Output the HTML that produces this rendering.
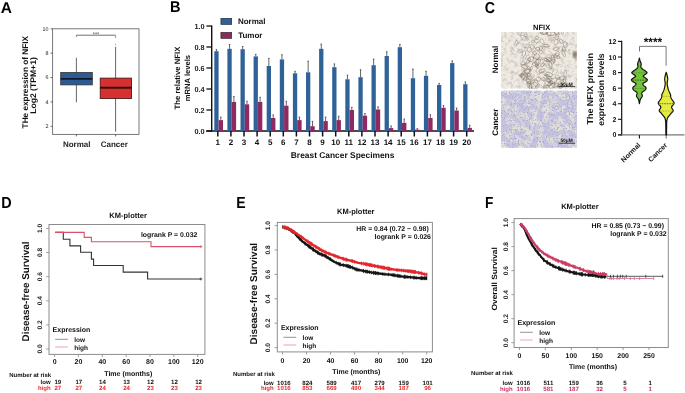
<!DOCTYPE html>
<html><head><meta charset="utf-8"><title>Figure</title>
<style>
html,body{margin:0;padding:0;background:#fff;width:685px;height:393px;overflow:hidden;}
svg{display:block;font-family:"Liberation Sans", sans-serif;will-change:transform;text-rendering:geometricPrecision;}
</style></head><body>
<svg width="685" height="393" viewBox="0 0 685 393">
<defs>
<clipPath id="clipN"><rect x="501" y="32" width="76" height="56.8"/></clipPath>
<clipPath id="clipC"><rect x="501" y="90.6" width="76" height="57.1"/></clipPath>
<filter id="noiseN" x="0" y="0" width="100%" height="100%" color-interpolation-filters="sRGB">
 <feTurbulence type="fractalNoise" baseFrequency="0.28" numOctaves="3" seed="4"/>
 <feColorMatrix type="matrix" values="0 0 0 0 0.68  0 0 0 0 0.64  0 0 0 0 0.59  0 0 0 1.5 -0.68" />
</filter>
<filter id="noiseC" x="0" y="0" width="100%" height="100%" color-interpolation-filters="sRGB">
 <feTurbulence type="fractalNoise" baseFrequency="0.16" numOctaves="3" seed="9"/>
 <feColorMatrix type="matrix" values="0 0 0 0 0.775  0 0 0 0 0.77  0 0 0 0 0.88  0 0 0 5 -1.85" />
</filter>
<filter id="noiseC2" x="0" y="0" width="100%" height="100%" color-interpolation-filters="sRGB">
 <feTurbulence type="fractalNoise" baseFrequency="0.65" numOctaves="2" seed="21"/>
 <feColorMatrix type="matrix" values="0 0 0 0 0.68  0 0 0 0 0.68  0 0 0 0 0.83  0 0 0 5 -2.6" />
</filter>
<filter id="blur03"><feGaussianBlur stdDeviation="0.35"/></filter>
<filter id="blur1"><feGaussianBlur stdDeviation="1"/></filter>
<filter id="blur05"><feGaussianBlur stdDeviation="0.6"/></filter>
</defs>
<rect width="685" height="393" fill="#fff"/>
<text x="0" y="0" font-size="15.5" font-weight="bold" fill="#000" transform="translate(0.81 12.90) scale(1.0 1)">A</text>
<rect x="52.6" y="28.8" width="86.4" height="105.6" fill="none" stroke="#6a6a6a" stroke-width="0.9"/>
<line x1="50.60" y1="126.32" x2="52.60" y2="126.32" stroke="#444" stroke-width="0.8" />
<text x="48.40" y="128.22" font-size="5.3" font-weight="normal" text-anchor="end" fill="#222" >2</text>
<line x1="50.60" y1="101.94" x2="52.60" y2="101.94" stroke="#444" stroke-width="0.8" />
<text x="48.40" y="103.84" font-size="5.3" font-weight="normal" text-anchor="end" fill="#222" >4</text>
<line x1="50.60" y1="77.56" x2="52.60" y2="77.56" stroke="#444" stroke-width="0.8" />
<text x="48.40" y="79.46" font-size="5.3" font-weight="normal" text-anchor="end" fill="#222" >6</text>
<line x1="50.60" y1="53.18" x2="52.60" y2="53.18" stroke="#444" stroke-width="0.8" />
<text x="48.40" y="55.08" font-size="5.3" font-weight="normal" text-anchor="end" fill="#222" >8</text>
<line x1="50.60" y1="28.80" x2="52.60" y2="28.80" stroke="#444" stroke-width="0.8" />
<text x="48.40" y="30.70" font-size="5.3" font-weight="normal" text-anchor="end" fill="#222" >10</text>
<line x1="76.40" y1="35.20" x2="115.60" y2="35.20" stroke="#707070" stroke-width="1.0" />
<line x1="76.40" y1="35.20" x2="76.40" y2="36.90" stroke="#707070" stroke-width="0.9" />
<line x1="115.60" y1="35.20" x2="115.60" y2="38.00" stroke="#8a8a8a" stroke-width="0.9" />
<text x="96.00" y="35.90" font-size="5.5" font-weight="normal" text-anchor="middle" fill="#333" >***</text>
<line x1="76.40" y1="57.80" x2="76.40" y2="102.30" stroke="#555" stroke-width="0.9" />
<rect x="60.70" y="72.50" width="31.60" height="12.40" fill="#2c5a94" stroke="#333" stroke-width="0.8" />
<line x1="60.70" y1="78.90" x2="92.30" y2="78.90" stroke="#101828" stroke-width="1.9" />
<line x1="115.60" y1="46.70" x2="115.60" y2="131.70" stroke="#555" stroke-width="0.9" />
<circle cx="115.6" cy="44.2" r="0.5" fill="#666"/>
<rect x="100.20" y="78.10" width="31.40" height="20.50" fill="#d63031" stroke="#3a1010" stroke-width="0.8" />
<line x1="100.20" y1="87.70" x2="131.60" y2="87.70" stroke="#2a0808" stroke-width="1.9" />
<line x1="76.40" y1="134.40" x2="76.40" y2="136.40" stroke="#444" stroke-width="0.8" />
<line x1="115.60" y1="134.40" x2="115.60" y2="136.40" stroke="#444" stroke-width="0.8" />
<text x="76.70" y="147.40" font-size="8" font-weight="bold" text-anchor="middle" fill="#222" >Normal</text>
<text x="114.30" y="147.40" font-size="8" font-weight="bold" text-anchor="middle" fill="#222" >Cancer</text>
<text x="28.20" y="82.20" font-size="8.2" font-weight="bold" text-anchor="middle" fill="#111" textLength="92.4" lengthAdjust="spacingAndGlyphs" transform="rotate(-90 28.20 82.20)" >THe expression of NFIX</text>
<text x="36.00" y="85.50" font-size="8.2" font-weight="bold" text-anchor="middle" fill="#111" textLength="56.6" lengthAdjust="spacingAndGlyphs" transform="rotate(-90 36.00 85.50)" >Log2 (TPM+1)</text>
<text x="0" y="0" font-size="15.5" font-weight="bold" fill="#000" transform="translate(170.02 12.10) scale(0.94 1)">B</text>
<line x1="211.70" y1="25.50" x2="211.70" y2="131.60" stroke="#111" stroke-width="1.4" />
<line x1="206.30" y1="131.00" x2="474.00" y2="131.00" stroke="#111" stroke-width="1.4" />
<line x1="206.40" y1="131.00" x2="211.70" y2="131.00" stroke="#111" stroke-width="1.3" />
<text x="204.60" y="133.50" font-size="7.3" font-weight="bold" text-anchor="end" fill="#222" >0.0</text>
<line x1="206.40" y1="110.00" x2="211.70" y2="110.00" stroke="#111" stroke-width="1.3" />
<text x="204.60" y="112.50" font-size="7.3" font-weight="bold" text-anchor="end" fill="#222" >0.2</text>
<line x1="206.40" y1="89.00" x2="211.70" y2="89.00" stroke="#111" stroke-width="1.3" />
<text x="204.60" y="91.50" font-size="7.3" font-weight="bold" text-anchor="end" fill="#222" >0.4</text>
<line x1="206.40" y1="68.00" x2="211.70" y2="68.00" stroke="#111" stroke-width="1.3" />
<text x="204.60" y="70.50" font-size="7.3" font-weight="bold" text-anchor="end" fill="#222" >0.6</text>
<line x1="206.40" y1="47.00" x2="211.70" y2="47.00" stroke="#111" stroke-width="1.3" />
<text x="204.60" y="49.50" font-size="7.3" font-weight="bold" text-anchor="end" fill="#222" >0.8</text>
<line x1="206.40" y1="26.00" x2="211.70" y2="26.00" stroke="#111" stroke-width="1.3" />
<text x="204.60" y="28.50" font-size="7.3" font-weight="bold" text-anchor="end" fill="#222" >1.0</text>
<line x1="216.45" y1="49.60" x2="216.45" y2="51.20" stroke="#222" stroke-width="0.7" />
<line x1="215.65" y1="49.60" x2="217.25" y2="49.60" stroke="#222" stroke-width="0.6" />
<rect x="214.30" y="51.20" width="4.30" height="79.80" fill="#30629a" stroke="none" stroke-width="0" />
<line x1="220.80" y1="117.00" x2="220.80" y2="120.10" stroke="#222" stroke-width="0.7" />
<line x1="220.00" y1="117.00" x2="221.60" y2="117.00" stroke="#222" stroke-width="0.6" />
<rect x="218.60" y="120.10" width="4.40" height="10.90" fill="#8e2a60" stroke="none" stroke-width="0" />
<line x1="217.80" y1="131.00" x2="217.80" y2="136.50" stroke="#111" stroke-width="1.5" />
<text x="217.80" y="145.00" font-size="8.0" font-weight="bold" text-anchor="middle" fill="#111" >1</text>
<line x1="229.55" y1="44.50" x2="229.55" y2="48.80" stroke="#222" stroke-width="0.7" />
<line x1="228.75" y1="44.50" x2="230.35" y2="44.50" stroke="#222" stroke-width="0.6" />
<rect x="227.40" y="48.80" width="4.30" height="82.20" fill="#30629a" stroke="none" stroke-width="0" />
<line x1="233.90" y1="96.50" x2="233.90" y2="101.90" stroke="#222" stroke-width="0.7" />
<line x1="233.10" y1="96.50" x2="234.70" y2="96.50" stroke="#222" stroke-width="0.6" />
<rect x="231.70" y="101.90" width="4.40" height="29.10" fill="#8e2a60" stroke="none" stroke-width="0" />
<line x1="230.90" y1="131.00" x2="230.90" y2="136.50" stroke="#111" stroke-width="1.5" />
<text x="230.90" y="145.00" font-size="8.0" font-weight="bold" text-anchor="middle" fill="#111" >2</text>
<line x1="242.65" y1="46.50" x2="242.65" y2="49.20" stroke="#222" stroke-width="0.7" />
<line x1="241.85" y1="46.50" x2="243.45" y2="46.50" stroke="#222" stroke-width="0.6" />
<rect x="240.50" y="49.20" width="4.30" height="81.80" fill="#30629a" stroke="none" stroke-width="0" />
<line x1="247.00" y1="101.20" x2="247.00" y2="104.30" stroke="#222" stroke-width="0.7" />
<line x1="246.20" y1="101.20" x2="247.80" y2="101.20" stroke="#222" stroke-width="0.6" />
<rect x="244.80" y="104.30" width="4.40" height="26.70" fill="#8e2a60" stroke="none" stroke-width="0" />
<line x1="244.00" y1="131.00" x2="244.00" y2="136.50" stroke="#111" stroke-width="1.5" />
<text x="244.00" y="145.00" font-size="8.0" font-weight="bold" text-anchor="middle" fill="#111" >3</text>
<line x1="255.75" y1="54.30" x2="255.75" y2="56.40" stroke="#222" stroke-width="0.7" />
<line x1="254.95" y1="54.30" x2="256.55" y2="54.30" stroke="#222" stroke-width="0.6" />
<rect x="253.60" y="56.40" width="4.30" height="74.60" fill="#30629a" stroke="none" stroke-width="0" />
<line x1="260.10" y1="97.20" x2="260.10" y2="101.90" stroke="#222" stroke-width="0.7" />
<line x1="259.30" y1="97.20" x2="260.90" y2="97.20" stroke="#222" stroke-width="0.6" />
<rect x="257.90" y="101.90" width="4.40" height="29.10" fill="#8e2a60" stroke="none" stroke-width="0" />
<line x1="257.10" y1="131.00" x2="257.10" y2="136.50" stroke="#111" stroke-width="1.5" />
<text x="257.10" y="145.00" font-size="8.0" font-weight="bold" text-anchor="middle" fill="#111" >4</text>
<line x1="268.85" y1="58.40" x2="268.85" y2="66.00" stroke="#222" stroke-width="0.7" />
<line x1="268.05" y1="58.40" x2="269.65" y2="58.40" stroke="#222" stroke-width="0.6" />
<rect x="266.70" y="66.00" width="4.30" height="65.00" fill="#30629a" stroke="none" stroke-width="0" />
<line x1="273.20" y1="114.90" x2="273.20" y2="118.00" stroke="#222" stroke-width="0.7" />
<line x1="272.40" y1="114.90" x2="274.00" y2="114.90" stroke="#222" stroke-width="0.6" />
<rect x="271.00" y="118.00" width="4.40" height="13.00" fill="#8e2a60" stroke="none" stroke-width="0" />
<line x1="270.20" y1="131.00" x2="270.20" y2="136.50" stroke="#111" stroke-width="1.5" />
<text x="270.20" y="145.00" font-size="8.0" font-weight="bold" text-anchor="middle" fill="#111" >5</text>
<line x1="281.95" y1="54.70" x2="281.95" y2="59.40" stroke="#222" stroke-width="0.7" />
<line x1="281.15" y1="54.70" x2="282.75" y2="54.70" stroke="#222" stroke-width="0.6" />
<rect x="279.80" y="59.40" width="4.30" height="71.60" fill="#30629a" stroke="none" stroke-width="0" />
<line x1="286.30" y1="101.20" x2="286.30" y2="105.70" stroke="#222" stroke-width="0.7" />
<line x1="285.50" y1="101.20" x2="287.10" y2="101.20" stroke="#222" stroke-width="0.6" />
<rect x="284.10" y="105.70" width="4.40" height="25.30" fill="#8e2a60" stroke="none" stroke-width="0" />
<line x1="283.30" y1="131.00" x2="283.30" y2="136.50" stroke="#111" stroke-width="1.5" />
<text x="283.30" y="145.00" font-size="8.0" font-weight="bold" text-anchor="middle" fill="#111" >6</text>
<line x1="295.05" y1="71.30" x2="295.05" y2="73.30" stroke="#222" stroke-width="0.7" />
<line x1="294.25" y1="71.30" x2="295.85" y2="71.30" stroke="#222" stroke-width="0.6" />
<rect x="292.90" y="73.30" width="4.30" height="57.70" fill="#30629a" stroke="none" stroke-width="0" />
<line x1="299.40" y1="117.00" x2="299.40" y2="120.10" stroke="#222" stroke-width="0.7" />
<line x1="298.60" y1="117.00" x2="300.20" y2="117.00" stroke="#222" stroke-width="0.6" />
<rect x="297.20" y="120.10" width="4.40" height="10.90" fill="#8e2a60" stroke="none" stroke-width="0" />
<line x1="296.40" y1="131.00" x2="296.40" y2="136.50" stroke="#111" stroke-width="1.5" />
<text x="296.40" y="145.00" font-size="8.0" font-weight="bold" text-anchor="middle" fill="#111" >7</text>
<line x1="308.15" y1="61.10" x2="308.15" y2="72.30" stroke="#222" stroke-width="0.7" />
<line x1="307.35" y1="61.10" x2="308.95" y2="61.10" stroke="#222" stroke-width="0.6" />
<rect x="306.00" y="72.30" width="4.30" height="58.70" fill="#30629a" stroke="none" stroke-width="0" />
<line x1="312.50" y1="121.30" x2="312.50" y2="126.20" stroke="#222" stroke-width="0.7" />
<line x1="311.70" y1="121.30" x2="313.30" y2="121.30" stroke="#222" stroke-width="0.6" />
<rect x="310.30" y="126.20" width="4.40" height="4.80" fill="#8e2a60" stroke="none" stroke-width="0" />
<line x1="309.50" y1="131.00" x2="309.50" y2="136.50" stroke="#111" stroke-width="1.5" />
<text x="309.50" y="145.00" font-size="8.0" font-weight="bold" text-anchor="middle" fill="#111" >8</text>
<line x1="321.25" y1="44.10" x2="321.25" y2="48.80" stroke="#222" stroke-width="0.7" />
<line x1="320.45" y1="44.10" x2="322.05" y2="44.10" stroke="#222" stroke-width="0.6" />
<rect x="319.10" y="48.80" width="4.30" height="82.20" fill="#30629a" stroke="none" stroke-width="0" />
<line x1="325.60" y1="117.00" x2="325.60" y2="121.10" stroke="#222" stroke-width="0.7" />
<line x1="324.80" y1="117.00" x2="326.40" y2="117.00" stroke="#222" stroke-width="0.6" />
<rect x="323.40" y="121.10" width="4.40" height="9.90" fill="#8e2a60" stroke="none" stroke-width="0" />
<line x1="322.60" y1="131.00" x2="322.60" y2="136.50" stroke="#111" stroke-width="1.5" />
<text x="322.60" y="145.00" font-size="8.0" font-weight="bold" text-anchor="middle" fill="#111" >9</text>
<line x1="334.35" y1="63.90" x2="334.35" y2="67.20" stroke="#222" stroke-width="0.7" />
<line x1="333.55" y1="63.90" x2="335.15" y2="63.90" stroke="#222" stroke-width="0.6" />
<rect x="332.20" y="67.20" width="4.30" height="63.80" fill="#30629a" stroke="none" stroke-width="0" />
<line x1="338.70" y1="116.20" x2="338.70" y2="120.10" stroke="#222" stroke-width="0.7" />
<line x1="337.90" y1="116.20" x2="339.50" y2="116.20" stroke="#222" stroke-width="0.6" />
<rect x="336.50" y="120.10" width="4.40" height="10.90" fill="#8e2a60" stroke="none" stroke-width="0" />
<line x1="335.70" y1="131.00" x2="335.70" y2="136.50" stroke="#111" stroke-width="1.5" />
<text x="335.70" y="145.00" font-size="8.0" font-weight="bold" text-anchor="middle" fill="#111" >10</text>
<line x1="347.45" y1="75.20" x2="347.45" y2="79.30" stroke="#222" stroke-width="0.7" />
<line x1="346.65" y1="75.20" x2="348.25" y2="75.20" stroke="#222" stroke-width="0.6" />
<rect x="345.30" y="79.30" width="4.30" height="51.70" fill="#30629a" stroke="none" stroke-width="0" />
<line x1="351.80" y1="107.30" x2="351.80" y2="110.00" stroke="#222" stroke-width="0.7" />
<line x1="351.00" y1="107.30" x2="352.60" y2="107.30" stroke="#222" stroke-width="0.6" />
<rect x="349.60" y="110.00" width="4.40" height="21.00" fill="#8e2a60" stroke="none" stroke-width="0" />
<line x1="348.80" y1="131.00" x2="348.80" y2="136.50" stroke="#111" stroke-width="1.5" />
<text x="348.80" y="145.00" font-size="8.0" font-weight="bold" text-anchor="middle" fill="#111" >11</text>
<line x1="360.55" y1="69.70" x2="360.55" y2="77.20" stroke="#222" stroke-width="0.7" />
<line x1="359.75" y1="69.70" x2="361.35" y2="69.70" stroke="#222" stroke-width="0.6" />
<rect x="358.40" y="77.20" width="4.30" height="53.80" fill="#30629a" stroke="none" stroke-width="0" />
<line x1="364.90" y1="113.50" x2="364.90" y2="115.70" stroke="#222" stroke-width="0.7" />
<line x1="364.10" y1="113.50" x2="365.70" y2="113.50" stroke="#222" stroke-width="0.6" />
<rect x="362.70" y="115.70" width="4.40" height="15.30" fill="#8e2a60" stroke="none" stroke-width="0" />
<line x1="361.90" y1="131.00" x2="361.90" y2="136.50" stroke="#111" stroke-width="1.5" />
<text x="361.90" y="145.00" font-size="8.0" font-weight="bold" text-anchor="middle" fill="#111" >12</text>
<line x1="373.65" y1="59.00" x2="373.65" y2="65.20" stroke="#222" stroke-width="0.7" />
<line x1="372.85" y1="59.00" x2="374.45" y2="59.00" stroke="#222" stroke-width="0.6" />
<rect x="371.50" y="65.20" width="4.30" height="65.80" fill="#30629a" stroke="none" stroke-width="0" />
<line x1="378.00" y1="106.80" x2="378.00" y2="109.50" stroke="#222" stroke-width="0.7" />
<line x1="377.20" y1="106.80" x2="378.80" y2="106.80" stroke="#222" stroke-width="0.6" />
<rect x="375.80" y="109.50" width="4.40" height="21.50" fill="#8e2a60" stroke="none" stroke-width="0" />
<line x1="375.00" y1="131.00" x2="375.00" y2="136.50" stroke="#111" stroke-width="1.5" />
<text x="375.00" y="145.00" font-size="8.0" font-weight="bold" text-anchor="middle" fill="#111" >13</text>
<line x1="386.75" y1="51.70" x2="386.75" y2="56.00" stroke="#222" stroke-width="0.7" />
<line x1="385.95" y1="51.70" x2="387.55" y2="51.70" stroke="#222" stroke-width="0.6" />
<rect x="384.60" y="56.00" width="4.30" height="75.00" fill="#30629a" stroke="none" stroke-width="0" />
<line x1="391.10" y1="125.90" x2="391.10" y2="128.10" stroke="#222" stroke-width="0.7" />
<line x1="390.30" y1="125.90" x2="391.90" y2="125.90" stroke="#222" stroke-width="0.6" />
<rect x="388.90" y="128.10" width="4.40" height="2.90" fill="#8e2a60" stroke="none" stroke-width="0" />
<line x1="388.10" y1="131.00" x2="388.10" y2="136.50" stroke="#111" stroke-width="1.5" />
<text x="388.10" y="145.00" font-size="8.0" font-weight="bold" text-anchor="middle" fill="#111" >14</text>
<line x1="399.85" y1="44.50" x2="399.85" y2="47.20" stroke="#222" stroke-width="0.7" />
<line x1="399.05" y1="44.50" x2="400.65" y2="44.50" stroke="#222" stroke-width="0.6" />
<rect x="397.70" y="47.20" width="4.30" height="83.80" fill="#30629a" stroke="none" stroke-width="0" />
<line x1="404.20" y1="119.00" x2="404.20" y2="122.90" stroke="#222" stroke-width="0.7" />
<line x1="403.40" y1="119.00" x2="405.00" y2="119.00" stroke="#222" stroke-width="0.6" />
<rect x="402.00" y="122.90" width="4.40" height="8.10" fill="#8e2a60" stroke="none" stroke-width="0" />
<line x1="401.20" y1="131.00" x2="401.20" y2="136.50" stroke="#111" stroke-width="1.5" />
<text x="401.20" y="145.00" font-size="8.0" font-weight="bold" text-anchor="middle" fill="#111" >15</text>
<line x1="412.95" y1="69.00" x2="412.95" y2="78.20" stroke="#222" stroke-width="0.7" />
<line x1="412.15" y1="69.00" x2="413.75" y2="69.00" stroke="#222" stroke-width="0.6" />
<rect x="410.80" y="78.20" width="4.30" height="52.80" fill="#30629a" stroke="none" stroke-width="0" />
<line x1="417.30" y1="128.60" x2="417.30" y2="129.60" stroke="#222" stroke-width="0.7" />
<line x1="416.50" y1="128.60" x2="418.10" y2="128.60" stroke="#222" stroke-width="0.6" />
<rect x="415.10" y="129.60" width="4.40" height="1.40" fill="#8e2a60" stroke="none" stroke-width="0" />
<line x1="414.30" y1="131.00" x2="414.30" y2="136.50" stroke="#111" stroke-width="1.5" />
<text x="414.30" y="145.00" font-size="8.0" font-weight="bold" text-anchor="middle" fill="#111" >16</text>
<line x1="426.05" y1="71.30" x2="426.05" y2="75.80" stroke="#222" stroke-width="0.7" />
<line x1="425.25" y1="71.30" x2="426.85" y2="71.30" stroke="#222" stroke-width="0.6" />
<rect x="423.90" y="75.80" width="4.30" height="55.20" fill="#30629a" stroke="none" stroke-width="0" />
<line x1="430.40" y1="114.70" x2="430.40" y2="118.00" stroke="#222" stroke-width="0.7" />
<line x1="429.60" y1="114.70" x2="431.20" y2="114.70" stroke="#222" stroke-width="0.6" />
<rect x="428.20" y="118.00" width="4.40" height="13.00" fill="#8e2a60" stroke="none" stroke-width="0" />
<line x1="427.40" y1="131.00" x2="427.40" y2="136.50" stroke="#111" stroke-width="1.5" />
<text x="427.40" y="145.00" font-size="8.0" font-weight="bold" text-anchor="middle" fill="#111" >17</text>
<line x1="439.15" y1="83.40" x2="439.15" y2="85.00" stroke="#222" stroke-width="0.7" />
<line x1="438.35" y1="83.40" x2="439.95" y2="83.40" stroke="#222" stroke-width="0.6" />
<rect x="437.00" y="85.00" width="4.30" height="46.00" fill="#30629a" stroke="none" stroke-width="0" />
<line x1="443.50" y1="105.60" x2="443.50" y2="107.80" stroke="#222" stroke-width="0.7" />
<line x1="442.70" y1="105.60" x2="444.30" y2="105.60" stroke="#222" stroke-width="0.6" />
<rect x="441.30" y="107.80" width="4.40" height="23.20" fill="#8e2a60" stroke="none" stroke-width="0" />
<line x1="440.50" y1="131.00" x2="440.50" y2="136.50" stroke="#111" stroke-width="1.5" />
<text x="440.50" y="145.00" font-size="8.0" font-weight="bold" text-anchor="middle" fill="#111" >18</text>
<line x1="452.25" y1="60.90" x2="452.25" y2="63.10" stroke="#222" stroke-width="0.7" />
<line x1="451.45" y1="60.90" x2="453.05" y2="60.90" stroke="#222" stroke-width="0.6" />
<rect x="450.10" y="63.10" width="4.30" height="67.90" fill="#30629a" stroke="none" stroke-width="0" />
<line x1="456.60" y1="108.00" x2="456.60" y2="110.50" stroke="#222" stroke-width="0.7" />
<line x1="455.80" y1="108.00" x2="457.40" y2="108.00" stroke="#222" stroke-width="0.6" />
<rect x="454.40" y="110.50" width="4.40" height="20.50" fill="#8e2a60" stroke="none" stroke-width="0" />
<line x1="453.60" y1="131.00" x2="453.60" y2="136.50" stroke="#111" stroke-width="1.5" />
<text x="453.60" y="145.00" font-size="8.0" font-weight="bold" text-anchor="middle" fill="#111" >19</text>
<line x1="465.35" y1="81.90" x2="465.35" y2="84.20" stroke="#222" stroke-width="0.7" />
<line x1="464.55" y1="81.90" x2="466.15" y2="81.90" stroke="#222" stroke-width="0.6" />
<rect x="463.20" y="84.20" width="4.30" height="46.80" fill="#30629a" stroke="none" stroke-width="0" />
<line x1="469.70" y1="125.20" x2="469.70" y2="127.90" stroke="#222" stroke-width="0.7" />
<line x1="468.90" y1="125.20" x2="470.50" y2="125.20" stroke="#222" stroke-width="0.6" />
<rect x="467.50" y="127.90" width="4.40" height="3.10" fill="#8e2a60" stroke="none" stroke-width="0" />
<line x1="466.70" y1="131.00" x2="466.70" y2="136.50" stroke="#111" stroke-width="1.5" />
<text x="466.70" y="145.00" font-size="8.0" font-weight="bold" text-anchor="middle" fill="#111" >20</text>
<text x="290.80" y="157.80" font-size="8.4" font-weight="bold" text-anchor="start" fill="#111" textLength="103.6" lengthAdjust="spacingAndGlyphs" >Breast Cancer Specimens</text>
<rect x="220.90" y="18.30" width="10.80" height="6.20" fill="#30629a" stroke="#222" stroke-width="0.6" />
<rect x="220.90" y="32.40" width="10.80" height="6.00" fill="#8e2a60" stroke="#222" stroke-width="0.6" />
<text x="237.90" y="24.30" font-size="8" font-weight="bold" text-anchor="start" fill="#111" >Normal</text>
<text x="238.20" y="38.30" font-size="8" font-weight="bold" text-anchor="start" fill="#111" >Tumor</text>
<text x="180.50" y="78.05" font-size="7.75" font-weight="bold" text-anchor="middle" fill="#111" textLength="62.9" lengthAdjust="spacingAndGlyphs" transform="rotate(-90 180.50 78.05)" >The relative NFIX</text>
<text x="189.70" y="78.05" font-size="7.6" font-weight="bold" text-anchor="middle" fill="#111" textLength="46.3" lengthAdjust="spacingAndGlyphs" transform="rotate(-90 189.70 78.05)" >mRNA levels</text>
<text x="0" y="0" font-size="15.8" font-weight="bold" fill="#000" transform="translate(484.72 12.60) scale(0.9 1)">C</text>
<text x="541.60" y="29.60" font-size="7.5" font-weight="bold" text-anchor="middle" fill="#111" >NFIX</text>
<g clip-path="url(#clipN)">
<rect x="501.00" y="32.00" width="76.00" height="56.80" fill="#efebe4" stroke="none" stroke-width="0" />
<rect x="501" y="32" width="76" height="56.8" filter="url(#noiseN)"/>
<g fill="none" stroke="#76685b" stroke-width="0.75" filter="url(#blur03)">
<path d="M552.3,74.6 L552.4,75.0 L552.3,75.4 L552.1,75.9 L551.8,76.2 L551.4,76.4 L550.8,76.6 L549.9,76.6 L549.0,76.5 L548.1,76.4 L547.3,76.2 L546.5,76.0 L545.7,75.8 L544.9,75.5 L544.3,75.2 L544.0,74.9 L544.0,74.6 L544.3,74.3 L544.8,74.0 L545.3,73.7 L545.8,73.4 L546.1,73.1 L546.5,72.8 L546.9,72.6 L547.3,72.4 L547.8,72.4 L548.3,72.4 L548.9,72.5 L549.6,72.7 L550.2,72.9 L550.7,73.2 L551.1,73.4 L551.6,73.7 L551.9,74.0 L552.2,74.3Z" opacity="0.72"/>
<path d="M541.3,65.9 L541.1,65.7 L540.9,65.5 L540.7,65.3 L540.6,65.1 L540.6,64.9 L540.8,64.6 L541.1,64.4 L541.5,64.1 L541.9,63.9 L542.3,63.6 L542.6,63.4 L543.0,63.2 L543.3,63.0 L543.6,62.8 L543.9,62.8 L544.0,62.9 L544.1,63.1 L544.2,63.4 L544.2,63.7 L544.2,64.0 L544.2,64.2 L544.1,64.5 L544.0,64.7 L543.8,64.9 L543.6,65.2 L543.4,65.5 L543.1,65.9 L542.9,66.3 L542.6,66.7 L542.3,66.8 L542.1,66.8 L541.9,66.7 L541.7,66.4 L541.5,66.2Z" opacity="0.72"/>
<path d="M539.1,71.8 L539.0,71.5 L539.1,71.1 L539.2,70.8 L539.5,70.4 L539.8,70.1 L540.2,69.8 L540.8,69.6 L541.4,69.3 L542.0,69.1 L542.5,69.0 L543.1,68.9 L543.6,68.9 L544.1,68.9 L544.5,69.0 L544.8,69.1 L545.1,69.3 L545.2,69.5 L545.2,69.8 L545.2,70.0 L545.1,70.3 L545.0,70.6 L544.7,71.0 L544.4,71.3 L544.1,71.6 L543.6,71.9 L543.1,72.2 L542.4,72.5 L541.7,72.7 L541.0,72.9 L540.4,73.0 L540.0,72.9 L539.6,72.7 L539.4,72.4 L539.2,72.1Z" opacity="0.74"/>
<path d="M528.7,79.2 L528.5,79.4 L528.1,79.5 L527.6,79.6 L527.1,79.7 L526.6,79.8 L526.2,79.9 L525.8,80.1 L525.4,80.2 L525.1,80.3 L524.7,80.3 L524.3,80.2 L523.8,79.9 L523.3,79.6 L523.0,79.3 L522.8,79.0 L522.9,78.8 L523.1,78.5 L523.5,78.3 L523.8,78.1 L524.1,77.9 L524.3,77.6 L524.6,77.3 L524.8,77.0 L525.0,76.8 L525.3,76.7 L525.7,76.8 L526.1,77.0 L526.5,77.2 L526.9,77.5 L527.3,77.7 L527.6,78.0 L528.1,78.3 L528.4,78.7 L528.7,79.0Z" opacity="0.63"/>
<path d="M543.3,34.4 L543.0,34.1 L542.8,33.6 L542.6,33.1 L542.5,32.6 L542.5,32.2 L542.7,31.8 L543.0,31.5 L543.4,31.2 L543.8,31.0 L544.2,30.8 L544.5,30.7 L544.9,30.6 L545.3,30.6 L545.6,30.6 L545.9,30.6 L546.2,30.8 L546.6,31.0 L546.9,31.2 L547.1,31.5 L547.3,31.8 L547.5,32.2 L547.5,32.7 L547.6,33.2 L547.5,33.6 L547.3,33.9 L547.1,34.1 L546.7,34.2 L546.3,34.2 L545.8,34.2 L545.4,34.2 L545.0,34.3 L544.5,34.4 L544.0,34.5 L543.6,34.5Z" opacity="0.43"/>
<path d="M558.6,79.2 L558.2,79.4 L557.8,79.6 L557.3,79.7 L556.8,79.7 L556.5,79.7 L556.2,79.5 L556.1,79.2 L555.9,78.8 L555.8,78.4 L555.8,78.0 L555.7,77.7 L555.6,77.3 L555.5,76.9 L555.5,76.5 L555.6,76.2 L555.9,76.0 L556.3,75.8 L556.8,75.6 L557.3,75.5 L557.7,75.5 L558.0,75.5 L558.3,75.6 L558.6,75.8 L558.9,76.0 L559.1,76.2 L559.3,76.4 L559.4,76.7 L559.5,77.0 L559.5,77.3 L559.5,77.6 L559.4,77.9 L559.3,78.3 L559.1,78.6 L558.8,78.9Z" opacity="0.39"/>
<path d="M553.8,90.3 L553.4,90.4 L553.0,90.5 L552.6,90.6 L552.2,90.6 L551.9,90.5 L551.6,90.3 L551.3,90.1 L551.0,89.8 L550.8,89.4 L550.7,89.1 L550.8,88.8 L551.0,88.4 L551.3,88.1 L551.6,87.8 L551.9,87.5 L552.3,87.3 L552.6,87.2 L553.0,87.0 L553.4,87.0 L553.7,87.0 L554.0,87.1 L554.2,87.3 L554.4,87.5 L554.6,87.8 L554.8,88.0 L555.0,88.3 L555.3,88.6 L555.6,89.0 L555.8,89.3 L555.8,89.6 L555.6,89.8 L555.2,90.0 L554.7,90.1 L554.2,90.2Z" opacity="0.56"/>
<path d="M550.6,79.1 L550.4,79.2 L550.2,79.4 L550.0,79.5 L549.7,79.5 L549.4,79.4 L549.0,79.2 L548.6,78.7 L548.1,78.2 L547.7,77.7 L547.4,77.2 L547.1,76.7 L546.9,76.1 L546.7,75.6 L546.6,75.1 L546.6,74.8 L546.7,74.6 L547.0,74.5 L547.3,74.5 L547.6,74.6 L548.0,74.7 L548.3,74.8 L548.6,74.9 L549.0,75.1 L549.3,75.4 L549.6,75.7 L549.9,76.1 L550.3,76.5 L550.6,77.0 L550.9,77.4 L551.1,77.8 L551.1,78.1 L551.1,78.4 L551.0,78.7 L550.8,78.9Z" opacity="0.69"/>
<path d="M535.7,48.9 L535.8,48.6 L535.9,48.3 L536.1,48.0 L536.3,47.8 L536.5,47.6 L536.8,47.4 L537.2,47.3 L537.5,47.2 L537.9,47.2 L538.2,47.2 L538.5,47.3 L538.7,47.4 L539.0,47.5 L539.2,47.7 L539.3,47.9 L539.5,48.1 L539.6,48.3 L539.7,48.5 L539.7,48.7 L539.7,48.9 L539.6,49.2 L539.4,49.5 L539.3,49.8 L539.0,50.0 L538.7,50.2 L538.4,50.3 L537.9,50.4 L537.4,50.4 L536.9,50.3 L536.6,50.2 L536.3,50.0 L536.1,49.8 L535.9,49.5 L535.8,49.2Z" opacity="0.75"/>
<path d="M530.9,80.2 L530.6,80.2 L530.2,80.0 L529.8,79.7 L529.4,79.4 L529.0,79.0 L528.6,78.7 L528.3,78.3 L528.0,77.8 L527.7,77.4 L527.4,76.9 L527.3,76.3 L527.1,75.7 L527.0,75.0 L527.0,74.4 L527.1,74.0 L527.3,73.7 L527.6,73.4 L528.0,73.3 L528.4,73.3 L528.8,73.4 L529.1,73.6 L529.5,74.0 L529.9,74.5 L530.2,75.0 L530.5,75.5 L530.9,76.1 L531.3,76.7 L531.7,77.3 L532.0,77.9 L532.1,78.4 L532.1,78.9 L531.9,79.4 L531.6,79.8 L531.3,80.1Z" opacity="0.65"/>
<path d="M550.8,68.7 L550.6,68.6 L550.3,68.4 L550.0,68.1 L549.7,67.7 L549.5,67.3 L549.3,66.8 L549.1,66.2 L548.9,65.6 L548.8,65.0 L548.8,64.5 L548.8,64.1 L549.0,63.6 L549.2,63.3 L549.4,62.9 L549.6,62.7 L549.8,62.4 L550.0,62.2 L550.3,62.1 L550.5,62.0 L550.7,62.1 L551.0,62.3 L551.2,62.7 L551.5,63.1 L551.7,63.6 L551.8,64.2 L551.9,64.7 L552.0,65.4 L552.0,66.0 L552.0,66.7 L551.9,67.2 L551.8,67.6 L551.6,68.0 L551.4,68.3 L551.1,68.6Z" opacity="0.62"/>
<path d="M528.4,83.5 L528.1,83.3 L527.8,83.0 L527.5,82.6 L527.3,82.1 L527.1,81.7 L526.8,81.2 L526.5,80.7 L526.2,80.1 L526.1,79.6 L526.0,79.0 L526.2,78.4 L526.4,77.7 L526.8,77.1 L527.2,76.5 L527.6,76.2 L528.0,76.1 L528.4,76.2 L528.9,76.5 L529.3,76.8 L529.7,77.1 L530.0,77.5 L530.3,77.9 L530.6,78.3 L530.9,78.8 L531.0,79.3 L531.0,80.0 L530.9,80.7 L530.8,81.4 L530.6,82.0 L530.4,82.5 L530.0,82.9 L529.6,83.2 L529.2,83.4 L528.7,83.5Z" opacity="0.73"/>
<path d="M555.0,45.1 L554.7,44.9 L554.5,44.6 L554.3,44.1 L554.1,43.6 L554.1,43.1 L554.1,42.6 L554.2,42.0 L554.3,41.3 L554.5,40.7 L554.7,40.3 L555.0,40.0 L555.4,39.8 L555.8,39.8 L556.2,39.7 L556.5,39.7 L556.8,39.6 L557.1,39.6 L557.4,39.7 L557.6,39.8 L557.8,39.9 L557.9,40.2 L558.1,40.6 L558.2,41.0 L558.2,41.4 L558.2,41.8 L558.1,42.3 L557.9,42.9 L557.6,43.4 L557.3,43.9 L557.0,44.3 L556.6,44.6 L556.2,44.9 L555.7,45.1 L555.3,45.2Z" opacity="0.52"/>
<path d="M515.6,45.3 L515.3,45.3 L514.9,45.3 L514.6,45.2 L514.4,45.0 L514.2,44.7 L514.3,44.3 L514.5,43.8 L514.8,43.3 L515.1,42.8 L515.4,42.3 L515.6,41.9 L515.8,41.4 L515.9,41.0 L516.1,40.7 L516.3,40.5 L516.6,40.5 L516.8,40.5 L517.0,40.6 L517.3,40.8 L517.4,41.0 L517.6,41.3 L517.7,41.7 L517.8,42.1 L517.8,42.5 L517.8,42.8 L517.7,43.2 L517.5,43.6 L517.2,44.0 L517.0,44.3 L516.8,44.6 L516.5,44.8 L516.3,45.0 L516.1,45.2 L515.8,45.3Z" opacity="0.59"/>
<path d="M565.3,56.2 L565.1,56.4 L564.9,56.4 L564.5,56.4 L564.2,56.3 L563.9,56.1 L563.5,55.7 L563.1,55.1 L562.7,54.4 L562.4,53.8 L562.1,53.2 L561.9,52.8 L561.9,52.3 L561.9,51.9 L561.9,51.5 L561.9,51.1 L562.0,50.8 L562.1,50.5 L562.2,50.2 L562.4,50.1 L562.6,50.1 L562.9,50.3 L563.3,50.6 L563.7,51.1 L564.1,51.6 L564.4,52.0 L564.7,52.5 L564.9,53.0 L565.1,53.6 L565.2,54.1 L565.3,54.5 L565.4,54.9 L565.5,55.3 L565.5,55.7 L565.4,56.0Z" opacity="0.57"/>
<path d="M530.6,83.8 L530.4,84.2 L530.2,84.5 L529.9,84.8 L529.6,85.0 L529.3,85.1 L529.0,85.0 L528.6,84.9 L528.2,84.7 L527.9,84.4 L527.6,84.2 L527.3,83.9 L527.1,83.7 L526.9,83.4 L526.8,83.1 L526.8,82.8 L526.8,82.6 L526.9,82.3 L527.1,82.1 L527.3,81.9 L527.5,81.7 L527.8,81.6 L528.0,81.5 L528.3,81.4 L528.6,81.4 L528.9,81.4 L529.3,81.5 L529.7,81.5 L530.2,81.7 L530.5,81.8 L530.8,82.1 L530.9,82.3 L530.9,82.7 L530.8,83.1 L530.7,83.5Z" opacity="0.60"/>
<path d="M530.8,89.8 L530.6,89.7 L530.4,89.6 L530.2,89.3 L530.0,88.9 L529.8,88.6 L529.6,88.1 L529.4,87.6 L529.2,87.0 L529.0,86.4 L529.0,85.9 L529.1,85.4 L529.3,85.0 L529.6,84.6 L529.8,84.2 L530.1,84.0 L530.3,83.9 L530.6,83.9 L530.8,83.9 L531.0,84.1 L531.2,84.3 L531.4,84.5 L531.6,84.9 L531.8,85.3 L532.0,85.7 L532.0,86.1 L532.0,86.5 L532.0,87.0 L531.9,87.5 L531.7,87.9 L531.6,88.3 L531.5,88.7 L531.3,89.1 L531.1,89.4 L530.9,89.7Z" opacity="0.74"/>
<path d="M548.1,60.4 L547.6,60.4 L547.2,60.4 L546.8,60.3 L546.4,60.2 L546.1,59.8 L546.0,59.3 L545.9,58.5 L545.9,57.6 L546.0,56.8 L546.2,56.1 L546.4,55.6 L546.8,55.2 L547.2,54.9 L547.6,54.6 L547.9,54.4 L548.2,54.3 L548.6,54.3 L548.9,54.3 L549.2,54.4 L549.4,54.6 L549.6,54.9 L549.8,55.2 L549.9,55.7 L550.0,56.2 L550.0,56.8 L550.1,57.5 L550.2,58.3 L550.3,59.1 L550.2,59.8 L550.1,60.3 L549.8,60.6 L549.4,60.6 L549.0,60.6 L548.5,60.5Z" opacity="0.36"/>
<path d="M527.9,68.0 L527.7,68.2 L527.2,68.3 L526.7,68.4 L526.2,68.5 L525.6,68.5 L525.1,68.5 L524.6,68.4 L524.0,68.3 L523.5,68.2 L523.1,68.0 L522.7,67.8 L522.3,67.4 L522.0,67.1 L521.8,66.7 L521.7,66.3 L521.6,66.0 L521.7,65.8 L521.8,65.5 L522.0,65.3 L522.2,65.1 L522.5,64.9 L523.0,64.8 L523.4,64.7 L523.9,64.7 L524.4,64.7 L524.8,64.9 L525.4,65.1 L525.9,65.4 L526.4,65.8 L526.8,66.1 L527.1,66.5 L527.5,66.9 L527.7,67.3 L527.9,67.7Z" opacity="0.65"/>
<path d="M527.2,75.1 L527.2,74.8 L527.3,74.5 L527.5,74.2 L527.7,73.9 L527.9,73.7 L528.2,73.6 L528.5,73.5 L528.8,73.5 L529.1,73.5 L529.4,73.5 L529.7,73.4 L530.1,73.3 L530.5,73.3 L530.8,73.2 L531.0,73.3 L531.2,73.5 L531.2,73.7 L531.2,74.0 L531.1,74.3 L531.0,74.6 L530.9,74.8 L530.8,75.1 L530.6,75.3 L530.4,75.5 L530.1,75.7 L529.8,75.8 L529.5,75.9 L529.1,76.0 L528.8,76.0 L528.4,76.0 L528.1,75.9 L527.8,75.7 L527.5,75.5 L527.3,75.3Z" opacity="0.53"/>
<path d="M551.1,60.8 L550.9,61.1 L550.7,61.4 L550.5,61.6 L550.2,61.7 L549.9,61.8 L549.6,61.6 L549.3,61.3 L548.9,60.9 L548.5,60.5 L548.1,60.1 L547.7,59.8 L547.3,59.4 L546.9,59.1 L546.5,58.8 L546.4,58.5 L546.4,58.2 L546.5,57.9 L546.8,57.6 L547.1,57.4 L547.4,57.3 L547.8,57.3 L548.2,57.4 L548.7,57.6 L549.1,57.8 L549.5,58.0 L549.9,58.2 L550.2,58.5 L550.5,58.8 L550.8,59.1 L551.0,59.5 L551.1,59.7 L551.2,60.0 L551.2,60.3 L551.1,60.6Z" opacity="0.69"/>
<path d="M561.2,85.9 L560.9,86.0 L560.6,86.2 L560.3,86.3 L560.0,86.3 L559.7,86.2 L559.4,86.0 L558.9,85.6 L558.5,85.1 L558.1,84.7 L557.9,84.3 L557.9,83.9 L558.0,83.5 L558.1,83.1 L558.3,82.8 L558.5,82.5 L558.7,82.3 L558.8,82.0 L559.0,81.9 L559.2,81.8 L559.4,81.7 L559.8,81.7 L560.1,81.7 L560.6,81.8 L561.0,82.0 L561.3,82.3 L561.6,82.7 L561.9,83.2 L562.2,83.9 L562.3,84.5 L562.4,84.9 L562.3,85.2 L562.1,85.5 L561.8,85.6 L561.5,85.8Z" opacity="0.55"/>
<path d="M556.2,34.2 L556.0,34.5 L555.4,34.7 L554.7,34.9 L554.0,35.1 L553.3,35.2 L552.7,35.4 L552.1,35.5 L551.4,35.7 L550.8,35.7 L550.1,35.6 L549.4,35.4 L548.6,35.1 L547.8,34.8 L547.1,34.4 L546.7,34.0 L546.6,33.5 L546.6,33.0 L546.9,32.5 L547.2,32.1 L547.6,31.8 L548.1,31.6 L548.8,31.5 L549.5,31.5 L550.3,31.6 L551.0,31.6 L551.6,31.7 L552.2,31.8 L552.8,31.9 L553.3,32.0 L553.9,32.3 L554.5,32.6 L555.1,33.0 L555.7,33.4 L556.1,33.8Z" opacity="0.63"/>
<path d="M534.6,41.5 L534.6,41.7 L534.5,41.9 L534.5,42.1 L534.3,42.3 L534.2,42.4 L533.9,42.5 L533.6,42.5 L533.2,42.5 L532.8,42.5 L532.5,42.4 L532.1,42.2 L531.8,42.0 L531.5,41.8 L531.2,41.6 L531.1,41.3 L531.1,41.2 L531.3,41.0 L531.5,40.8 L531.8,40.6 L532.0,40.5 L532.2,40.3 L532.4,40.2 L532.6,40.1 L532.8,40.0 L533.1,40.0 L533.4,40.0 L533.7,40.1 L534.0,40.3 L534.2,40.4 L534.4,40.6 L534.5,40.8 L534.6,40.9 L534.6,41.1 L534.6,41.3Z" opacity="0.50"/>
<path d="M549.3,61.2 L549.2,61.3 L548.9,61.4 L548.6,61.5 L548.3,61.5 L547.9,61.5 L547.4,61.4 L546.9,61.3 L546.4,61.2 L546.0,61.0 L545.6,60.8 L545.2,60.5 L544.9,60.2 L544.7,59.9 L544.5,59.5 L544.4,59.2 L544.4,59.0 L544.4,58.7 L544.5,58.5 L544.6,58.4 L544.8,58.3 L545.1,58.3 L545.5,58.4 L545.9,58.5 L546.4,58.7 L546.8,58.8 L547.2,59.0 L547.6,59.2 L548.1,59.4 L548.4,59.6 L548.7,59.9 L549.0,60.1 L549.2,60.4 L549.3,60.7 L549.4,61.0Z" opacity="0.63"/>
<path d="M520.4,76.0 L520.2,75.9 L520.0,75.7 L519.8,75.5 L519.7,75.3 L519.7,75.0 L519.8,74.7 L520.0,74.4 L520.3,74.0 L520.6,73.7 L520.8,73.4 L521.1,73.3 L521.4,73.3 L521.7,73.3 L521.9,73.4 L522.2,73.4 L522.5,73.4 L522.8,73.5 L523.1,73.5 L523.3,73.6 L523.4,73.7 L523.4,73.9 L523.2,74.3 L523.0,74.6 L522.8,74.9 L522.5,75.2 L522.3,75.4 L522.1,75.6 L521.9,75.8 L521.7,76.0 L521.5,76.1 L521.3,76.2 L521.0,76.2 L520.8,76.2 L520.6,76.1Z" opacity="0.50"/>
<path d="M549.6,45.9 L549.4,46.1 L549.1,46.2 L548.6,46.4 L548.1,46.5 L547.6,46.6 L547.3,46.6 L546.9,46.7 L546.5,46.7 L546.2,46.7 L545.7,46.7 L545.2,46.6 L544.6,46.5 L543.9,46.4 L543.4,46.3 L543.0,46.1 L542.9,45.8 L542.9,45.5 L543.1,45.2 L543.3,44.9 L543.6,44.6 L543.9,44.5 L544.4,44.4 L544.9,44.4 L545.5,44.4 L545.9,44.4 L546.3,44.4 L546.7,44.5 L547.1,44.6 L547.5,44.7 L547.8,44.8 L548.3,45.0 L548.7,45.2 L549.2,45.5 L549.5,45.7Z" opacity="0.67"/>
<path d="M517.8,52.4 L517.6,52.1 L517.6,51.8 L517.6,51.4 L517.7,51.1 L517.8,50.7 L518.1,50.5 L518.5,50.2 L519.0,49.9 L519.4,49.7 L519.9,49.5 L520.4,49.3 L520.9,49.1 L521.4,49.0 L521.8,48.9 L522.1,48.9 L522.4,49.1 L522.5,49.3 L522.6,49.7 L522.6,50.0 L522.5,50.4 L522.4,50.7 L522.2,51.1 L522.0,51.4 L521.8,51.8 L521.5,52.0 L521.1,52.3 L520.7,52.5 L520.2,52.7 L519.8,52.8 L519.3,52.9 L519.0,52.9 L518.6,52.9 L518.2,52.8 L518.0,52.6Z" opacity="0.40"/>
<path d="M555.3,55.2 L555.2,54.9 L555.2,54.7 L555.2,54.4 L555.3,54.1 L555.4,53.9 L555.6,53.8 L555.9,53.7 L556.3,53.6 L556.7,53.6 L557.0,53.6 L557.3,53.5 L557.6,53.5 L557.9,53.4 L558.1,53.4 L558.4,53.5 L558.6,53.6 L558.8,53.8 L559.0,54.0 L559.1,54.3 L559.2,54.5 L559.0,54.7 L558.8,55.0 L558.5,55.3 L558.2,55.5 L557.9,55.7 L557.6,55.8 L557.3,55.9 L556.9,55.9 L556.6,55.9 L556.3,55.8 L556.1,55.8 L555.8,55.7 L555.6,55.5 L555.5,55.4Z" opacity="0.37"/>
<path d="M535.4,38.3 L535.3,38.1 L535.3,37.9 L535.4,37.6 L535.4,37.4 L535.6,37.2 L535.7,37.0 L536.0,36.8 L536.3,36.6 L536.6,36.4 L536.9,36.3 L537.2,36.3 L537.5,36.3 L537.8,36.4 L538.0,36.5 L538.2,36.6 L538.4,36.8 L538.6,37.0 L538.7,37.2 L538.8,37.4 L538.8,37.6 L538.7,37.8 L538.5,38.1 L538.3,38.3 L538.1,38.5 L537.8,38.7 L537.5,38.9 L537.2,39.0 L536.8,39.2 L536.5,39.2 L536.2,39.3 L536.0,39.2 L535.8,39.0 L535.6,38.8 L535.5,38.5Z" opacity="0.50"/>
<path d="M535.7,87.9 L535.6,87.7 L535.5,87.4 L535.5,87.2 L535.5,86.9 L535.6,86.6 L535.8,86.2 L536.1,85.9 L536.4,85.5 L536.7,85.1 L537.0,84.8 L537.4,84.5 L537.7,84.2 L538.1,83.9 L538.4,83.7 L538.7,83.6 L538.9,83.7 L539.1,83.8 L539.2,84.0 L539.3,84.2 L539.3,84.5 L539.3,84.8 L539.3,85.1 L539.2,85.4 L539.1,85.8 L538.9,86.2 L538.5,86.7 L538.1,87.4 L537.6,88.0 L537.1,88.5 L536.8,88.8 L536.5,88.8 L536.2,88.7 L536.0,88.5 L535.8,88.2Z" opacity="0.62"/>
<path d="M531.4,50.8 L531.3,51.1 L531.1,51.4 L530.8,51.7 L530.6,51.9 L530.2,52.0 L529.8,52.1 L529.3,52.0 L528.7,51.9 L528.2,51.7 L527.9,51.5 L527.6,51.2 L527.3,50.7 L527.2,50.3 L527.1,49.8 L527.1,49.4 L527.2,49.1 L527.3,48.8 L527.6,48.5 L527.9,48.3 L528.2,48.0 L528.5,47.8 L528.9,47.6 L529.4,47.4 L529.8,47.3 L530.2,47.4 L530.4,47.6 L530.6,48.0 L530.8,48.5 L530.9,49.0 L531.1,49.4 L531.2,49.7 L531.3,50.0 L531.4,50.3 L531.4,50.5Z" opacity="0.64"/>
<path d="M539.5,52.2 L539.4,51.9 L539.4,51.6 L539.4,51.3 L539.5,51.0 L539.6,50.8 L539.8,50.6 L540.0,50.5 L540.3,50.4 L540.6,50.4 L540.9,50.4 L541.2,50.4 L541.5,50.4 L541.8,50.5 L542.1,50.6 L542.3,50.8 L542.4,51.0 L542.4,51.3 L542.4,51.7 L542.4,52.0 L542.3,52.4 L542.2,52.7 L542.1,52.9 L542.0,53.2 L541.8,53.5 L541.6,53.6 L541.3,53.7 L541.0,53.8 L540.7,53.9 L540.3,53.8 L540.1,53.7 L539.9,53.5 L539.7,53.2 L539.6,52.9 L539.5,52.6Z" opacity="0.55"/>
<path d="M526.6,38.8 L526.3,38.7 L526.1,38.4 L525.8,37.9 L525.5,37.5 L525.2,37.0 L524.9,36.5 L524.6,36.0 L524.4,35.5 L524.2,35.0 L524.0,34.5 L523.9,34.0 L523.9,33.6 L523.9,33.1 L524.0,32.7 L524.1,32.4 L524.1,32.0 L524.2,31.7 L524.4,31.4 L524.5,31.2 L524.8,31.2 L525.0,31.4 L525.4,31.8 L525.8,32.3 L526.2,32.8 L526.5,33.4 L526.7,34.1 L526.9,34.9 L527.0,35.7 L527.1,36.5 L527.1,37.1 L527.1,37.7 L527.0,38.1 L526.9,38.5 L526.8,38.8Z" opacity="0.55"/>
<path d="M566.8,47.2 L566.5,47.3 L566.2,47.3 L565.8,47.2 L565.4,47.0 L565.0,46.7 L564.6,46.3 L564.2,45.8 L563.9,45.3 L563.6,44.7 L563.4,44.2 L563.4,43.7 L563.5,43.3 L563.6,42.9 L563.8,42.5 L564.0,42.2 L564.2,42.0 L564.4,41.8 L564.7,41.6 L564.9,41.5 L565.2,41.5 L565.5,41.6 L565.9,41.8 L566.4,42.1 L566.7,42.4 L567.0,42.8 L567.1,43.2 L567.2,43.7 L567.2,44.3 L567.2,44.8 L567.1,45.3 L567.1,45.7 L567.1,46.2 L567.0,46.6 L566.9,47.0Z" opacity="0.58"/>
<path d="M561.3,79.2 L561.2,79.4 L561.1,79.6 L560.9,79.8 L560.7,79.9 L560.4,80.0 L560.1,80.0 L559.8,79.9 L559.4,79.8 L559.0,79.7 L558.8,79.5 L558.5,79.4 L558.3,79.3 L558.2,79.1 L558.1,78.9 L557.9,78.7 L557.8,78.5 L557.6,78.2 L557.5,78.0 L557.5,77.8 L557.5,77.6 L557.8,77.6 L558.1,77.6 L558.5,77.6 L558.9,77.7 L559.3,77.8 L559.6,77.9 L559.9,77.9 L560.1,78.0 L560.4,78.1 L560.6,78.3 L560.8,78.4 L561.0,78.6 L561.2,78.8 L561.3,79.0Z" opacity="0.45"/>
<path d="M523.3,56.6 L523.1,56.5 L522.8,56.2 L522.6,55.8 L522.5,55.4 L522.4,54.9 L522.3,54.4 L522.2,53.9 L522.3,53.3 L522.3,52.8 L522.4,52.3 L522.6,51.9 L522.8,51.5 L523.1,51.1 L523.4,50.8 L523.7,50.7 L523.9,50.6 L524.2,50.6 L524.4,50.7 L524.7,50.9 L524.9,51.1 L525.1,51.3 L525.3,51.7 L525.5,52.0 L525.6,52.5 L525.6,52.9 L525.6,53.4 L525.4,53.9 L525.2,54.4 L525.0,54.9 L524.8,55.3 L524.5,55.7 L524.2,56.1 L523.9,56.4 L523.6,56.6Z" opacity="0.65"/>
<path d="M524.1,80.0 L523.9,80.0 L523.6,80.0 L523.3,79.9 L523.0,79.8 L522.7,79.7 L522.5,79.5 L522.3,79.3 L522.1,79.1 L521.9,78.9 L521.7,78.6 L521.5,78.3 L521.2,78.0 L520.9,77.7 L520.8,77.4 L520.7,77.1 L520.7,76.9 L520.9,76.7 L521.1,76.6 L521.4,76.5 L521.6,76.5 L521.9,76.6 L522.1,76.8 L522.4,77.0 L522.7,77.3 L522.9,77.5 L523.1,77.7 L523.3,77.9 L523.4,78.1 L523.6,78.3 L523.7,78.5 L523.8,78.8 L524.0,79.2 L524.1,79.5 L524.1,79.8Z" opacity="0.42"/>
<path d="M533.4,53.7 L533.2,53.5 L532.9,53.3 L532.7,53.0 L532.6,52.8 L532.5,52.6 L532.6,52.4 L532.7,52.1 L533.0,51.9 L533.2,51.7 L533.5,51.5 L533.7,51.3 L534.0,51.1 L534.3,50.9 L534.6,50.8 L534.8,50.7 L535.1,50.8 L535.3,51.1 L535.5,51.3 L535.7,51.7 L535.9,52.0 L536.0,52.3 L536.2,52.6 L536.3,53.0 L536.3,53.4 L536.3,53.7 L536.1,54.0 L535.7,54.2 L535.4,54.5 L535.0,54.6 L534.7,54.7 L534.4,54.6 L534.1,54.4 L533.9,54.2 L533.6,53.9Z" opacity="0.68"/>
<path d="M532.9,57.1 L533.0,56.8 L533.4,56.5 L533.8,56.2 L534.3,55.9 L534.8,55.6 L535.3,55.3 L535.8,54.9 L536.3,54.5 L536.8,54.3 L537.3,54.2 L537.9,54.3 L538.4,54.5 L538.9,54.9 L539.3,55.2 L539.6,55.6 L539.7,55.9 L539.6,56.2 L539.5,56.5 L539.3,56.9 L539.1,57.2 L538.9,57.7 L538.7,58.2 L538.5,58.7 L538.3,59.1 L537.9,59.3 L537.5,59.3 L536.9,59.1 L536.3,58.8 L535.7,58.4 L535.2,58.1 L534.6,57.9 L534.0,57.7 L533.5,57.6 L533.1,57.3Z" opacity="0.56"/>
<path d="M547.4,61.1 L547.1,61.2 L546.9,61.3 L546.5,61.3 L546.2,61.2 L545.8,61.1 L545.4,61.0 L544.9,60.9 L544.5,60.7 L544.0,60.5 L543.7,60.3 L543.5,60.0 L543.3,59.6 L543.2,59.3 L543.2,58.9 L543.2,58.7 L543.2,58.4 L543.2,58.2 L543.3,58.0 L543.5,57.8 L543.6,57.7 L543.9,57.7 L544.2,57.8 L544.6,57.9 L545.0,58.1 L545.4,58.3 L545.8,58.5 L546.3,58.8 L546.9,59.1 L547.3,59.4 L547.6,59.7 L547.7,60.0 L547.8,60.3 L547.7,60.6 L547.5,60.9Z" opacity="0.46"/>
<path d="M564.4,82.4 L564.2,82.4 L564.0,82.3 L563.9,82.2 L563.7,82.0 L563.6,81.8 L563.5,81.6 L563.4,81.2 L563.4,80.8 L563.4,80.4 L563.4,80.0 L563.4,79.5 L563.4,79.0 L563.4,78.5 L563.5,78.1 L563.6,77.7 L563.8,77.5 L564.1,77.3 L564.4,77.3 L564.7,77.3 L564.9,77.4 L565.0,77.8 L565.1,78.2 L565.2,78.8 L565.3,79.4 L565.3,79.9 L565.4,80.4 L565.5,81.0 L565.6,81.6 L565.6,82.0 L565.5,82.4 L565.4,82.5 L565.2,82.6 L564.9,82.6 L564.6,82.5Z" opacity="0.68"/>
<path d="M529.9,71.0 L529.8,71.4 L529.7,71.7 L529.4,72.1 L529.1,72.4 L528.7,72.6 L528.3,72.7 L527.7,72.7 L527.1,72.7 L526.5,72.6 L526.0,72.5 L525.5,72.4 L525.0,72.3 L524.6,72.1 L524.2,71.9 L523.9,71.7 L523.8,71.4 L523.7,71.0 L523.8,70.7 L523.9,70.3 L524.1,70.1 L524.4,69.9 L524.8,69.7 L525.2,69.6 L525.7,69.5 L526.2,69.5 L526.6,69.4 L527.1,69.4 L527.6,69.4 L528.1,69.5 L528.5,69.6 L528.9,69.8 L529.2,70.1 L529.6,70.4 L529.8,70.7Z" opacity="0.50"/>
<path d="M528.1,59.8 L528.0,59.4 L528.1,59.0 L528.2,58.5 L528.4,58.1 L528.7,57.7 L529.1,57.4 L529.5,57.2 L530.0,57.0 L530.5,56.9 L531.0,56.8 L531.5,56.8 L532.1,56.9 L532.6,57.0 L533.1,57.1 L533.4,57.4 L533.6,57.7 L533.6,58.1 L533.6,58.6 L533.5,59.0 L533.3,59.5 L533.2,59.9 L533.0,60.3 L532.7,60.6 L532.4,61.0 L532.1,61.2 L531.7,61.4 L531.2,61.5 L530.6,61.5 L530.1,61.5 L529.6,61.4 L529.2,61.2 L528.8,61.0 L528.5,60.6 L528.2,60.2Z" opacity="0.68"/>
<path d="M539.5,49.7 L539.4,49.5 L539.4,49.2 L539.5,48.9 L539.5,48.5 L539.6,48.2 L539.7,47.8 L539.8,47.4 L539.9,47.1 L540.1,46.7 L540.3,46.5 L540.5,46.4 L540.9,46.4 L541.2,46.5 L541.5,46.6 L541.9,46.7 L542.2,46.8 L542.5,46.9 L542.7,47.0 L543.0,47.2 L543.1,47.4 L543.0,47.6 L542.8,47.9 L542.6,48.2 L542.4,48.5 L542.1,48.8 L541.9,49.1 L541.7,49.4 L541.5,49.7 L541.3,50.0 L541.0,50.1 L540.7,50.2 L540.4,50.1 L540.0,50.0 L539.7,49.9Z" opacity="0.58"/>
<path d="M550.9,89.2 L550.6,89.1 L550.3,88.9 L550.0,88.7 L549.8,88.4 L549.7,88.0 L549.6,87.4 L549.6,86.8 L549.6,86.0 L549.7,85.4 L549.9,84.8 L550.2,84.5 L550.6,84.3 L551.1,84.1 L551.6,84.0 L552.1,83.9 L552.5,83.7 L553.1,83.4 L553.6,83.2 L554.0,83.2 L554.3,83.3 L554.4,83.7 L554.4,84.4 L554.4,85.1 L554.3,85.9 L554.1,86.5 L553.9,87.1 L553.6,87.6 L553.3,88.1 L553.0,88.6 L552.7,88.9 L552.3,89.1 L552.0,89.2 L551.6,89.3 L551.3,89.3Z" opacity="0.65"/>
<path d="M548.8,86.0 L548.6,85.8 L548.4,85.6 L548.3,85.2 L548.3,84.8 L548.3,84.4 L548.5,83.9 L548.8,83.4 L549.1,82.9 L549.5,82.4 L549.9,82.0 L550.3,81.5 L550.8,80.9 L551.2,80.4 L551.6,80.1 L552.0,79.9 L552.2,80.0 L552.3,80.3 L552.4,80.7 L552.5,81.2 L552.5,81.6 L552.5,82.0 L552.5,82.3 L552.4,82.7 L552.3,83.1 L552.1,83.5 L551.9,83.9 L551.6,84.3 L551.3,84.6 L550.9,85.0 L550.6,85.3 L550.2,85.5 L549.8,85.8 L549.5,85.9 L549.1,86.0Z" opacity="0.39"/>
<path d="M551.7,83.8 L551.6,84.2 L551.4,84.5 L551.2,84.9 L550.8,85.2 L550.4,85.4 L549.9,85.5 L549.2,85.6 L548.4,85.5 L547.7,85.4 L547.1,85.3 L546.6,85.0 L546.0,84.6 L545.6,84.2 L545.2,83.8 L545.0,83.4 L545.0,83.1 L545.1,82.7 L545.3,82.4 L545.5,82.1 L545.9,81.8 L546.2,81.6 L546.6,81.4 L547.1,81.3 L547.6,81.2 L548.1,81.2 L548.6,81.3 L549.2,81.4 L549.8,81.6 L550.3,81.8 L550.7,82.0 L551.1,82.3 L551.4,82.7 L551.6,83.1 L551.7,83.4Z" opacity="0.44"/>
<path d="M546.7,88.5 L546.6,88.4 L546.4,88.3 L546.3,88.2 L546.2,88.0 L546.2,87.7 L546.1,87.5 L546.1,87.2 L546.0,86.9 L546.1,86.6 L546.2,86.3 L546.3,86.0 L546.5,85.8 L546.7,85.5 L547.0,85.3 L547.2,85.2 L547.5,85.2 L547.7,85.2 L547.9,85.3 L548.2,85.4 L548.3,85.6 L548.5,85.8 L548.6,86.1 L548.6,86.4 L548.6,86.8 L548.6,87.1 L548.5,87.3 L548.3,87.6 L548.0,87.8 L547.8,88.0 L547.6,88.1 L547.4,88.3 L547.2,88.4 L547.0,88.5 L546.9,88.5Z" opacity="0.58"/>
<path d="M536.3,80.1 L536.2,79.7 L536.1,79.3 L536.1,78.9 L536.1,78.6 L536.3,78.2 L536.6,77.9 L537.0,77.6 L537.5,77.3 L538.0,77.2 L538.5,77.1 L538.9,77.2 L539.3,77.3 L539.8,77.6 L540.1,77.9 L540.3,78.2 L540.5,78.5 L540.5,78.8 L540.4,79.2 L540.4,79.5 L540.2,79.8 L540.1,80.1 L539.9,80.4 L539.7,80.7 L539.5,80.9 L539.2,81.1 L538.9,81.2 L538.5,81.2 L538.2,81.3 L537.8,81.2 L537.5,81.1 L537.2,81.0 L536.9,80.8 L536.7,80.6 L536.5,80.3Z" opacity="0.61"/>
<path d="M559.6,78.1 L559.6,77.8 L559.8,77.5 L560.0,77.2 L560.2,76.9 L560.6,76.7 L561.0,76.5 L561.5,76.4 L562.0,76.2 L562.6,76.2 L563.1,76.1 L563.6,76.2 L564.1,76.2 L564.6,76.3 L565.1,76.5 L565.4,76.7 L565.7,77.0 L565.9,77.3 L566.0,77.6 L566.1,78.0 L566.0,78.3 L565.7,78.7 L565.3,79.0 L564.8,79.3 L564.3,79.6 L563.7,79.8 L563.0,79.9 L562.2,80.1 L561.4,80.1 L560.7,80.1 L560.1,80.0 L559.8,79.7 L559.6,79.4 L559.5,79.0 L559.5,78.5Z" opacity="0.60"/>
<path d="M556.4,39.5 L556.1,39.4 L555.9,39.2 L555.6,39.0 L555.5,38.7 L555.4,38.4 L555.4,37.9 L555.5,37.4 L555.6,36.8 L555.8,36.2 L556.0,35.7 L556.3,35.1 L556.5,34.6 L556.9,34.0 L557.2,33.5 L557.5,33.2 L557.8,33.1 L558.2,33.1 L558.6,33.2 L558.9,33.5 L559.0,33.8 L559.1,34.2 L559.0,34.8 L558.8,35.4 L558.6,36.0 L558.5,36.6 L558.4,37.2 L558.3,37.8 L558.2,38.4 L558.1,38.9 L557.9,39.2 L557.6,39.5 L557.3,39.6 L557.0,39.6 L556.7,39.5Z" opacity="0.40"/>
<path d="M553.1,49.6 L553.1,49.3 L553.2,49.1 L553.3,48.8 L553.6,48.5 L553.9,48.3 L554.2,48.0 L554.6,47.8 L555.0,47.6 L555.5,47.4 L555.9,47.3 L556.4,47.2 L556.9,47.2 L557.4,47.2 L557.9,47.3 L558.3,47.4 L558.5,47.6 L558.7,47.9 L558.8,48.2 L558.9,48.5 L558.8,48.8 L558.5,49.1 L558.1,49.4 L557.7,49.7 L557.2,50.0 L556.7,50.2 L556.2,50.3 L555.7,50.3 L555.2,50.3 L554.8,50.3 L554.4,50.3 L554.0,50.2 L553.7,50.1 L553.4,49.9 L553.2,49.7Z" opacity="0.64"/>
<path d="M526.9,81.6 L526.7,81.4 L526.5,81.3 L526.3,81.1 L526.2,80.9 L526.2,80.7 L526.2,80.5 L526.3,80.2 L526.4,80.0 L526.6,79.7 L526.7,79.5 L526.9,79.2 L527.1,79.0 L527.3,78.8 L527.6,78.7 L527.8,78.6 L528.2,78.5 L528.5,78.5 L528.9,78.6 L529.2,78.7 L529.4,78.9 L529.5,79.2 L529.5,79.6 L529.4,80.0 L529.3,80.4 L529.2,80.7 L529.0,81.0 L528.8,81.3 L528.5,81.5 L528.3,81.7 L528.0,81.9 L527.8,81.9 L527.6,81.9 L527.3,81.8 L527.1,81.7Z" opacity="0.45"/>
<path d="M562.5,34.7 L562.3,34.7 L562.1,34.6 L561.9,34.5 L561.7,34.3 L561.5,34.0 L561.5,33.7 L561.4,33.3 L561.4,32.8 L561.3,32.4 L561.3,32.0 L561.3,31.6 L561.4,31.3 L561.4,31.0 L561.4,30.7 L561.5,30.4 L561.7,30.1 L561.8,29.7 L562.0,29.4 L562.2,29.3 L562.4,29.3 L562.6,29.5 L562.7,30.0 L562.9,30.5 L563.0,31.1 L563.1,31.6 L563.2,32.1 L563.3,32.5 L563.3,33.0 L563.3,33.4 L563.2,33.8 L563.1,34.1 L563.0,34.3 L562.9,34.5 L562.7,34.6Z" opacity="0.45"/>
<path d="M552.2,64.1 L551.9,63.9 L551.6,63.6 L551.4,63.1 L551.2,62.7 L551.0,62.2 L551.0,61.7 L551.0,61.2 L551.0,60.6 L551.2,60.1 L551.3,59.7 L551.6,59.5 L552.0,59.3 L552.3,59.2 L552.7,59.1 L553.1,59.1 L553.3,59.1 L553.6,59.1 L553.8,59.2 L554.0,59.3 L554.3,59.4 L554.6,59.7 L554.9,59.9 L555.2,60.2 L555.4,60.6 L555.5,60.9 L555.4,61.3 L555.1,61.7 L554.8,62.1 L554.5,62.5 L554.1,62.9 L553.8,63.2 L553.4,63.6 L552.9,63.9 L552.6,64.1Z" opacity="0.52"/>
<path d="M531.8,93.7 L531.6,93.7 L531.2,93.5 L530.8,93.2 L530.5,92.7 L530.2,92.2 L530.0,91.6 L529.8,90.8 L529.7,90.0 L529.6,89.2 L529.5,88.5 L529.4,87.9 L529.3,87.2 L529.3,86.7 L529.3,86.2 L529.3,85.9 L529.5,85.7 L529.6,85.6 L529.9,85.6 L530.1,85.7 L530.4,85.9 L530.6,86.2 L530.9,86.5 L531.1,86.9 L531.4,87.4 L531.6,87.8 L531.7,88.4 L531.8,88.9 L531.9,89.6 L531.9,90.2 L532.0,90.8 L532.0,91.4 L532.0,92.1 L532.0,92.8 L532.0,93.4Z" opacity="0.66"/>
<path d="M548.4,40.1 L548.5,39.9 L548.8,39.7 L549.2,39.3 L549.6,39.0 L550.0,38.8 L550.4,38.6 L550.7,38.5 L551.1,38.3 L551.4,38.2 L551.8,38.1 L552.3,38.0 L552.9,37.8 L553.4,37.6 L553.9,37.5 L554.3,37.5 L554.6,37.6 L554.8,37.8 L555.0,38.1 L555.0,38.3 L554.9,38.6 L554.6,38.9 L554.2,39.2 L553.7,39.5 L553.1,39.8 L552.7,39.9 L552.2,40.1 L551.8,40.1 L551.4,40.1 L551.0,40.2 L550.6,40.2 L550.1,40.2 L549.5,40.2 L549.0,40.2 L548.6,40.2Z" opacity="0.50"/>
<path d="M518.5,75.3 L518.7,75.1 L519.1,74.9 L519.6,74.7 L520.2,74.5 L520.7,74.4 L521.1,74.2 L521.6,74.1 L522.0,74.1 L522.5,74.0 L523.0,74.0 L523.6,74.0 L524.3,73.9 L524.9,74.0 L525.5,74.0 L525.9,74.1 L526.0,74.3 L526.0,74.5 L525.9,74.8 L525.7,75.0 L525.5,75.2 L525.2,75.4 L524.8,75.6 L524.3,75.8 L523.8,75.9 L523.3,76.0 L522.7,76.1 L522.1,76.2 L521.5,76.2 L520.9,76.2 L520.4,76.1 L519.9,76.0 L519.3,75.9 L518.9,75.7 L518.6,75.5Z" opacity="0.56"/>
<path d="M543.8,88.9 L543.7,88.7 L543.5,88.6 L543.4,88.3 L543.4,88.1 L543.4,87.8 L543.6,87.4 L543.8,86.8 L544.2,86.3 L544.5,85.8 L544.8,85.5 L545.2,85.3 L545.5,85.2 L545.8,85.2 L546.1,85.3 L546.5,85.3 L546.8,85.2 L547.3,85.1 L547.7,85.0 L548.0,85.0 L548.1,85.1 L548.1,85.4 L547.8,85.9 L547.5,86.4 L547.2,86.9 L546.9,87.4 L546.5,87.8 L546.1,88.3 L545.7,88.7 L545.3,89.0 L545.0,89.2 L544.7,89.3 L544.4,89.3 L544.2,89.2 L544.0,89.0Z" opacity="0.57"/>
<path d="M548.6,79.1 L548.4,79.1 L548.2,79.2 L548.0,79.2 L547.8,79.1 L547.6,79.0 L547.4,78.7 L547.1,78.4 L546.8,78.0 L546.6,77.6 L546.3,77.1 L546.2,76.7 L546.0,76.2 L545.9,75.7 L545.8,75.3 L545.8,74.9 L545.8,74.6 L546.0,74.3 L546.1,74.1 L546.3,74.0 L546.6,74.0 L546.9,74.3 L547.2,74.7 L547.5,75.2 L547.9,75.7 L548.2,76.2 L548.4,76.7 L548.7,77.2 L549.0,77.6 L549.1,78.1 L549.2,78.4 L549.2,78.7 L549.1,78.8 L548.9,78.9 L548.7,79.0Z" opacity="0.50"/>
<path d="M552.0,86.1 L552.0,85.9 L551.9,85.6 L552.0,85.4 L552.1,85.1 L552.4,84.9 L552.9,84.6 L553.6,84.3 L554.3,84.0 L555.0,83.8 L555.7,83.7 L556.4,83.6 L557.0,83.7 L557.7,83.7 L558.2,83.9 L558.6,84.0 L558.8,84.2 L558.9,84.4 L558.8,84.7 L558.7,85.0 L558.5,85.3 L558.3,85.6 L557.9,86.0 L557.5,86.3 L557.1,86.6 L556.5,86.9 L555.9,87.0 L555.1,87.0 L554.4,87.0 L553.6,86.9 L553.1,86.9 L552.7,86.8 L552.4,86.6 L552.2,86.5 L552.1,86.3Z" opacity="0.42"/>
<path d="M545.3,80.8 L545.1,80.9 L544.7,81.0 L544.4,80.9 L544.0,80.9 L543.6,80.8 L543.3,80.7 L543.0,80.6 L542.7,80.4 L542.4,80.2 L542.2,80.0 L541.9,79.7 L541.7,79.4 L541.4,79.1 L541.3,78.8 L541.2,78.5 L541.3,78.3 L541.4,78.1 L541.6,78.0 L541.9,77.8 L542.1,77.7 L542.5,77.6 L542.8,77.4 L543.2,77.2 L543.6,77.2 L543.9,77.2 L544.2,77.5 L544.5,77.9 L544.7,78.4 L544.9,78.8 L545.1,79.2 L545.2,79.6 L545.3,80.0 L545.4,80.3 L545.4,80.6Z" opacity="0.58"/>
<path d="M524.0,79.1 L523.7,79.1 L523.3,79.0 L523.0,78.8 L522.6,78.6 L522.3,78.3 L522.0,78.1 L521.8,77.8 L521.6,77.5 L521.5,77.2 L521.4,76.8 L521.2,76.4 L521.1,75.9 L521.1,75.4 L521.1,74.9 L521.2,74.6 L521.5,74.4 L521.9,74.3 L522.3,74.3 L522.8,74.4 L523.2,74.4 L523.7,74.5 L524.1,74.6 L524.6,74.8 L525.0,75.0 L525.2,75.2 L525.3,75.6 L525.2,76.0 L525.1,76.5 L524.9,76.9 L524.8,77.4 L524.7,77.8 L524.5,78.2 L524.4,78.6 L524.2,78.9Z" opacity="0.60"/>
<path d="M547.8,33.0 L547.6,33.2 L547.2,33.4 L546.7,33.5 L546.2,33.7 L545.6,33.8 L545.1,33.9 L544.5,34.1 L544.0,34.2 L543.4,34.3 L542.8,34.2 L542.3,34.1 L541.7,33.8 L541.1,33.5 L540.7,33.2 L540.4,32.9 L540.2,32.6 L540.1,32.2 L540.2,31.9 L540.3,31.6 L540.6,31.4 L541.0,31.2 L541.5,31.1 L542.1,31.1 L542.8,31.1 L543.5,31.1 L544.2,31.1 L545.0,31.1 L545.8,31.1 L546.5,31.2 L547.0,31.3 L547.4,31.6 L547.7,31.9 L547.8,32.3 L547.9,32.7Z" opacity="0.70"/>
<path d="M552.4,83.7 L552.2,83.9 L551.9,84.1 L551.6,84.2 L551.2,84.3 L550.9,84.4 L550.6,84.4 L550.2,84.4 L549.9,84.4 L549.7,84.3 L549.4,84.2 L549.3,84.0 L549.2,83.8 L549.1,83.5 L549.1,83.2 L549.0,82.9 L548.9,82.6 L548.8,82.2 L548.8,81.8 L548.8,81.5 L548.9,81.3 L549.1,81.1 L549.4,81.0 L549.8,81.0 L550.2,81.0 L550.6,81.0 L551.0,81.1 L551.4,81.2 L551.8,81.3 L552.1,81.5 L552.4,81.8 L552.5,82.1 L552.6,82.5 L552.6,82.9 L552.5,83.3Z" opacity="0.69"/>
<path d="M539.1,41.5 L538.9,41.7 L538.7,41.9 L538.4,42.1 L538.0,42.3 L537.7,42.4 L537.4,42.5 L537.0,42.7 L536.6,42.7 L536.3,42.7 L535.9,42.7 L535.6,42.5 L535.3,42.2 L534.9,41.9 L534.7,41.6 L534.5,41.2 L534.5,40.8 L534.5,40.4 L534.6,39.9 L534.8,39.5 L535.0,39.2 L535.4,39.1 L535.8,39.0 L536.2,39.0 L536.7,39.0 L537.0,39.1 L537.4,39.2 L537.7,39.3 L538.0,39.5 L538.3,39.6 L538.5,39.9 L538.7,40.2 L538.9,40.5 L539.0,40.8 L539.1,41.2Z" opacity="0.43"/>
<path d="M540.9,73.5 L540.6,73.7 L540.2,73.8 L539.8,73.9 L539.4,73.9 L538.9,73.8 L538.4,73.6 L537.8,73.3 L537.2,73.0 L536.7,72.6 L536.4,72.2 L536.2,71.8 L536.1,71.2 L536.1,70.7 L536.1,70.1 L536.2,69.7 L536.4,69.3 L536.6,68.9 L536.9,68.6 L537.2,68.3 L537.6,68.2 L538.0,68.3 L538.5,68.4 L539.0,68.7 L539.5,69.0 L539.9,69.4 L540.4,69.7 L540.8,70.2 L541.3,70.6 L541.6,71.1 L541.8,71.5 L541.8,72.0 L541.7,72.4 L541.5,72.8 L541.2,73.2Z" opacity="0.41"/>
<path d="M565.7,50.6 L565.5,50.8 L565.3,50.8 L564.9,50.9 L564.5,50.8 L564.2,50.8 L563.8,50.6 L563.3,50.4 L562.9,50.1 L562.5,49.8 L562.2,49.5 L562.1,49.2 L562.2,48.8 L562.3,48.5 L562.4,48.2 L562.5,47.8 L562.6,47.5 L562.6,47.1 L562.7,46.8 L562.8,46.5 L562.9,46.4 L563.2,46.5 L563.6,46.7 L564.0,46.9 L564.4,47.2 L564.7,47.5 L564.9,47.8 L565.1,48.0 L565.2,48.3 L565.4,48.7 L565.5,49.0 L565.6,49.3 L565.7,49.7 L565.8,50.1 L565.8,50.4Z" opacity="0.71"/>
<path d="M548.3,82.0 L548.0,81.8 L547.8,81.5 L547.6,81.1 L547.5,80.8 L547.4,80.4 L547.3,80.1 L547.3,79.8 L547.3,79.4 L547.3,79.2 L547.4,78.9 L547.7,78.7 L548.0,78.6 L548.3,78.4 L548.7,78.4 L549.0,78.4 L549.3,78.5 L549.6,78.6 L549.9,78.8 L550.1,79.0 L550.4,79.2 L550.5,79.5 L550.6,79.7 L550.7,80.0 L550.7,80.2 L550.7,80.5 L550.7,80.8 L550.7,81.2 L550.7,81.6 L550.6,81.9 L550.4,82.1 L550.0,82.2 L549.6,82.3 L549.1,82.3 L548.6,82.2Z" opacity="0.50"/>
<path d="M530.6,83.4 L530.5,83.2 L530.6,82.8 L530.7,82.4 L530.9,82.1 L531.1,81.7 L531.4,81.4 L531.7,81.2 L532.0,81.0 L532.4,80.7 L532.7,80.5 L533.0,80.3 L533.4,80.2 L533.8,80.0 L534.1,79.9 L534.3,79.9 L534.5,79.9 L534.6,80.1 L534.7,80.3 L534.8,80.6 L534.7,80.8 L534.7,81.0 L534.5,81.3 L534.3,81.5 L534.1,81.8 L533.8,82.1 L533.6,82.3 L533.3,82.6 L533.0,82.9 L532.7,83.2 L532.3,83.4 L532.0,83.5 L531.6,83.6 L531.1,83.6 L530.8,83.5Z" opacity="0.73"/>
<path d="M528.5,39.6 L528.2,39.8 L527.6,39.9 L526.9,40.0 L526.2,40.0 L525.6,40.0 L525.0,40.1 L524.3,40.1 L523.7,40.1 L523.1,40.1 L522.6,39.9 L522.3,39.7 L522.0,39.3 L521.8,38.9 L521.6,38.4 L521.4,38.0 L521.1,37.5 L520.7,36.9 L520.3,36.4 L520.2,35.9 L520.3,35.6 L520.7,35.4 L521.4,35.4 L522.3,35.5 L523.2,35.6 L524.0,35.8 L524.7,36.0 L525.3,36.3 L525.9,36.6 L526.5,37.0 L526.9,37.3 L527.4,37.8 L527.9,38.3 L528.2,38.8 L528.5,39.2Z" opacity="0.54"/>
<path d="M520.4,64.1 L520.3,63.9 L520.3,63.6 L520.4,63.3 L520.6,63.1 L520.8,62.8 L521.2,62.5 L521.6,62.3 L522.2,62.0 L522.7,61.8 L523.2,61.7 L523.6,61.7 L524.0,61.8 L524.3,62.0 L524.6,62.2 L524.9,62.3 L525.2,62.5 L525.5,62.7 L525.7,62.9 L525.9,63.1 L525.9,63.3 L525.6,63.6 L525.3,63.8 L524.8,64.1 L524.3,64.3 L523.8,64.5 L523.4,64.6 L523.0,64.6 L522.5,64.6 L522.1,64.6 L521.8,64.5 L521.4,64.5 L521.1,64.4 L520.8,64.3 L520.5,64.2Z" opacity="0.56"/>
<path d="M537.3,86.4 L537.1,86.5 L536.9,86.7 L536.6,86.8 L536.2,86.8 L535.9,86.7 L535.5,86.4 L535.0,86.1 L534.6,85.7 L534.1,85.2 L533.8,84.8 L533.6,84.4 L533.5,84.1 L533.5,83.7 L533.5,83.4 L533.6,83.1 L533.6,82.9 L533.7,82.7 L533.8,82.5 L534.0,82.4 L534.2,82.4 L534.5,82.3 L534.8,82.3 L535.2,82.4 L535.6,82.5 L535.9,82.7 L536.3,83.1 L536.7,83.5 L537.1,84.0 L537.5,84.5 L537.7,84.9 L537.8,85.3 L537.7,85.6 L537.7,85.9 L537.5,86.2Z" opacity="0.65"/>
<path d="M550.4,83.1 L550.2,83.1 L549.9,83.0 L549.6,82.9 L549.2,82.7 L548.8,82.5 L548.4,82.3 L547.9,82.0 L547.5,81.8 L547.0,81.5 L546.7,81.2 L546.5,80.9 L546.4,80.5 L546.3,80.1 L546.3,79.8 L546.3,79.4 L546.2,79.1 L546.1,78.7 L546.0,78.3 L546.0,78.0 L546.2,78.0 L546.5,78.1 L547.0,78.4 L547.5,78.8 L548.0,79.2 L548.5,79.6 L549.0,80.0 L549.4,80.5 L549.9,80.9 L550.2,81.4 L550.5,81.8 L550.6,82.1 L550.7,82.4 L550.7,82.7 L550.6,83.0Z" opacity="0.58"/>
<path d="M546.8,61.0 L546.7,60.8 L546.7,60.5 L546.7,60.3 L546.9,60.0 L547.1,59.8 L547.5,59.5 L548.0,59.2 L548.6,58.9 L549.3,58.6 L549.9,58.3 L550.7,58.1 L551.5,57.8 L552.4,57.6 L553.1,57.4 L553.5,57.5 L553.6,57.6 L553.4,58.0 L553.1,58.4 L552.7,58.9 L552.4,59.2 L552.2,59.6 L552.0,59.9 L551.8,60.3 L551.5,60.6 L551.1,60.9 L550.5,61.2 L549.7,61.5 L548.9,61.8 L548.1,62.0 L547.5,62.1 L547.2,62.0 L547.0,61.8 L546.9,61.6 L546.8,61.3Z" opacity="0.48"/>
<path d="M556.9,34.9 L556.5,35.0 L556.1,34.9 L555.6,34.7 L555.2,34.4 L554.9,34.1 L554.6,33.8 L554.5,33.4 L554.4,32.9 L554.3,32.5 L554.3,32.0 L554.2,31.6 L554.2,31.1 L554.3,30.6 L554.4,30.2 L554.6,29.9 L554.8,29.7 L555.2,29.6 L555.6,29.5 L556.1,29.6 L556.5,29.7 L556.9,29.8 L557.3,30.0 L557.6,30.3 L558.0,30.6 L558.2,30.9 L558.3,31.3 L558.4,31.8 L558.4,32.3 L558.4,32.8 L558.2,33.2 L558.1,33.7 L557.8,34.1 L557.6,34.5 L557.2,34.8Z" opacity="0.61"/>
<path d="M560.0,41.7 L559.8,41.4 L559.6,41.1 L559.5,40.8 L559.4,40.5 L559.4,40.2 L559.5,40.0 L559.7,39.7 L559.9,39.5 L560.2,39.3 L560.5,39.2 L560.8,39.2 L561.1,39.3 L561.3,39.5 L561.6,39.7 L561.9,39.9 L562.1,40.1 L562.2,40.3 L562.4,40.5 L562.5,40.8 L562.6,41.1 L562.7,41.4 L562.8,41.9 L562.9,42.3 L562.9,42.7 L562.8,43.0 L562.5,43.2 L562.1,43.3 L561.7,43.4 L561.2,43.4 L560.9,43.4 L560.6,43.2 L560.4,42.8 L560.3,42.5 L560.1,42.1Z" opacity="0.66"/>
<path d="M530.4,71.4 L530.3,71.3 L530.1,71.0 L530.0,70.7 L529.9,70.3 L529.9,70.0 L529.9,69.6 L529.9,69.2 L530.0,68.8 L530.1,68.4 L530.2,68.0 L530.4,67.7 L530.6,67.4 L530.8,67.2 L531.0,67.0 L531.2,66.8 L531.4,66.6 L531.6,66.5 L531.9,66.4 L532.1,66.4 L532.2,66.5 L532.3,66.8 L532.3,67.2 L532.3,67.6 L532.2,68.1 L532.2,68.5 L532.1,68.9 L532.0,69.4 L531.9,69.8 L531.7,70.2 L531.6,70.5 L531.4,70.8 L531.1,71.0 L530.9,71.2 L530.6,71.4Z" opacity="0.61"/>
<path d="M559.6,58.0 L559.4,58.1 L559.3,58.2 L559.1,58.3 L558.9,58.4 L558.7,58.4 L558.4,58.5 L558.1,58.5 L557.7,58.6 L557.4,58.6 L557.2,58.5 L557.0,58.3 L557.0,58.1 L556.9,57.7 L556.9,57.4 L556.9,57.2 L556.9,56.9 L556.9,56.7 L556.9,56.4 L557.0,56.2 L557.1,56.1 L557.3,56.0 L557.6,55.9 L557.9,55.9 L558.2,55.9 L558.5,56.0 L558.9,56.1 L559.2,56.2 L559.6,56.4 L559.9,56.6 L560.1,56.8 L560.1,57.0 L560.1,57.3 L559.9,57.6 L559.7,57.8Z" opacity="0.69"/>
<path d="M534.5,63.7 L534.3,63.3 L534.3,62.9 L534.3,62.4 L534.5,62.0 L534.7,61.5 L535.1,61.0 L535.7,60.5 L536.3,60.0 L536.9,59.6 L537.5,59.3 L538.1,59.1 L538.8,59.0 L539.4,59.0 L540.0,59.1 L540.4,59.2 L540.5,59.5 L540.5,59.8 L540.4,60.2 L540.3,60.7 L540.2,61.1 L540.2,61.5 L540.2,62.0 L540.2,62.4 L540.1,62.9 L539.8,63.3 L539.3,63.7 L538.5,64.1 L537.7,64.5 L536.9,64.7 L536.3,64.9 L535.8,64.8 L535.3,64.6 L534.9,64.3 L534.7,64.0Z" opacity="0.60"/>
<path d="M521.7,33.7 L521.5,34.0 L521.2,34.3 L520.7,34.5 L520.2,34.7 L519.8,34.7 L519.3,34.7 L518.8,34.5 L518.3,34.3 L517.9,34.0 L517.5,33.7 L517.3,33.4 L517.2,33.0 L517.1,32.6 L517.1,32.2 L517.1,31.9 L517.1,31.5 L517.2,31.2 L517.3,30.9 L517.4,30.7 L517.7,30.5 L517.9,30.3 L518.3,30.3 L518.7,30.2 L519.1,30.3 L519.5,30.3 L519.9,30.5 L520.2,30.7 L520.5,31.0 L520.8,31.3 L521.0,31.7 L521.3,32.1 L521.5,32.5 L521.7,32.9 L521.8,33.4Z" opacity="0.51"/>
<path d="M550.9,83.1 L550.7,82.8 L550.6,82.4 L550.5,82.0 L550.5,81.5 L550.6,81.1 L550.9,80.6 L551.3,80.1 L551.8,79.6 L552.4,79.1 L553.0,78.8 L553.6,78.4 L554.2,78.1 L554.9,77.9 L555.5,77.8 L556.0,77.8 L556.4,78.0 L556.7,78.3 L557.0,78.8 L557.1,79.2 L557.1,79.7 L556.9,80.2 L556.6,80.7 L556.3,81.2 L555.8,81.7 L555.4,82.1 L555.0,82.5 L554.5,82.7 L554.0,82.9 L553.5,83.1 L553.0,83.2 L552.5,83.3 L552.1,83.3 L551.6,83.3 L551.2,83.2Z" opacity="0.72"/>
<path d="M524.0,47.9 L524.0,47.7 L524.2,47.4 L524.4,47.1 L524.7,46.7 L525.0,46.4 L525.4,46.1 L525.7,45.7 L526.1,45.3 L526.6,44.9 L527.0,44.7 L527.5,44.5 L528.0,44.4 L528.5,44.3 L528.9,44.3 L529.2,44.4 L529.4,44.5 L529.5,44.7 L529.5,44.9 L529.5,45.2 L529.4,45.4 L529.2,45.7 L529.0,46.0 L528.7,46.3 L528.4,46.7 L528.1,46.9 L527.7,47.1 L527.2,47.3 L526.8,47.5 L526.3,47.6 L525.9,47.7 L525.4,47.8 L525.0,47.9 L524.5,47.9 L524.2,47.9Z" opacity="0.56"/>
<path d="M565.9,51.0 L565.8,51.2 L565.7,51.4 L565.5,51.6 L565.3,51.8 L565.0,51.9 L564.7,52.0 L564.4,52.0 L564.0,51.9 L563.6,51.8 L563.2,51.7 L562.9,51.6 L562.5,51.4 L562.2,51.2 L561.9,51.0 L561.8,50.8 L561.7,50.6 L561.8,50.4 L561.9,50.2 L562.1,50.0 L562.3,49.8 L562.5,49.6 L562.8,49.4 L563.0,49.2 L563.3,49.1 L563.6,49.0 L564.0,49.1 L564.3,49.2 L564.7,49.4 L565.1,49.6 L565.3,49.8 L565.5,50.0 L565.7,50.3 L565.8,50.5 L565.9,50.7Z" opacity="0.35"/>
<path d="M544.2,44.4 L543.9,44.4 L543.5,44.2 L543.0,44.0 L542.5,43.7 L542.0,43.5 L541.6,43.3 L541.2,43.1 L540.8,42.9 L540.4,42.7 L540.2,42.4 L540.1,42.1 L540.1,41.7 L540.1,41.3 L540.2,40.9 L540.3,40.5 L540.5,40.1 L540.6,39.7 L540.8,39.4 L541.0,39.1 L541.3,39.0 L541.7,39.0 L542.2,39.1 L542.7,39.4 L543.1,39.6 L543.5,40.0 L543.7,40.3 L543.8,40.7 L543.9,41.1 L543.9,41.6 L544.0,42.1 L544.1,42.6 L544.2,43.1 L544.3,43.7 L544.3,44.1Z" opacity="0.44"/>
<path d="M554.7,57.7 L554.5,57.6 L554.2,57.4 L553.9,57.1 L553.7,56.8 L553.7,56.4 L553.9,56.0 L554.2,55.5 L554.6,54.9 L555.0,54.4 L555.4,53.9 L555.8,53.4 L556.2,52.8 L556.6,52.3 L557.0,51.9 L557.5,51.6 L557.9,51.5 L558.4,51.5 L558.8,51.7 L559.2,51.9 L559.4,52.2 L559.5,52.7 L559.3,53.4 L559.1,54.2 L558.9,54.9 L558.6,55.6 L558.2,56.0 L557.7,56.4 L557.3,56.8 L556.8,57.1 L556.4,57.3 L556.0,57.5 L555.6,57.6 L555.3,57.7 L555.0,57.8Z" opacity="0.47"/>
<path d="M542.7,59.3 L542.6,59.5 L542.3,59.6 L542.0,59.7 L541.7,59.8 L541.3,59.9 L541.0,60.0 L540.7,60.0 L540.4,60.0 L540.1,59.9 L539.8,59.8 L539.6,59.7 L539.4,59.5 L539.2,59.3 L539.0,59.1 L538.9,58.9 L538.9,58.7 L538.8,58.5 L538.8,58.3 L538.8,58.1 L538.9,57.9 L539.1,57.6 L539.4,57.4 L539.7,57.2 L540.0,57.0 L540.3,57.0 L540.6,57.1 L540.9,57.3 L541.2,57.5 L541.5,57.8 L541.8,58.1 L542.1,58.3 L542.3,58.6 L542.5,58.8 L542.7,59.1Z" opacity="0.53"/>
<path d="M553.4,62.8 L553.2,62.6 L553.0,62.1 L552.7,61.5 L552.4,60.8 L552.2,60.2 L552.0,59.7 L551.8,59.2 L551.7,58.7 L551.5,58.3 L551.5,57.8 L551.5,57.3 L551.5,56.7 L551.6,56.2 L551.7,55.8 L551.8,55.4 L551.9,55.2 L552.1,55.1 L552.4,55.1 L552.6,55.2 L552.9,55.3 L553.2,55.5 L553.5,55.8 L553.8,56.2 L554.1,56.6 L554.3,57.1 L554.4,57.7 L554.4,58.4 L554.4,59.1 L554.3,59.8 L554.2,60.5 L554.1,61.1 L554.0,61.7 L553.8,62.3 L553.7,62.7Z" opacity="0.62"/>
<path d="M527.3,63.6 L527.1,63.5 L526.9,63.2 L526.7,62.9 L526.6,62.6 L526.5,62.2 L526.6,61.8 L526.7,61.3 L526.9,60.9 L527.1,60.4 L527.3,59.9 L527.6,59.5 L527.8,59.1 L528.1,58.7 L528.3,58.4 L528.6,58.1 L529.0,58.0 L529.4,57.8 L529.8,57.8 L530.1,57.8 L530.3,58.0 L530.3,58.4 L530.3,59.0 L530.2,59.6 L530.0,60.2 L529.8,60.8 L529.7,61.3 L529.5,61.8 L529.3,62.2 L529.0,62.6 L528.8,63.0 L528.5,63.2 L528.2,63.4 L527.8,63.6 L527.5,63.7Z" opacity="0.61"/>
<path d="M550.1,66.7 L549.9,67.1 L549.6,67.5 L549.2,67.8 L548.8,68.0 L548.4,68.1 L548.0,68.0 L547.5,67.8 L547.0,67.5 L546.5,67.1 L546.1,66.8 L545.8,66.6 L545.5,66.4 L545.3,66.1 L545.2,65.9 L545.0,65.6 L544.9,65.3 L544.7,64.9 L544.7,64.5 L544.7,64.1 L544.8,63.9 L545.1,63.8 L545.5,63.7 L546.0,63.8 L546.6,63.8 L547.1,63.9 L547.6,64.0 L548.1,64.1 L548.6,64.3 L549.0,64.5 L549.4,64.7 L549.7,65.1 L549.9,65.5 L550.0,65.9 L550.1,66.4Z" opacity="0.37"/>
<path d="M524.5,73.0 L524.4,72.7 L524.3,72.3 L524.2,71.9 L524.3,71.5 L524.5,71.2 L524.8,70.8 L525.3,70.5 L525.9,70.1 L526.5,69.8 L527.1,69.6 L527.7,69.4 L528.4,69.2 L529.0,69.0 L529.6,69.0 L530.0,69.0 L530.2,69.2 L530.2,69.6 L530.1,70.0 L530.0,70.5 L529.9,70.9 L529.9,71.4 L529.8,71.9 L529.7,72.4 L529.6,72.9 L529.3,73.2 L528.8,73.5 L528.1,73.7 L527.3,73.8 L526.6,73.9 L526.0,73.9 L525.6,73.8 L525.2,73.6 L524.9,73.4 L524.7,73.2Z" opacity="0.60"/>
<path d="M563.0,86.9 L562.8,87.3 L562.4,87.6 L562.1,87.9 L561.6,88.1 L561.2,88.2 L560.8,88.1 L560.3,88.0 L559.7,87.8 L559.3,87.6 L558.9,87.3 L558.6,87.0 L558.3,86.7 L558.2,86.3 L558.0,86.0 L558.0,85.6 L558.0,85.3 L558.1,85.0 L558.3,84.7 L558.5,84.5 L558.7,84.3 L559.0,84.1 L559.3,83.9 L559.7,83.8 L560.0,83.8 L560.5,83.8 L560.9,83.8 L561.5,84.0 L562.1,84.2 L562.6,84.4 L562.9,84.7 L563.1,85.1 L563.2,85.6 L563.2,86.1 L563.1,86.5Z" opacity="0.75"/>
<path d="M533.6,48.2 L533.4,48.4 L533.2,48.7 L532.9,49.0 L532.6,49.2 L532.3,49.2 L532.0,49.0 L531.5,48.6 L531.1,48.1 L530.7,47.7 L530.4,47.2 L530.3,46.8 L530.3,46.4 L530.3,46.0 L530.4,45.6 L530.5,45.3 L530.6,45.0 L530.7,44.7 L530.9,44.4 L531.1,44.2 L531.4,44.1 L531.7,44.1 L532.1,44.2 L532.6,44.4 L533.0,44.6 L533.4,44.9 L533.7,45.3 L534.0,45.7 L534.3,46.2 L534.4,46.7 L534.5,47.0 L534.5,47.3 L534.3,47.6 L534.1,47.8 L533.9,48.0Z" opacity="0.53"/>
<path d="M530.3,69.9 L530.1,69.9 L529.7,69.7 L529.3,69.4 L528.8,69.0 L528.4,68.7 L528.1,68.4 L527.7,68.1 L527.3,67.7 L526.9,67.4 L526.5,66.9 L526.1,66.3 L525.5,65.7 L525.0,65.0 L524.5,64.3 L524.3,63.9 L524.3,63.5 L524.5,63.3 L524.7,63.2 L525.1,63.3 L525.5,63.4 L525.9,63.7 L526.4,64.1 L526.9,64.6 L527.5,65.2 L527.9,65.7 L528.4,66.2 L528.9,66.7 L529.3,67.2 L529.7,67.7 L529.9,68.1 L530.2,68.6 L530.3,69.0 L530.4,69.4 L530.4,69.7Z" opacity="0.55"/>
<path d="M558.8,86.5 L558.6,86.6 L558.4,86.6 L558.2,86.6 L557.9,86.5 L557.6,86.4 L557.2,86.2 L556.7,85.9 L556.2,85.6 L555.7,85.2 L555.3,84.8 L555.0,84.3 L554.8,83.8 L554.6,83.2 L554.5,82.8 L554.5,82.4 L554.6,82.3 L554.8,82.2 L555.1,82.3 L555.5,82.3 L555.8,82.4 L556.1,82.5 L556.4,82.6 L556.7,82.7 L557.1,82.9 L557.5,83.1 L557.9,83.5 L558.5,84.1 L559.0,84.7 L559.5,85.2 L559.8,85.6 L559.8,85.9 L559.6,86.1 L559.4,86.3 L559.1,86.4Z" opacity="0.42"/>
<path d="M564.3,76.9 L564.2,76.7 L564.0,76.4 L563.9,76.0 L563.8,75.6 L563.7,75.1 L563.7,74.6 L563.7,74.1 L563.7,73.6 L563.8,73.0 L563.9,72.5 L564.1,72.0 L564.3,71.4 L564.6,70.8 L564.9,70.4 L565.2,70.1 L565.4,70.0 L565.7,70.2 L565.9,70.4 L566.2,70.7 L566.3,71.0 L566.4,71.4 L566.5,71.8 L566.6,72.3 L566.6,72.7 L566.5,73.2 L566.4,73.8 L566.3,74.3 L566.2,74.9 L566.0,75.4 L565.8,75.9 L565.5,76.2 L565.2,76.5 L564.9,76.8 L564.6,76.9Z" opacity="0.50"/>
<path d="M531.7,89.5 L531.5,89.6 L531.1,89.6 L530.7,89.5 L530.2,89.3 L529.8,89.0 L529.4,88.7 L528.9,88.3 L528.4,87.9 L528.0,87.4 L527.7,86.9 L527.4,86.3 L527.1,85.6 L527.0,84.9 L526.9,84.2 L526.9,83.7 L527.1,83.3 L527.4,83.0 L527.8,82.8 L528.2,82.7 L528.6,82.7 L529.1,83.0 L529.6,83.4 L530.1,84.0 L530.5,84.5 L530.9,85.0 L531.2,85.5 L531.4,86.0 L531.6,86.5 L531.8,87.0 L531.9,87.5 L532.0,88.0 L532.0,88.4 L532.0,88.9 L531.9,89.3Z" opacity="0.59"/>
<path d="M520.9,77.2 L520.8,77.0 L520.9,76.6 L521.0,76.1 L521.2,75.6 L521.4,75.0 L521.6,74.4 L521.9,73.8 L522.3,73.1 L522.7,72.5 L523.1,71.9 L523.5,71.5 L524.0,71.1 L524.5,70.7 L525.0,70.4 L525.4,70.3 L525.7,70.2 L526.0,70.2 L526.2,70.4 L526.4,70.6 L526.4,70.9 L526.2,71.3 L525.9,71.9 L525.5,72.5 L525.1,73.1 L524.7,73.7 L524.4,74.1 L524.0,74.6 L523.7,75.0 L523.4,75.4 L523.0,75.7 L522.6,76.1 L522.1,76.5 L521.6,76.9 L521.2,77.1Z" opacity="0.59"/>
<path d="M536.7,67.2 L536.5,67.1 L536.3,66.7 L536.1,66.1 L536.0,65.5 L535.8,64.9 L535.7,64.4 L535.6,63.9 L535.6,63.3 L535.5,62.7 L535.6,62.2 L535.7,61.6 L535.9,61.0 L536.1,60.5 L536.3,60.0 L536.5,59.7 L536.8,59.5 L537.1,59.4 L537.4,59.4 L537.7,59.5 L537.9,59.7 L538.1,60.1 L538.2,60.6 L538.3,61.3 L538.3,61.9 L538.3,62.5 L538.3,63.0 L538.2,63.5 L538.2,64.1 L538.0,64.6 L537.9,65.0 L537.7,65.6 L537.5,66.2 L537.2,66.7 L536.9,67.1Z" opacity="0.54"/>
<path d="M538.7,67.2 L538.5,67.5 L538.4,67.8 L538.2,68.1 L538.0,68.4 L537.8,68.4 L537.5,68.3 L537.2,68.1 L536.9,67.7 L536.7,67.3 L536.4,67.0 L536.2,66.7 L535.9,66.5 L535.7,66.2 L535.5,66.0 L535.4,65.8 L535.5,65.5 L535.6,65.3 L535.8,65.1 L536.1,64.9 L536.3,64.8 L536.6,64.8 L536.9,64.8 L537.2,64.9 L537.4,65.0 L537.7,65.1 L538.0,65.3 L538.3,65.4 L538.5,65.6 L538.7,65.8 L538.9,66.0 L538.9,66.2 L538.9,66.5 L538.9,66.7 L538.8,66.9Z" opacity="0.57"/>
<path d="M550.3,34.9 L550.0,35.1 L549.6,35.3 L549.2,35.4 L548.8,35.4 L548.5,35.4 L548.2,35.3 L547.9,35.0 L547.6,34.7 L547.4,34.4 L547.1,34.0 L546.9,33.7 L546.6,33.3 L546.4,32.9 L546.3,32.5 L546.2,32.2 L546.4,31.8 L546.6,31.4 L547.0,31.1 L547.3,30.9 L547.7,30.7 L548.1,30.7 L548.5,30.8 L548.9,30.9 L549.4,31.2 L549.7,31.4 L550.0,31.7 L550.3,32.0 L550.6,32.4 L550.8,32.8 L550.9,33.1 L550.9,33.5 L550.8,33.9 L550.7,34.3 L550.5,34.6Z" opacity="0.53"/>
<path d="M560.3,88.3 L560.0,88.4 L559.7,88.3 L559.4,88.3 L559.1,88.2 L558.8,88.0 L558.5,87.9 L558.2,87.7 L557.9,87.5 L557.7,87.3 L557.5,87.0 L557.5,86.7 L557.4,86.4 L557.5,86.0 L557.6,85.7 L557.7,85.4 L557.9,85.1 L558.1,84.9 L558.4,84.7 L558.7,84.6 L559.0,84.5 L559.3,84.5 L559.7,84.6 L560.1,84.7 L560.5,84.8 L560.7,85.1 L560.9,85.3 L561.1,85.7 L561.1,86.1 L561.2,86.5 L561.2,86.9 L561.1,87.2 L560.9,87.6 L560.7,87.9 L560.5,88.1Z" opacity="0.61"/>
<path d="M552.9,74.0 L552.7,73.8 L552.5,73.5 L552.4,73.2 L552.3,72.9 L552.4,72.5 L552.6,72.1 L552.9,71.7 L553.2,71.2 L553.6,70.7 L554.1,70.4 L554.5,70.0 L555.0,69.7 L555.6,69.5 L556.1,69.3 L556.5,69.2 L556.9,69.3 L557.2,69.5 L557.5,69.8 L557.7,70.1 L557.8,70.5 L557.7,70.9 L557.5,71.4 L557.2,71.9 L556.8,72.4 L556.5,72.9 L556.1,73.4 L555.6,74.0 L555.1,74.5 L554.6,74.9 L554.2,75.1 L553.9,75.1 L553.6,74.9 L553.3,74.7 L553.1,74.3Z" opacity="0.37"/>
<path d="M538.1,65.0 L538.0,65.4 L537.7,65.7 L537.4,65.9 L537.0,66.2 L536.6,66.3 L536.1,66.4 L535.7,66.3 L535.2,66.3 L534.7,66.1 L534.3,66.0 L533.9,65.8 L533.4,65.5 L533.1,65.2 L532.7,64.9 L532.5,64.5 L532.5,64.1 L532.5,63.7 L532.6,63.3 L532.7,62.9 L533.0,62.6 L533.3,62.5 L533.8,62.5 L534.3,62.6 L534.8,62.7 L535.3,62.7 L535.7,62.8 L536.1,62.9 L536.5,62.9 L536.9,63.1 L537.2,63.3 L537.5,63.6 L537.8,63.9 L538.0,64.3 L538.1,64.7Z" opacity="0.73"/>
</g>
<g fill="#7a6a5c">
<circle cx="547.8" cy="71.7" r="0.54" opacity="0.40"/>
<circle cx="572.9" cy="74.9" r="0.53" opacity="0.31"/>
<circle cx="551.7" cy="68.2" r="0.51" opacity="0.44"/>
<circle cx="538.5" cy="60.0" r="0.47" opacity="0.16"/>
<circle cx="573.9" cy="50.1" r="0.31" opacity="0.21"/>
<circle cx="571.6" cy="47.8" r="0.54" opacity="0.22"/>
<circle cx="551.7" cy="64.3" r="0.44" opacity="0.25"/>
<circle cx="520.7" cy="52.7" r="0.34" opacity="0.19"/>
<circle cx="524.9" cy="75.6" r="0.41" opacity="0.22"/>
<circle cx="523.3" cy="67.7" r="0.34" opacity="0.31"/>
<circle cx="521.4" cy="40.2" r="0.33" opacity="0.28"/>
<circle cx="559.2" cy="62.8" r="0.40" opacity="0.43"/>
<circle cx="555.4" cy="73.9" r="0.30" opacity="0.24"/>
<circle cx="536.4" cy="83.6" r="0.34" opacity="0.45"/>
<circle cx="543.1" cy="49.3" r="0.43" opacity="0.31"/>
<circle cx="535.5" cy="49.6" r="0.44" opacity="0.24"/>
<circle cx="560.1" cy="45.9" r="0.33" opacity="0.22"/>
<circle cx="552.2" cy="70.2" r="0.41" opacity="0.19"/>
<circle cx="501.8" cy="70.3" r="0.37" opacity="0.24"/>
<circle cx="538.5" cy="43.9" r="0.44" opacity="0.17"/>
<circle cx="523.1" cy="72.5" r="0.57" opacity="0.43"/>
<circle cx="551.5" cy="34.9" r="0.55" opacity="0.33"/>
<circle cx="516.9" cy="45.3" r="0.46" opacity="0.20"/>
<circle cx="534.9" cy="82.9" r="0.45" opacity="0.39"/>
<circle cx="537.7" cy="82.3" r="0.59" opacity="0.25"/>
<circle cx="556.2" cy="36.2" r="0.50" opacity="0.42"/>
<circle cx="552.7" cy="34.2" r="0.40" opacity="0.20"/>
<circle cx="521.3" cy="55.4" r="0.48" opacity="0.38"/>
<circle cx="558.2" cy="66.9" r="0.52" opacity="0.28"/>
<circle cx="515.8" cy="44.5" r="0.31" opacity="0.44"/>
<circle cx="573.2" cy="51.8" r="0.38" opacity="0.38"/>
<circle cx="538.4" cy="41.7" r="0.58" opacity="0.16"/>
<circle cx="535.9" cy="44.6" r="0.41" opacity="0.24"/>
<circle cx="524.0" cy="66.5" r="0.45" opacity="0.35"/>
<circle cx="537.0" cy="85.8" r="0.54" opacity="0.43"/>
<circle cx="548.2" cy="65.5" r="0.51" opacity="0.21"/>
<circle cx="532.7" cy="40.9" r="0.51" opacity="0.25"/>
<circle cx="520.4" cy="33.5" r="0.50" opacity="0.26"/>
<circle cx="534.1" cy="70.4" r="0.51" opacity="0.22"/>
<circle cx="549.9" cy="48.3" r="0.48" opacity="0.36"/>
<circle cx="511.5" cy="79.3" r="0.49" opacity="0.37"/>
<circle cx="525.5" cy="47.1" r="0.59" opacity="0.35"/>
<circle cx="536.8" cy="63.9" r="0.38" opacity="0.17"/>
<circle cx="576.0" cy="60.2" r="0.44" opacity="0.26"/>
<circle cx="558.8" cy="64.7" r="0.59" opacity="0.31"/>
<circle cx="557.9" cy="63.1" r="0.47" opacity="0.18"/>
<circle cx="510.9" cy="73.5" r="0.34" opacity="0.39"/>
<circle cx="557.8" cy="75.4" r="0.34" opacity="0.38"/>
<circle cx="521.8" cy="32.1" r="0.54" opacity="0.33"/>
<circle cx="534.1" cy="65.0" r="0.37" opacity="0.31"/>
<circle cx="547.2" cy="83.7" r="0.45" opacity="0.35"/>
<circle cx="548.7" cy="55.2" r="0.50" opacity="0.27"/>
<circle cx="553.2" cy="69.3" r="0.54" opacity="0.25"/>
<circle cx="527.7" cy="74.7" r="0.43" opacity="0.42"/>
<circle cx="541.5" cy="85.1" r="0.50" opacity="0.34"/>
<circle cx="576.3" cy="51.3" r="0.34" opacity="0.36"/>
<circle cx="506.3" cy="80.2" r="0.36" opacity="0.43"/>
<circle cx="538.9" cy="74.9" r="0.37" opacity="0.26"/>
<circle cx="568.1" cy="70.7" r="0.52" opacity="0.42"/>
<circle cx="546.1" cy="44.5" r="0.59" opacity="0.33"/>
<circle cx="520.6" cy="60.0" r="0.47" opacity="0.35"/>
<circle cx="525.1" cy="65.0" r="0.54" opacity="0.32"/>
<circle cx="549.5" cy="64.0" r="0.33" opacity="0.18"/>
<circle cx="566.8" cy="79.4" r="0.57" opacity="0.33"/>
<circle cx="566.1" cy="71.8" r="0.33" opacity="0.38"/>
<circle cx="555.0" cy="58.7" r="0.41" opacity="0.43"/>
<circle cx="536.2" cy="43.9" r="0.59" opacity="0.20"/>
<circle cx="537.0" cy="70.8" r="0.48" opacity="0.21"/>
<circle cx="520.9" cy="51.5" r="0.39" opacity="0.44"/>
<circle cx="528.5" cy="79.5" r="0.51" opacity="0.21"/>
<circle cx="533.8" cy="41.5" r="0.40" opacity="0.20"/>
<circle cx="552.7" cy="61.7" r="0.38" opacity="0.19"/>
<circle cx="509.7" cy="56.9" r="0.46" opacity="0.23"/>
<circle cx="559.7" cy="47.2" r="0.58" opacity="0.43"/>
<circle cx="520.7" cy="75.0" r="0.57" opacity="0.36"/>
<circle cx="533.6" cy="33.8" r="0.43" opacity="0.26"/>
<circle cx="545.3" cy="32.3" r="0.57" opacity="0.44"/>
<circle cx="553.3" cy="71.0" r="0.60" opacity="0.39"/>
<circle cx="536.0" cy="60.1" r="0.47" opacity="0.33"/>
<circle cx="524.4" cy="69.7" r="0.58" opacity="0.45"/>
<circle cx="576.7" cy="86.0" r="0.32" opacity="0.25"/>
<circle cx="563.8" cy="63.7" r="0.33" opacity="0.23"/>
<circle cx="521.3" cy="56.0" r="0.42" opacity="0.42"/>
<circle cx="534.1" cy="77.4" r="0.32" opacity="0.21"/>
<circle cx="544.9" cy="76.8" r="0.37" opacity="0.26"/>
<circle cx="535.9" cy="55.9" r="0.48" opacity="0.23"/>
<circle cx="527.2" cy="60.8" r="0.42" opacity="0.17"/>
<circle cx="550.9" cy="81.3" r="0.48" opacity="0.27"/>
<circle cx="543.6" cy="63.6" r="0.46" opacity="0.30"/>
<circle cx="549.7" cy="50.7" r="0.49" opacity="0.32"/>
<circle cx="523.6" cy="58.8" r="0.49" opacity="0.41"/>
<circle cx="529.3" cy="62.6" r="0.50" opacity="0.22"/>
<circle cx="519.8" cy="84.4" r="0.50" opacity="0.23"/>
<circle cx="538.3" cy="57.6" r="0.35" opacity="0.44"/>
<circle cx="529.2" cy="43.1" r="0.59" opacity="0.21"/>
<circle cx="554.7" cy="54.5" r="0.48" opacity="0.42"/>
<circle cx="551.4" cy="39.5" r="0.51" opacity="0.20"/>
<circle cx="550.5" cy="35.6" r="0.60" opacity="0.38"/>
<circle cx="555.4" cy="57.0" r="0.58" opacity="0.30"/>
<circle cx="554.9" cy="85.1" r="0.33" opacity="0.35"/>
<circle cx="533.5" cy="58.3" r="0.53" opacity="0.38"/>
<circle cx="556.2" cy="56.4" r="0.42" opacity="0.29"/>
<circle cx="525.8" cy="58.6" r="0.54" opacity="0.19"/>
<circle cx="552.0" cy="78.6" r="0.57" opacity="0.43"/>
<circle cx="536.5" cy="63.1" r="0.49" opacity="0.42"/>
<circle cx="519.9" cy="77.3" r="0.35" opacity="0.39"/>
<circle cx="544.9" cy="44.8" r="0.45" opacity="0.35"/>
<circle cx="542.5" cy="48.2" r="0.59" opacity="0.36"/>
<circle cx="521.2" cy="70.8" r="0.41" opacity="0.35"/>
<circle cx="529.6" cy="76.4" r="0.55" opacity="0.24"/>
<circle cx="514.1" cy="50.7" r="0.56" opacity="0.45"/>
<circle cx="532.6" cy="45.6" r="0.56" opacity="0.22"/>
<circle cx="524.2" cy="60.3" r="0.36" opacity="0.27"/>
<circle cx="523.9" cy="84.0" r="0.50" opacity="0.23"/>
<circle cx="558.7" cy="51.2" r="0.43" opacity="0.36"/>
<circle cx="558.1" cy="71.9" r="0.40" opacity="0.20"/>
<circle cx="529.0" cy="86.4" r="0.38" opacity="0.24"/>
<circle cx="534.5" cy="81.5" r="0.33" opacity="0.16"/>
<circle cx="526.8" cy="73.3" r="0.49" opacity="0.30"/>
<circle cx="528.4" cy="55.1" r="0.59" opacity="0.37"/>
<circle cx="539.6" cy="74.5" r="0.34" opacity="0.40"/>
<circle cx="563.0" cy="49.2" r="0.52" opacity="0.24"/>
<circle cx="534.8" cy="88.4" r="0.58" opacity="0.42"/>
<circle cx="576.8" cy="45.9" r="0.43" opacity="0.20"/>
<circle cx="538.3" cy="60.3" r="0.34" opacity="0.22"/>
<circle cx="558.1" cy="62.2" r="0.40" opacity="0.43"/>
<circle cx="541.0" cy="33.8" r="0.60" opacity="0.34"/>
<circle cx="538.4" cy="57.9" r="0.48" opacity="0.30"/>
<circle cx="556.1" cy="72.8" r="0.45" opacity="0.23"/>
<circle cx="516.6" cy="86.0" r="0.54" opacity="0.40"/>
<circle cx="531.8" cy="33.4" r="0.49" opacity="0.36"/>
<circle cx="528.0" cy="66.0" r="0.50" opacity="0.38"/>
<circle cx="560.5" cy="64.0" r="0.30" opacity="0.23"/>
<circle cx="531.9" cy="36.1" r="0.59" opacity="0.36"/>
<circle cx="543.7" cy="71.2" r="0.49" opacity="0.28"/>
<circle cx="530.8" cy="87.1" r="0.35" opacity="0.40"/>
<circle cx="549.8" cy="51.5" r="0.38" opacity="0.37"/>
<circle cx="543.5" cy="65.2" r="0.57" opacity="0.44"/>
<circle cx="558.8" cy="48.7" r="0.33" opacity="0.31"/>
<circle cx="527.2" cy="58.8" r="0.32" opacity="0.28"/>
<circle cx="519.0" cy="42.0" r="0.34" opacity="0.16"/>
<circle cx="532.9" cy="38.8" r="0.45" opacity="0.17"/>
<circle cx="542.2" cy="32.4" r="0.51" opacity="0.40"/>
<circle cx="524.9" cy="38.7" r="0.56" opacity="0.25"/>
<circle cx="551.6" cy="85.3" r="0.36" opacity="0.29"/>
<circle cx="525.7" cy="59.2" r="0.59" opacity="0.36"/>
<circle cx="539.6" cy="78.1" r="0.36" opacity="0.35"/>
<circle cx="521.6" cy="44.1" r="0.45" opacity="0.16"/>
<circle cx="528.4" cy="86.6" r="0.41" opacity="0.29"/>
<circle cx="554.1" cy="60.6" r="0.47" opacity="0.23"/>
<circle cx="552.9" cy="56.1" r="0.40" opacity="0.34"/>
<circle cx="559.2" cy="78.1" r="0.54" opacity="0.44"/>
<circle cx="515.9" cy="40.6" r="0.54" opacity="0.21"/>
<circle cx="525.1" cy="39.9" r="0.36" opacity="0.22"/>
<circle cx="546.2" cy="71.9" r="0.47" opacity="0.31"/>
<circle cx="543.1" cy="61.3" r="0.55" opacity="0.41"/>
<circle cx="526.1" cy="34.4" r="0.31" opacity="0.34"/>
<circle cx="537.5" cy="74.4" r="0.52" opacity="0.36"/>
<circle cx="526.3" cy="73.2" r="0.37" opacity="0.41"/>
<circle cx="536.9" cy="62.2" r="0.55" opacity="0.29"/>
<circle cx="557.4" cy="79.8" r="0.48" opacity="0.29"/>
<circle cx="519.1" cy="77.4" r="0.31" opacity="0.16"/>
<circle cx="536.7" cy="36.5" r="0.40" opacity="0.22"/>
<circle cx="559.9" cy="65.0" r="0.36" opacity="0.26"/>
<circle cx="547.9" cy="75.9" r="0.36" opacity="0.27"/>
<circle cx="544.2" cy="86.9" r="0.55" opacity="0.40"/>
<circle cx="533.6" cy="60.7" r="0.52" opacity="0.27"/>
<circle cx="515.3" cy="73.6" r="0.38" opacity="0.23"/>
<circle cx="553.2" cy="68.7" r="0.48" opacity="0.30"/>
<circle cx="576.0" cy="50.9" r="0.33" opacity="0.16"/>
<circle cx="556.7" cy="55.4" r="0.55" opacity="0.16"/>
<circle cx="524.3" cy="47.0" r="0.31" opacity="0.23"/>
<circle cx="526.8" cy="57.7" r="0.60" opacity="0.18"/>
<circle cx="511.2" cy="83.3" r="0.46" opacity="0.24"/>
<circle cx="544.0" cy="47.9" r="0.32" opacity="0.27"/>
<circle cx="563.7" cy="54.0" r="0.35" opacity="0.36"/>
<circle cx="532.7" cy="53.9" r="0.39" opacity="0.17"/>
<circle cx="549.8" cy="73.9" r="0.40" opacity="0.42"/>
<circle cx="539.7" cy="55.1" r="0.39" opacity="0.33"/>
<circle cx="532.0" cy="35.9" r="0.41" opacity="0.17"/>
<circle cx="513.7" cy="49.1" r="0.36" opacity="0.16"/>
<circle cx="536.1" cy="76.1" r="0.45" opacity="0.19"/>
<circle cx="560.9" cy="83.4" r="0.46" opacity="0.19"/>
<circle cx="555.5" cy="36.0" r="0.39" opacity="0.42"/>
<circle cx="522.6" cy="74.0" r="0.37" opacity="0.30"/>
<circle cx="533.7" cy="40.8" r="0.46" opacity="0.36"/>
<circle cx="526.8" cy="66.9" r="0.46" opacity="0.22"/>
<circle cx="560.7" cy="42.8" r="0.32" opacity="0.24"/>
<circle cx="542.1" cy="45.0" r="0.57" opacity="0.24"/>
<circle cx="557.7" cy="83.3" r="0.40" opacity="0.30"/>
<circle cx="562.1" cy="48.6" r="0.35" opacity="0.43"/>
<circle cx="539.9" cy="42.0" r="0.49" opacity="0.21"/>
<circle cx="565.3" cy="67.6" r="0.56" opacity="0.24"/>
</g>
<ellipse cx="574.8" cy="54.5" rx="2.3" ry="3.5" fill="#6b5545" opacity="0.75" filter="url(#blur1)"/>
</g>
<g clip-path="url(#clipC)">
<rect x="501.00" y="90.60" width="76.00" height="57.10" fill="#e2dfd6" stroke="none" stroke-width="0" />
<rect x="501" y="90.6" width="76" height="57.1" filter="url(#noiseC)"/>
<rect x="501" y="90.6" width="76" height="57.1" filter="url(#noiseC2)"/>
<path d="M541,90 C540,100 538,110 535,118 C533,125 531,132 528,140" stroke="#e8e5da" stroke-width="1.8" fill="none" opacity="0.5" filter="url(#blur05)"/>
<path d="M503,100 C510,106 516,114 522,122 C526,128 530,134 532,140" stroke="#e8e5da" stroke-width="1.8" fill="none" opacity="0.5" filter="url(#blur05)"/>
<path d="M556,96 C552,104 548,110 544,118" stroke="#e8e5da" stroke-width="1.8" fill="none" opacity="0.5" filter="url(#blur05)"/>
<path d="M560,120 C565,126 570,130 577,133" stroke="#e8e5da" stroke-width="1.8" fill="none" opacity="0.5" filter="url(#blur05)"/>
<path d="M515,135 C520,138 526,142 530,148" stroke="#e8e5da" stroke-width="1.8" fill="none" opacity="0.5" filter="url(#blur05)"/>
</g>
<text x="566.60" y="85.60" font-size="4.8" font-weight="bold" text-anchor="middle" fill="#111" >50μM</text>
<line x1="558.60" y1="86.60" x2="575.10" y2="86.60" stroke="#111" stroke-width="0.8" />
<text x="566.60" y="142.30" font-size="4.8" font-weight="bold" text-anchor="middle" fill="#111" >50μM</text>
<line x1="558.60" y1="143.20" x2="575.10" y2="143.20" stroke="#111" stroke-width="0.8" />
<text x="497.80" y="59.50" font-size="8" font-weight="bold" text-anchor="middle" fill="#111" transform="rotate(-90 497.80 59.50)" >Normal</text>
<text x="498.40" y="122.20" font-size="8" font-weight="bold" text-anchor="middle" fill="#111" transform="rotate(-90 498.40 122.20)" >Cancer</text>
<line x1="621.70" y1="40.82" x2="621.70" y2="135.50" stroke="#111" stroke-width="1.2" />
<line x1="618.20" y1="134.90" x2="684.50" y2="134.90" stroke="#777" stroke-width="1.3" />
<line x1="618.00" y1="134.90" x2="621.70" y2="134.90" stroke="#111" stroke-width="1.1" />
<text x="616.30" y="137.40" font-size="7" font-weight="bold" text-anchor="end" fill="#111" >0</text>
<line x1="618.00" y1="119.32" x2="621.70" y2="119.32" stroke="#111" stroke-width="1.1" />
<text x="616.30" y="121.82" font-size="7" font-weight="bold" text-anchor="end" fill="#111" >2</text>
<line x1="618.00" y1="103.74" x2="621.70" y2="103.74" stroke="#111" stroke-width="1.1" />
<text x="616.30" y="106.24" font-size="7" font-weight="bold" text-anchor="end" fill="#111" >4</text>
<line x1="618.00" y1="88.16" x2="621.70" y2="88.16" stroke="#111" stroke-width="1.1" />
<text x="616.30" y="90.66" font-size="7" font-weight="bold" text-anchor="end" fill="#111" >6</text>
<line x1="618.00" y1="72.58" x2="621.70" y2="72.58" stroke="#111" stroke-width="1.1" />
<text x="616.30" y="75.08" font-size="7" font-weight="bold" text-anchor="end" fill="#111" >8</text>
<line x1="618.00" y1="57.00" x2="621.70" y2="57.00" stroke="#111" stroke-width="1.1" />
<text x="616.30" y="59.50" font-size="7" font-weight="bold" text-anchor="end" fill="#111" >10</text>
<line x1="618.00" y1="41.42" x2="621.70" y2="41.42" stroke="#111" stroke-width="1.1" />
<text x="616.30" y="43.92" font-size="7" font-weight="bold" text-anchor="end" fill="#111" >12</text>
<line x1="639.40" y1="134.90" x2="639.40" y2="138.50" stroke="#111" stroke-width="1.1" />
<line x1="666.20" y1="134.90" x2="666.20" y2="138.50" stroke="#777" stroke-width="1.1" />
<path d="M639.40,58.00 L639.44,58.16 L639.50,58.39 L639.57,58.66 L639.65,58.94 L639.73,59.23 L639.80,59.50 L639.86,59.75 L639.93,60.00 L639.99,60.24 L640.05,60.49 L640.12,60.74 L640.20,61.00 L640.29,61.26 L640.39,61.53 L640.50,61.81 L640.61,62.08 L640.71,62.34 L640.80,62.60 L640.89,62.84 L640.97,63.08 L641.05,63.31 L641.12,63.54 L641.17,63.77 L641.20,64.00 L641.20,64.24 L641.18,64.47 L641.14,64.71 L641.09,64.95 L641.04,65.18 L641.00,65.40 L640.96,65.61 L640.90,65.81 L640.85,66.01 L640.81,66.21 L640.79,66.40 L640.80,66.60 L640.84,66.80 L640.91,66.99 L641.00,67.19 L641.11,67.39 L641.24,67.59 L641.40,67.80 L641.58,68.02 L641.78,68.24 L642.00,68.48 L642.24,68.71 L642.51,68.95 L642.80,69.20 L643.12,69.45 L643.48,69.71 L643.86,69.97 L644.25,70.24 L644.64,70.52 L645.00,70.80 L645.38,71.09 L645.80,71.40 L646.21,71.71 L646.58,72.02 L646.85,72.32 L647.00,72.60 L647.00,72.86 L646.87,73.09 L646.66,73.32 L646.39,73.54 L646.09,73.77 L645.80,74.00 L645.48,74.25 L645.10,74.51 L644.70,74.78 L644.31,75.04 L643.96,75.28 L643.70,75.50 L643.51,75.68 L643.37,75.84 L643.28,75.97 L643.24,76.11 L643.24,76.25 L643.30,76.40 L643.42,76.56 L643.60,76.73 L643.83,76.90 L644.10,77.08 L644.39,77.28 L644.70,77.50 L645.05,77.76 L645.47,78.05 L645.92,78.36 L646.35,78.66 L646.72,78.95 L647.00,79.20 L647.18,79.40 L647.30,79.58 L647.36,79.73 L647.37,79.88 L647.35,80.03 L647.30,80.20 L647.23,80.38 L647.12,80.57 L646.98,80.77 L646.80,80.97 L646.57,81.18 L646.30,81.40 L645.94,81.64 L645.49,81.89 L644.99,82.16 L644.50,82.42 L644.05,82.67 L643.70,82.90 L643.43,83.10 L643.21,83.29 L643.03,83.46 L642.90,83.63 L642.83,83.80 L642.80,84.00 L642.83,84.21 L642.93,84.43 L643.07,84.66 L643.26,84.90 L643.47,85.15 L643.70,85.40 L643.98,85.67 L644.31,85.95 L644.68,86.24 L645.04,86.54 L645.36,86.82 L645.60,87.10 L645.77,87.36 L645.90,87.61 L645.98,87.86 L646.03,88.10 L646.03,88.35 L646.00,88.60 L645.93,88.86 L645.82,89.12 L645.67,89.39 L645.49,89.66 L645.26,89.93 L645.00,90.20 L644.66,90.48 L644.25,90.77 L643.79,91.07 L643.34,91.36 L642.93,91.64 L642.60,91.90 L642.35,92.14 L642.14,92.36 L641.98,92.57 L641.86,92.77 L641.76,92.98 L641.70,93.20 L641.68,93.43 L641.71,93.66 L641.77,93.90 L641.86,94.14 L641.94,94.37 L642.00,94.60 L642.06,94.82 L642.14,95.03 L642.21,95.24 L642.27,95.46 L642.31,95.67 L642.30,95.90 L642.25,96.13 L642.16,96.37 L642.04,96.62 L641.91,96.87 L641.76,97.13 L641.60,97.40 L641.42,97.68 L641.21,97.96 L640.99,98.25 L640.77,98.55 L640.57,98.87 L640.40,99.20 L640.26,99.56 L640.15,99.94 L640.05,100.33 L639.96,100.73 L639.88,101.12 L639.80,101.50 L639.72,101.89 L639.64,102.29 L639.56,102.69 L639.50,103.06 L639.44,103.37 L639.40,103.60 L639.40,103.60 L639.36,103.37 L639.30,103.06 L639.24,102.69 L639.16,102.29 L639.08,101.89 L639.00,101.50 L638.92,101.12 L638.84,100.73 L638.75,100.33 L638.65,99.94 L638.54,99.56 L638.40,99.20 L638.23,98.87 L638.03,98.55 L637.81,98.25 L637.59,97.96 L637.38,97.68 L637.20,97.40 L637.04,97.13 L636.89,96.87 L636.76,96.62 L636.64,96.37 L636.55,96.13 L636.50,95.90 L636.49,95.67 L636.53,95.46 L636.59,95.24 L636.66,95.03 L636.74,94.82 L636.80,94.60 L636.86,94.37 L636.94,94.14 L637.02,93.90 L637.09,93.66 L637.12,93.43 L637.10,93.20 L637.04,92.98 L636.94,92.77 L636.82,92.57 L636.66,92.36 L636.45,92.14 L636.20,91.90 L635.87,91.64 L635.46,91.36 L635.01,91.07 L634.55,90.77 L634.14,90.48 L633.80,90.20 L633.54,89.93 L633.31,89.66 L633.12,89.39 L632.98,89.12 L632.87,88.86 L632.80,88.60 L632.77,88.35 L632.77,88.10 L632.82,87.86 L632.90,87.61 L633.03,87.36 L633.20,87.10 L633.44,86.82 L633.76,86.54 L634.12,86.24 L634.49,85.95 L634.82,85.67 L635.10,85.40 L635.33,85.15 L635.54,84.90 L635.73,84.66 L635.87,84.43 L635.97,84.21 L636.00,84.00 L635.97,83.80 L635.90,83.63 L635.77,83.46 L635.59,83.29 L635.37,83.10 L635.10,82.90 L634.75,82.67 L634.30,82.42 L633.81,82.16 L633.31,81.89 L632.86,81.64 L632.50,81.40 L632.23,81.18 L632.00,80.97 L631.82,80.77 L631.68,80.57 L631.57,80.38 L631.50,80.20 L631.45,80.03 L631.43,79.88 L631.44,79.73 L631.50,79.58 L631.62,79.40 L631.80,79.20 L632.08,78.95 L632.45,78.66 L632.88,78.36 L633.33,78.05 L633.75,77.76 L634.10,77.50 L634.41,77.28 L634.70,77.08 L634.97,76.90 L635.20,76.73 L635.38,76.56 L635.50,76.40 L635.56,76.25 L635.56,76.11 L635.52,75.97 L635.43,75.84 L635.29,75.68 L635.10,75.50 L634.84,75.28 L634.49,75.04 L634.10,74.78 L633.70,74.51 L633.32,74.25 L633.00,74.00 L632.71,73.77 L632.41,73.54 L632.14,73.32 L631.93,73.09 L631.80,72.86 L631.80,72.60 L631.95,72.32 L632.22,72.02 L632.59,71.71 L633.00,71.40 L633.42,71.09 L633.80,70.80 L634.16,70.52 L634.55,70.24 L634.94,69.97 L635.32,69.71 L635.68,69.45 L636.00,69.20 L636.29,68.95 L636.56,68.71 L636.80,68.48 L637.02,68.24 L637.22,68.02 L637.40,67.80 L637.56,67.59 L637.69,67.39 L637.80,67.19 L637.89,66.99 L637.96,66.80 L638.00,66.60 L638.01,66.40 L637.99,66.21 L637.95,66.01 L637.90,65.81 L637.84,65.61 L637.80,65.40 L637.76,65.18 L637.71,64.95 L637.66,64.71 L637.62,64.47 L637.60,64.24 L637.60,64.00 L637.63,63.77 L637.68,63.54 L637.75,63.31 L637.83,63.08 L637.91,62.84 L638.00,62.60 L638.09,62.34 L638.19,62.08 L638.30,61.81 L638.41,61.53 L638.51,61.26 L638.60,61.00 L638.68,60.74 L638.75,60.49 L638.81,60.24 L638.87,60.00 L638.94,59.75 L639.00,59.50 L639.07,59.23 L639.15,58.94 L639.23,58.66 L639.30,58.39 L639.36,58.16 L639.40,58.00Z" fill="#72c338" stroke="#111" stroke-width="1.2" stroke-linejoin="round"/>
<path d="M666.20,72.30 L666.28,72.54 L666.39,72.88 L666.53,73.27 L666.66,73.70 L666.79,74.12 L666.90,74.50 L666.98,74.85 L667.06,75.19 L667.12,75.52 L667.18,75.86 L667.24,76.18 L667.30,76.50 L667.37,76.82 L667.45,77.13 L667.53,77.44 L667.60,77.74 L667.66,78.03 L667.70,78.30 L667.73,78.54 L667.74,78.75 L667.74,78.94 L667.74,79.14 L667.72,79.35 L667.70,79.60 L667.67,79.88 L667.62,80.18 L667.56,80.49 L667.50,80.82 L667.45,81.16 L667.40,81.50 L667.35,81.84 L667.30,82.19 L667.26,82.54 L667.22,82.91 L667.20,83.30 L667.20,83.70 L667.23,84.13 L667.28,84.59 L667.34,85.06 L667.42,85.54 L667.51,86.02 L667.60,86.50 L667.70,86.99 L667.81,87.49 L667.93,87.99 L668.05,88.49 L668.17,88.96 L668.30,89.40 L668.43,89.80 L668.56,90.18 L668.70,90.54 L668.84,90.87 L668.97,91.19 L669.10,91.50 L669.22,91.78 L669.34,92.04 L669.46,92.28 L669.57,92.51 L669.68,92.75 L669.80,93.00 L669.92,93.26 L670.05,93.51 L670.18,93.77 L670.30,94.03 L670.41,94.31 L670.50,94.60 L670.56,94.91 L670.59,95.23 L670.60,95.57 L670.61,95.91 L670.64,96.26 L670.70,96.60 L670.78,96.95 L670.87,97.30 L670.98,97.66 L671.10,98.02 L671.24,98.37 L671.40,98.70 L671.58,99.02 L671.80,99.33 L672.03,99.64 L672.26,99.93 L672.49,100.22 L672.70,100.50 L672.90,100.77 L673.11,101.03 L673.31,101.29 L673.50,101.53 L673.67,101.77 L673.80,102.00 L673.91,102.22 L674.00,102.41 L674.06,102.61 L674.10,102.80 L674.12,102.99 L674.10,103.20 L674.05,103.42 L673.97,103.64 L673.86,103.87 L673.72,104.11 L673.57,104.35 L673.40,104.60 L673.20,104.86 L672.95,105.14 L672.68,105.42 L672.42,105.70 L672.18,105.96 L672.00,106.20 L671.86,106.41 L671.76,106.60 L671.68,106.77 L671.62,106.94 L671.60,107.11 L671.60,107.30 L671.64,107.50 L671.71,107.71 L671.82,107.92 L671.94,108.14 L672.07,108.36 L672.20,108.60 L672.35,108.85 L672.52,109.13 L672.70,109.41 L672.87,109.69 L673.01,109.95 L673.10,110.20 L673.15,110.42 L673.17,110.61 L673.16,110.79 L673.12,110.97 L673.03,111.17 L672.90,111.40 L672.70,111.67 L672.43,111.96 L672.12,112.26 L671.80,112.58 L671.48,112.89 L671.20,113.20 L670.96,113.49 L670.73,113.78 L670.51,114.07 L670.29,114.36 L670.06,114.67 L669.80,115.00 L669.50,115.36 L669.16,115.74 L668.81,116.13 L668.47,116.53 L668.16,116.92 L667.90,117.30 L667.70,117.66 L667.54,118.00 L667.41,118.33 L667.30,118.67 L667.20,119.02 L667.10,119.40 L667.01,119.78 L666.93,120.14 L666.86,120.52 L666.80,120.94 L666.74,121.42 L666.70,122.00 L666.67,122.66 L666.64,123.38 L666.63,124.17 L666.62,125.03 L666.61,125.97 L666.60,127.00 L666.58,128.24 L666.56,129.71 L666.54,131.26 L666.53,132.74 L666.51,134.01 L666.50,134.90 L665.90,134.90 L665.89,134.01 L665.87,132.74 L665.86,131.26 L665.84,129.71 L665.82,128.24 L665.80,127.00 L665.79,125.97 L665.78,125.03 L665.77,124.17 L665.76,123.38 L665.73,122.66 L665.70,122.00 L665.66,121.42 L665.60,120.94 L665.54,120.52 L665.47,120.14 L665.39,119.78 L665.30,119.40 L665.20,119.02 L665.10,118.67 L664.99,118.33 L664.86,118.00 L664.70,117.66 L664.50,117.30 L664.24,116.92 L663.93,116.53 L663.59,116.13 L663.24,115.74 L662.90,115.36 L662.60,115.00 L662.34,114.67 L662.11,114.36 L661.89,114.07 L661.67,113.78 L661.44,113.49 L661.20,113.20 L660.92,112.89 L660.60,112.58 L660.28,112.26 L659.97,111.96 L659.70,111.67 L659.50,111.40 L659.37,111.17 L659.28,110.97 L659.24,110.79 L659.23,110.61 L659.25,110.42 L659.30,110.20 L659.39,109.95 L659.53,109.69 L659.70,109.41 L659.88,109.13 L660.05,108.85 L660.20,108.60 L660.33,108.36 L660.46,108.14 L660.58,107.92 L660.69,107.71 L660.76,107.50 L660.80,107.30 L660.80,107.11 L660.78,106.94 L660.73,106.77 L660.64,106.60 L660.54,106.41 L660.40,106.20 L660.22,105.96 L659.98,105.70 L659.72,105.42 L659.45,105.14 L659.20,104.86 L659.00,104.60 L658.83,104.35 L658.68,104.11 L658.54,103.87 L658.43,103.64 L658.35,103.42 L658.30,103.20 L658.28,102.99 L658.30,102.80 L658.34,102.61 L658.40,102.41 L658.49,102.22 L658.60,102.00 L658.73,101.77 L658.90,101.53 L659.09,101.29 L659.29,101.03 L659.50,100.77 L659.70,100.50 L659.91,100.22 L660.14,99.93 L660.38,99.64 L660.60,99.33 L660.82,99.02 L661.00,98.70 L661.16,98.37 L661.30,98.02 L661.42,97.66 L661.53,97.30 L661.62,96.95 L661.70,96.60 L661.76,96.26 L661.79,95.91 L661.80,95.57 L661.81,95.23 L661.84,94.91 L661.90,94.60 L661.99,94.31 L662.10,94.03 L662.22,93.77 L662.35,93.51 L662.48,93.26 L662.60,93.00 L662.72,92.75 L662.83,92.51 L662.94,92.28 L663.06,92.04 L663.18,91.78 L663.30,91.50 L663.43,91.19 L663.56,90.87 L663.70,90.54 L663.84,90.18 L663.97,89.80 L664.10,89.40 L664.23,88.96 L664.35,88.49 L664.48,87.99 L664.59,87.49 L664.70,86.99 L664.80,86.50 L664.89,86.02 L664.98,85.54 L665.06,85.06 L665.12,84.59 L665.17,84.13 L665.20,83.70 L665.20,83.30 L665.18,82.91 L665.14,82.54 L665.10,82.19 L665.05,81.84 L665.00,81.50 L664.95,81.16 L664.90,80.82 L664.84,80.49 L664.78,80.18 L664.73,79.88 L664.70,79.60 L664.68,79.35 L664.66,79.14 L664.66,78.94 L664.66,78.75 L664.67,78.54 L664.70,78.30 L664.74,78.03 L664.80,77.74 L664.88,77.44 L664.95,77.13 L665.03,76.82 L665.10,76.50 L665.16,76.18 L665.22,75.86 L665.28,75.52 L665.34,75.19 L665.42,74.85 L665.50,74.50 L665.61,74.12 L665.74,73.70 L665.88,73.27 L666.01,72.88 L666.12,72.54 L666.20,72.30Z" fill="#e4ec42" stroke="#111" stroke-width="1.2" stroke-linejoin="round"/>
<line x1="632.90" y1="72.80" x2="645.90" y2="72.80" stroke="#2f5a14" stroke-width="0.5" stroke-dasharray="0.8,0.8"/>
<line x1="632.40" y1="80.10" x2="646.40" y2="80.10" stroke="#1a1a1a" stroke-width="0.6" stroke-dasharray="1.6,0.9"/>
<line x1="633.60" y1="88.50" x2="645.20" y2="88.50" stroke="#2f5a14" stroke-width="0.5" stroke-dasharray="0.8,0.8"/>
<line x1="661.40" y1="96.40" x2="671.00" y2="96.40" stroke="#6a6a10" stroke-width="0.5" stroke-dasharray="0.8,0.8"/>
<line x1="659.20" y1="103.70" x2="673.20" y2="103.70" stroke="#1a1a1a" stroke-width="0.6" stroke-dasharray="1.6,0.9"/>
<line x1="660.00" y1="111.00" x2="672.40" y2="111.00" stroke="#6a6a10" stroke-width="0.5" stroke-dasharray="0.8,0.8"/>
<line x1="639.50" y1="46.40" x2="666.10" y2="46.40" stroke="#555" stroke-width="0.8" />
<line x1="639.50" y1="46.40" x2="639.50" y2="51.50" stroke="#555" stroke-width="0.8" />
<line x1="666.10" y1="46.40" x2="666.10" y2="65.60" stroke="#555" stroke-width="0.8" />
<text x="653.00" y="46.40" font-size="12" font-weight="bold" text-anchor="middle" fill="#111" textLength="18.5" lengthAdjust="spacingAndGlyphs" >****</text>
<text x="592.80" y="88.75" font-size="8.6" font-weight="bold" text-anchor="middle" fill="#111" textLength="71.5" lengthAdjust="spacingAndGlyphs" transform="rotate(-90 592.80 88.75)" >The  NFIX protein</text>
<text x="604.20" y="89.55" font-size="8.6" font-weight="bold" text-anchor="middle" fill="#111" textLength="72.5" lengthAdjust="spacingAndGlyphs" transform="rotate(-90 604.20 89.55)" >expression levels</text>
<text x="640.90" y="145.60" font-size="7.0" font-weight="bold" text-anchor="end" fill="#111" transform="rotate(-45 640.90 145.60)" >Normal</text>
<text x="667.70" y="145.60" font-size="7.0" font-weight="bold" text-anchor="end" fill="#111" transform="rotate(-45 667.70 145.60)" >Cancer</text>
<text x="0" y="0" font-size="16" font-weight="bold" fill="#000" transform="translate(1.24 207.70) scale(0.9 1)">D</text>
<rect x="49.0" y="224.5" width="155.9" height="129.89999999999998" fill="none" stroke="#8c8c8c" stroke-width="1"/>
<line x1="46.20" y1="349.00" x2="49.00" y2="349.00" stroke="#888" stroke-width="0.8" />
<text x="42.20" y="349.00" font-size="6.6" font-weight="bold" text-anchor="middle" fill="#222" transform="rotate(-90 42.20 349.00)" >0.0</text>
<line x1="46.20" y1="324.88" x2="49.00" y2="324.88" stroke="#888" stroke-width="0.8" />
<text x="42.20" y="324.88" font-size="6.6" font-weight="bold" text-anchor="middle" fill="#222" transform="rotate(-90 42.20 324.88)" >0.2</text>
<line x1="46.20" y1="300.76" x2="49.00" y2="300.76" stroke="#888" stroke-width="0.8" />
<text x="42.20" y="300.76" font-size="6.6" font-weight="bold" text-anchor="middle" fill="#222" transform="rotate(-90 42.20 300.76)" >0.4</text>
<line x1="46.20" y1="276.64" x2="49.00" y2="276.64" stroke="#888" stroke-width="0.8" />
<text x="42.20" y="276.64" font-size="6.6" font-weight="bold" text-anchor="middle" fill="#222" transform="rotate(-90 42.20 276.64)" >0.6</text>
<line x1="46.20" y1="252.52" x2="49.00" y2="252.52" stroke="#888" stroke-width="0.8" />
<text x="42.20" y="252.52" font-size="6.6" font-weight="bold" text-anchor="middle" fill="#222" transform="rotate(-90 42.20 252.52)" >0.8</text>
<line x1="46.20" y1="228.40" x2="49.00" y2="228.40" stroke="#888" stroke-width="0.8" />
<text x="42.20" y="228.40" font-size="6.6" font-weight="bold" text-anchor="middle" fill="#222" transform="rotate(-90 42.20 228.40)" >1.0</text>
<line x1="54.60" y1="354.40" x2="54.60" y2="357.00" stroke="#888" stroke-width="0.8" />
<text x="54.60" y="364.20" font-size="7.0" font-weight="bold" text-anchor="middle" fill="#111" >0</text>
<line x1="78.45" y1="354.40" x2="78.45" y2="357.00" stroke="#888" stroke-width="0.8" />
<text x="78.45" y="364.20" font-size="7.0" font-weight="bold" text-anchor="middle" fill="#111" >20</text>
<line x1="102.30" y1="354.40" x2="102.30" y2="357.00" stroke="#888" stroke-width="0.8" />
<text x="102.30" y="364.20" font-size="7.0" font-weight="bold" text-anchor="middle" fill="#111" >40</text>
<line x1="126.15" y1="354.40" x2="126.15" y2="357.00" stroke="#888" stroke-width="0.8" />
<text x="126.15" y="364.20" font-size="7.0" font-weight="bold" text-anchor="middle" fill="#111" >60</text>
<line x1="150.00" y1="354.40" x2="150.00" y2="357.00" stroke="#888" stroke-width="0.8" />
<text x="150.00" y="364.20" font-size="7.0" font-weight="bold" text-anchor="middle" fill="#111" >80</text>
<line x1="173.85" y1="354.40" x2="173.85" y2="357.00" stroke="#888" stroke-width="0.8" />
<text x="173.85" y="364.20" font-size="7.0" font-weight="bold" text-anchor="middle" fill="#111" >100</text>
<line x1="197.70" y1="354.40" x2="197.70" y2="357.00" stroke="#888" stroke-width="0.8" />
<text x="197.70" y="364.20" font-size="7.0" font-weight="bold" text-anchor="middle" fill="#111" >120</text>
<text x="28.60" y="291.40" font-size="9.9" font-weight="bold" text-anchor="middle" fill="#111" textLength="100" lengthAdjust="spacingAndGlyphs" transform="rotate(-90 28.60 291.40)" >Disease-free Survival</text>
<text x="128.10" y="218.40" font-size="7.5" font-weight="bold" text-anchor="middle" fill="#111" >KM-plotter</text>
<text x="52.60" y="332.00" font-size="7" font-weight="bold" text-anchor="start" fill="#111" >Expression</text>
<line x1="55.20" y1="339.30" x2="67.90" y2="339.30" stroke="#777" stroke-width="0.8" />
<line x1="55.20" y1="347.00" x2="67.90" y2="347.00" stroke="#f08a8a" stroke-width="0.8" />
<text x="74.30" y="341.90" font-size="6.5" font-weight="bold" text-anchor="start" fill="#111" >low</text>
<text x="74.30" y="349.60" font-size="6.5" font-weight="bold" text-anchor="start" fill="#111" >high</text>
<text x="9.20" y="376.70" font-size="6" font-weight="bold" text-anchor="start" fill="#111" >Number at risk</text>
<text x="128.30" y="376.00" font-size="7" font-weight="bold" text-anchor="middle" fill="#111" >Time (months)</text>
<text x="50.60" y="383.80" font-size="6.0" font-weight="bold" text-anchor="end" fill="#111" >low</text>
<text x="50.60" y="389.50" font-size="6.0" font-weight="bold" text-anchor="end" fill="#e82c2c" >high</text>
<text x="57.80" y="383.80" font-size="6.1" font-weight="bold" text-anchor="middle" fill="#111" >19</text>
<text x="57.80" y="389.50" font-size="6.1" font-weight="bold" text-anchor="middle" fill="#e82c2c" >27</text>
<text x="78.80" y="383.80" font-size="6.1" font-weight="bold" text-anchor="middle" fill="#111" >17</text>
<text x="78.80" y="389.50" font-size="6.1" font-weight="bold" text-anchor="middle" fill="#e82c2c" >27</text>
<text x="102.50" y="383.80" font-size="6.1" font-weight="bold" text-anchor="middle" fill="#111" >14</text>
<text x="102.50" y="389.50" font-size="6.1" font-weight="bold" text-anchor="middle" fill="#e82c2c" >24</text>
<text x="126.60" y="383.80" font-size="6.1" font-weight="bold" text-anchor="middle" fill="#111" >13</text>
<text x="126.60" y="389.50" font-size="6.1" font-weight="bold" text-anchor="middle" fill="#e82c2c" >24</text>
<text x="150.50" y="383.80" font-size="6.1" font-weight="bold" text-anchor="middle" fill="#111" >12</text>
<text x="150.50" y="389.50" font-size="6.1" font-weight="bold" text-anchor="middle" fill="#e82c2c" >23</text>
<text x="174.50" y="383.80" font-size="6.1" font-weight="bold" text-anchor="middle" fill="#111" >12</text>
<text x="174.50" y="389.50" font-size="6.1" font-weight="bold" text-anchor="middle" fill="#e82c2c" >23</text>
<text x="198.60" y="383.80" font-size="6.1" font-weight="bold" text-anchor="middle" fill="#111" >12</text>
<text x="198.60" y="389.50" font-size="6.1" font-weight="bold" text-anchor="middle" fill="#e82c2c" >23</text>
<text x="197.30" y="236.80" font-size="6.9" font-weight="bold" text-anchor="end" fill="#111" >logrank P = 0.032</text>
<polyline points="55.20,232.40 63.30,232.40 63.30,239.20 69.90,239.20 69.90,245.90 80.60,245.90 80.60,252.30 91.40,252.30 91.40,259.10 93.60,259.10 93.60,265.50 123.20,265.50 123.20,272.10 147.60,272.10 147.60,279.00 200.90,279.00" fill="none" stroke="#333" stroke-width="1.1" />
<polyline points="55.20,232.40 84.20,232.40 84.20,237.40 91.40,237.40 91.40,241.70 151.00,241.70 151.00,246.60 200.90,246.60" fill="none" stroke="#d9506a" stroke-width="1.1" />
<line x1="199.50" y1="246.60" x2="202.30" y2="246.60" stroke="#d9506a" stroke-width="0.8" />
<line x1="200.90" y1="245.20" x2="200.90" y2="248.00" stroke="#d9506a" stroke-width="0.8" />
<line x1="199.50" y1="279.00" x2="202.30" y2="279.00" stroke="#333" stroke-width="0.8" />
<line x1="200.90" y1="277.60" x2="200.90" y2="280.40" stroke="#333" stroke-width="0.8" />
<text x="0" y="0" font-size="16" font-weight="bold" fill="#000" transform="translate(236.16 207.90) scale(0.88 1)">E</text>
<rect x="277.3" y="222.4" width="155.09999999999997" height="129.49999999999997" fill="none" stroke="#8c8c8c" stroke-width="1"/>
<line x1="274.50" y1="347.60" x2="277.30" y2="347.60" stroke="#888" stroke-width="0.8" />
<text x="269.90" y="347.60" font-size="6.6" font-weight="bold" text-anchor="middle" fill="#222" transform="rotate(-90 269.90 347.60)" >0.0</text>
<line x1="274.50" y1="323.20" x2="277.30" y2="323.20" stroke="#888" stroke-width="0.8" />
<text x="269.90" y="323.20" font-size="6.6" font-weight="bold" text-anchor="middle" fill="#222" transform="rotate(-90 269.90 323.20)" >0.2</text>
<line x1="274.50" y1="298.80" x2="277.30" y2="298.80" stroke="#888" stroke-width="0.8" />
<text x="269.90" y="298.80" font-size="6.6" font-weight="bold" text-anchor="middle" fill="#222" transform="rotate(-90 269.90 298.80)" >0.4</text>
<line x1="274.50" y1="274.40" x2="277.30" y2="274.40" stroke="#888" stroke-width="0.8" />
<text x="269.90" y="274.40" font-size="6.6" font-weight="bold" text-anchor="middle" fill="#222" transform="rotate(-90 269.90 274.40)" >0.6</text>
<line x1="274.50" y1="250.00" x2="277.30" y2="250.00" stroke="#888" stroke-width="0.8" />
<text x="269.90" y="250.00" font-size="6.6" font-weight="bold" text-anchor="middle" fill="#222" transform="rotate(-90 269.90 250.00)" >0.8</text>
<line x1="274.50" y1="225.60" x2="277.30" y2="225.60" stroke="#888" stroke-width="0.8" />
<text x="269.90" y="225.60" font-size="6.6" font-weight="bold" text-anchor="middle" fill="#222" transform="rotate(-90 269.90 225.60)" >1.0</text>
<line x1="282.50" y1="351.90" x2="282.50" y2="354.50" stroke="#888" stroke-width="0.8" />
<text x="282.50" y="363.00" font-size="6.9" font-weight="bold" text-anchor="middle" fill="#111" >0</text>
<line x1="306.53" y1="351.90" x2="306.53" y2="354.50" stroke="#888" stroke-width="0.8" />
<text x="306.53" y="363.00" font-size="6.9" font-weight="bold" text-anchor="middle" fill="#111" >20</text>
<line x1="330.56" y1="351.90" x2="330.56" y2="354.50" stroke="#888" stroke-width="0.8" />
<text x="330.56" y="363.00" font-size="6.9" font-weight="bold" text-anchor="middle" fill="#111" >40</text>
<line x1="354.59" y1="351.90" x2="354.59" y2="354.50" stroke="#888" stroke-width="0.8" />
<text x="354.59" y="363.00" font-size="6.9" font-weight="bold" text-anchor="middle" fill="#111" >60</text>
<line x1="378.62" y1="351.90" x2="378.62" y2="354.50" stroke="#888" stroke-width="0.8" />
<text x="378.62" y="363.00" font-size="6.9" font-weight="bold" text-anchor="middle" fill="#111" >80</text>
<line x1="402.65" y1="351.90" x2="402.65" y2="354.50" stroke="#888" stroke-width="0.8" />
<text x="402.65" y="363.00" font-size="6.9" font-weight="bold" text-anchor="middle" fill="#111" >100</text>
<line x1="426.68" y1="351.90" x2="426.68" y2="354.50" stroke="#888" stroke-width="0.8" />
<text x="426.68" y="363.00" font-size="6.9" font-weight="bold" text-anchor="middle" fill="#111" >120</text>
<text x="257.20" y="293.70" font-size="9.9" font-weight="bold" text-anchor="middle" fill="#111" textLength="101.5" lengthAdjust="spacingAndGlyphs" transform="rotate(-90 257.20 293.70)" >Disease-free Survival</text>
<text x="355.80" y="213.60" font-size="7.5" font-weight="bold" text-anchor="middle" fill="#111" >KM-plotter</text>
<text x="280.90" y="330.00" font-size="7" font-weight="bold" text-anchor="start" fill="#111" >Expression</text>
<line x1="283.50" y1="337.30" x2="296.20" y2="337.30" stroke="#777" stroke-width="0.8" />
<line x1="283.50" y1="345.00" x2="296.20" y2="345.00" stroke="#f08a8a" stroke-width="0.8" />
<text x="302.60" y="339.90" font-size="6.5" font-weight="bold" text-anchor="start" fill="#111" >low</text>
<text x="302.60" y="347.60" font-size="6.5" font-weight="bold" text-anchor="start" fill="#111" >high</text>
<text x="232.90" y="376.40" font-size="6" font-weight="bold" text-anchor="start" fill="#111" >Number at risk</text>
<text x="356.40" y="373.60" font-size="7" font-weight="bold" text-anchor="middle" fill="#111" >Time (months)</text>
<text x="273.70" y="385.20" font-size="6.0" font-weight="bold" text-anchor="end" fill="#111" >low</text>
<text x="273.70" y="390.20" font-size="6.0" font-weight="bold" text-anchor="end" fill="#e82c2c" >high</text>
<text x="283.90" y="385.20" font-size="6.1" font-weight="bold" text-anchor="middle" fill="#111" >1016</text>
<text x="283.90" y="390.20" font-size="6.1" font-weight="bold" text-anchor="middle" fill="#e82c2c" >1016</text>
<text x="307.40" y="385.20" font-size="6.1" font-weight="bold" text-anchor="middle" fill="#111" >824</text>
<text x="307.40" y="390.20" font-size="6.1" font-weight="bold" text-anchor="middle" fill="#e82c2c" >853</text>
<text x="331.60" y="385.20" font-size="6.1" font-weight="bold" text-anchor="middle" fill="#111" >589</text>
<text x="331.60" y="390.20" font-size="6.1" font-weight="bold" text-anchor="middle" fill="#e82c2c" >669</text>
<text x="356.00" y="385.20" font-size="6.1" font-weight="bold" text-anchor="middle" fill="#111" >417</text>
<text x="356.00" y="390.20" font-size="6.1" font-weight="bold" text-anchor="middle" fill="#e82c2c" >490</text>
<text x="379.60" y="385.20" font-size="6.1" font-weight="bold" text-anchor="middle" fill="#111" >279</text>
<text x="379.60" y="390.20" font-size="6.1" font-weight="bold" text-anchor="middle" fill="#e82c2c" >344</text>
<text x="403.70" y="385.20" font-size="6.1" font-weight="bold" text-anchor="middle" fill="#111" >159</text>
<text x="403.70" y="390.20" font-size="6.1" font-weight="bold" text-anchor="middle" fill="#e82c2c" >187</text>
<text x="427.60" y="385.20" font-size="6.1" font-weight="bold" text-anchor="middle" fill="#111" >101</text>
<text x="427.60" y="390.20" font-size="6.1" font-weight="bold" text-anchor="middle" fill="#e82c2c" >96</text>
<text x="428.70" y="231.30" font-size="6.9" font-weight="bold" text-anchor="end" fill="#111" >HR = 0.84 (0.72 − 0.98)</text>
<text x="430.90" y="239.40" font-size="6.9" font-weight="bold" text-anchor="end" fill="#111" >logrank P = 0.026</text>
<polyline points="282.60,226.90 288.70,228.90 294.80,233.00 298.60,237.60 302.40,241.40 308.50,246.00 314.60,250.50 319.20,253.60 325.30,255.90 329.90,258.90 334.50,262.00 340.60,264.60 346.70,265.80 352.00,267.40 355.80,269.30 364.70,271.20 371.10,272.40 377.40,273.30 383.80,274.10 390.20,274.60 396.50,275.60 402.90,276.60 409.30,277.10 415.60,277.80 422.00,278.20 427.10,278.20" fill="none" stroke="#151515" stroke-width="2.4" stroke-linejoin="round"/>
<line x1="282.68" y1="225.03" x2="282.68" y2="228.83" stroke="#151515" stroke-width="0.7" />
<line x1="284.77" y1="225.71" x2="284.77" y2="229.51" stroke="#151515" stroke-width="0.7" />
<line x1="286.95" y1="226.43" x2="286.95" y2="230.23" stroke="#151515" stroke-width="0.7" />
<line x1="288.65" y1="226.98" x2="288.65" y2="230.78" stroke="#151515" stroke-width="0.7" />
<line x1="291.21" y1="228.68" x2="291.21" y2="232.48" stroke="#151515" stroke-width="0.7" />
<line x1="291.25" y1="228.72" x2="291.25" y2="232.52" stroke="#151515" stroke-width="0.7" />
<line x1="292.75" y1="229.72" x2="292.75" y2="233.52" stroke="#151515" stroke-width="0.7" />
<line x1="293.15" y1="229.99" x2="293.15" y2="233.79" stroke="#151515" stroke-width="0.7" />
<line x1="293.21" y1="230.03" x2="293.21" y2="233.83" stroke="#151515" stroke-width="0.7" />
<line x1="295.19" y1="231.57" x2="295.19" y2="235.37" stroke="#151515" stroke-width="0.7" />
<line x1="295.62" y1="232.09" x2="295.62" y2="235.89" stroke="#151515" stroke-width="0.7" />
<line x1="295.70" y1="232.19" x2="295.70" y2="235.99" stroke="#151515" stroke-width="0.7" />
<line x1="296.20" y1="232.80" x2="296.20" y2="236.60" stroke="#151515" stroke-width="0.7" />
<line x1="297.10" y1="233.88" x2="297.10" y2="237.68" stroke="#151515" stroke-width="0.7" />
<line x1="297.20" y1="234.01" x2="297.20" y2="237.81" stroke="#151515" stroke-width="0.7" />
<line x1="299.44" y1="236.54" x2="299.44" y2="240.34" stroke="#151515" stroke-width="0.7" />
<line x1="299.65" y1="236.75" x2="299.65" y2="240.55" stroke="#151515" stroke-width="0.7" />
<line x1="301.52" y1="238.62" x2="301.52" y2="242.42" stroke="#151515" stroke-width="0.7" />
<line x1="304.87" y1="241.36" x2="304.87" y2="245.16" stroke="#151515" stroke-width="0.7" />
<line x1="305.36" y1="241.73" x2="305.36" y2="245.53" stroke="#151515" stroke-width="0.7" />
<line x1="308.27" y1="243.93" x2="308.27" y2="247.73" stroke="#151515" stroke-width="0.7" />
<line x1="309.02" y1="244.48" x2="309.02" y2="248.28" stroke="#151515" stroke-width="0.7" />
<line x1="309.28" y1="244.68" x2="309.28" y2="248.48" stroke="#151515" stroke-width="0.7" />
<line x1="310.09" y1="245.27" x2="310.09" y2="249.07" stroke="#151515" stroke-width="0.7" />
<line x1="310.15" y1="245.32" x2="310.15" y2="249.12" stroke="#151515" stroke-width="0.7" />
<line x1="312.90" y1="247.35" x2="312.90" y2="251.15" stroke="#151515" stroke-width="0.7" />
<line x1="313.05" y1="247.45" x2="313.05" y2="251.25" stroke="#151515" stroke-width="0.7" />
<line x1="313.36" y1="247.68" x2="313.36" y2="251.48" stroke="#151515" stroke-width="0.7" />
<line x1="313.41" y1="247.72" x2="313.41" y2="251.52" stroke="#151515" stroke-width="0.7" />
<line x1="315.79" y1="249.40" x2="315.79" y2="253.20" stroke="#151515" stroke-width="0.7" />
<line x1="317.56" y1="250.60" x2="317.56" y2="254.40" stroke="#151515" stroke-width="0.7" />
<line x1="317.72" y1="250.70" x2="317.72" y2="254.50" stroke="#151515" stroke-width="0.7" />
<line x1="318.20" y1="251.03" x2="318.20" y2="254.83" stroke="#151515" stroke-width="0.7" />
<line x1="319.92" y1="251.97" x2="319.92" y2="255.77" stroke="#151515" stroke-width="0.7" />
<line x1="321.58" y1="252.60" x2="321.58" y2="256.40" stroke="#151515" stroke-width="0.7" />
<line x1="321.59" y1="252.60" x2="321.59" y2="256.40" stroke="#151515" stroke-width="0.7" />
<line x1="322.79" y1="253.06" x2="322.79" y2="256.86" stroke="#151515" stroke-width="0.7" />
<line x1="324.37" y1="253.65" x2="324.37" y2="257.45" stroke="#151515" stroke-width="0.7" />
<line x1="325.42" y1="254.08" x2="325.42" y2="257.88" stroke="#151515" stroke-width="0.7" />
<line x1="326.44" y1="254.74" x2="326.44" y2="258.54" stroke="#151515" stroke-width="0.7" />
<line x1="326.55" y1="254.81" x2="326.55" y2="258.61" stroke="#151515" stroke-width="0.7" />
<line x1="328.16" y1="255.86" x2="328.16" y2="259.66" stroke="#151515" stroke-width="0.7" />
<line x1="330.13" y1="257.16" x2="330.13" y2="260.96" stroke="#151515" stroke-width="0.7" />
<line x1="330.66" y1="257.51" x2="330.66" y2="261.31" stroke="#151515" stroke-width="0.7" />
<line x1="336.31" y1="260.87" x2="336.31" y2="264.67" stroke="#151515" stroke-width="0.7" />
<line x1="338.45" y1="261.78" x2="338.45" y2="265.58" stroke="#151515" stroke-width="0.7" />
<line x1="339.57" y1="262.26" x2="339.57" y2="266.06" stroke="#151515" stroke-width="0.7" />
<line x1="340.03" y1="262.46" x2="340.03" y2="266.26" stroke="#151515" stroke-width="0.7" />
<line x1="340.46" y1="262.64" x2="340.46" y2="266.44" stroke="#151515" stroke-width="0.7" />
<line x1="343.40" y1="263.25" x2="343.40" y2="267.05" stroke="#151515" stroke-width="0.7" />
<line x1="346.26" y1="263.81" x2="346.26" y2="267.61" stroke="#151515" stroke-width="0.7" />
<line x1="347.25" y1="264.07" x2="347.25" y2="267.87" stroke="#151515" stroke-width="0.7" />
<line x1="347.97" y1="264.28" x2="347.97" y2="268.08" stroke="#151515" stroke-width="0.7" />
<line x1="348.09" y1="264.32" x2="348.09" y2="268.12" stroke="#151515" stroke-width="0.7" />
<line x1="348.68" y1="264.50" x2="348.68" y2="268.30" stroke="#151515" stroke-width="0.7" />
<line x1="349.64" y1="264.79" x2="349.64" y2="268.59" stroke="#151515" stroke-width="0.7" />
<line x1="349.89" y1="264.86" x2="349.89" y2="268.66" stroke="#151515" stroke-width="0.7" />
<line x1="350.51" y1="265.05" x2="350.51" y2="268.85" stroke="#151515" stroke-width="0.7" />
<line x1="352.50" y1="265.75" x2="352.50" y2="269.55" stroke="#151515" stroke-width="0.7" />
<line x1="354.82" y1="266.91" x2="354.82" y2="270.71" stroke="#151515" stroke-width="0.7" />
<line x1="355.98" y1="267.44" x2="355.98" y2="271.24" stroke="#151515" stroke-width="0.7" />
<line x1="356.57" y1="267.56" x2="356.57" y2="271.36" stroke="#151515" stroke-width="0.7" />
<line x1="357.61" y1="267.79" x2="357.61" y2="271.59" stroke="#151515" stroke-width="0.7" />
<line x1="358.95" y1="268.07" x2="358.95" y2="271.87" stroke="#151515" stroke-width="0.7" />
<line x1="363.42" y1="269.03" x2="363.42" y2="272.83" stroke="#151515" stroke-width="0.7" />
<line x1="363.49" y1="269.04" x2="363.49" y2="272.84" stroke="#151515" stroke-width="0.7" />
<line x1="365.63" y1="269.47" x2="365.63" y2="273.27" stroke="#151515" stroke-width="0.7" />
<line x1="366.81" y1="269.69" x2="366.81" y2="273.49" stroke="#151515" stroke-width="0.7" />
<line x1="367.48" y1="269.82" x2="367.48" y2="273.62" stroke="#151515" stroke-width="0.7" />
<line x1="369.49" y1="270.20" x2="369.49" y2="274.00" stroke="#151515" stroke-width="0.7" />
<line x1="371.55" y1="270.56" x2="371.55" y2="274.36" stroke="#151515" stroke-width="0.7" />
<line x1="373.56" y1="270.85" x2="373.56" y2="274.65" stroke="#151515" stroke-width="0.7" />
<line x1="373.62" y1="270.86" x2="373.62" y2="274.66" stroke="#151515" stroke-width="0.7" />
<line x1="375.12" y1="271.07" x2="375.12" y2="274.87" stroke="#151515" stroke-width="0.7" />
<line x1="375.35" y1="271.11" x2="375.35" y2="274.91" stroke="#151515" stroke-width="0.7" />
<line x1="375.62" y1="271.15" x2="375.62" y2="274.95" stroke="#151515" stroke-width="0.7" />
<line x1="377.09" y1="271.36" x2="377.09" y2="275.16" stroke="#151515" stroke-width="0.7" />
<line x1="378.32" y1="271.52" x2="378.32" y2="275.32" stroke="#151515" stroke-width="0.7" />
<line x1="382.80" y1="272.08" x2="382.80" y2="275.88" stroke="#151515" stroke-width="0.7" />
<line x1="384.88" y1="272.28" x2="384.88" y2="276.08" stroke="#151515" stroke-width="0.7" />
<line x1="388.36" y1="272.56" x2="388.36" y2="276.36" stroke="#151515" stroke-width="0.7" />
<line x1="392.14" y1="273.01" x2="392.14" y2="276.81" stroke="#151515" stroke-width="0.7" />
<line x1="393.33" y1="273.20" x2="393.33" y2="277.00" stroke="#151515" stroke-width="0.7" />
<line x1="394.25" y1="273.34" x2="394.25" y2="277.14" stroke="#151515" stroke-width="0.7" />
<line x1="395.09" y1="273.48" x2="395.09" y2="277.28" stroke="#151515" stroke-width="0.7" />
<line x1="397.19" y1="273.81" x2="397.19" y2="277.61" stroke="#151515" stroke-width="0.7" />
<line x1="397.77" y1="273.90" x2="397.77" y2="277.70" stroke="#151515" stroke-width="0.7" />
<line x1="398.69" y1="274.04" x2="398.69" y2="277.84" stroke="#151515" stroke-width="0.7" />
<line x1="399.59" y1="274.18" x2="399.59" y2="277.98" stroke="#151515" stroke-width="0.7" />
<line x1="400.77" y1="274.37" x2="400.77" y2="278.17" stroke="#151515" stroke-width="0.7" />
<line x1="404.01" y1="274.79" x2="404.01" y2="278.59" stroke="#151515" stroke-width="0.7" />
<line x1="404.33" y1="274.81" x2="404.33" y2="278.61" stroke="#151515" stroke-width="0.7" />
<line x1="404.93" y1="274.86" x2="404.93" y2="278.66" stroke="#151515" stroke-width="0.7" />
<line x1="405.04" y1="274.87" x2="405.04" y2="278.67" stroke="#151515" stroke-width="0.7" />
<line x1="406.06" y1="274.95" x2="406.06" y2="278.75" stroke="#151515" stroke-width="0.7" />
<line x1="407.81" y1="275.08" x2="407.81" y2="278.88" stroke="#151515" stroke-width="0.7" />
<line x1="410.46" y1="275.33" x2="410.46" y2="279.13" stroke="#151515" stroke-width="0.7" />
<line x1="413.87" y1="275.71" x2="413.87" y2="279.51" stroke="#151515" stroke-width="0.7" />
<line x1="414.13" y1="275.74" x2="414.13" y2="279.54" stroke="#151515" stroke-width="0.7" />
<line x1="416.15" y1="275.93" x2="416.15" y2="279.73" stroke="#151515" stroke-width="0.7" />
<line x1="421.04" y1="276.24" x2="421.04" y2="280.04" stroke="#151515" stroke-width="0.7" />
<line x1="421.19" y1="276.25" x2="421.19" y2="280.05" stroke="#151515" stroke-width="0.7" />
<line x1="421.91" y1="276.29" x2="421.91" y2="280.09" stroke="#151515" stroke-width="0.7" />
<line x1="422.01" y1="276.30" x2="422.01" y2="280.10" stroke="#151515" stroke-width="0.7" />
<line x1="422.90" y1="276.30" x2="422.90" y2="280.10" stroke="#151515" stroke-width="0.7" />
<line x1="424.26" y1="276.30" x2="424.26" y2="280.10" stroke="#151515" stroke-width="0.7" />
<line x1="424.53" y1="276.30" x2="424.53" y2="280.10" stroke="#151515" stroke-width="0.7" />
<line x1="425.55" y1="276.30" x2="425.55" y2="280.10" stroke="#151515" stroke-width="0.7" />
<line x1="426.48" y1="276.30" x2="426.48" y2="280.10" stroke="#151515" stroke-width="0.7" />
<line x1="426.76" y1="276.30" x2="426.76" y2="280.10" stroke="#151515" stroke-width="0.7" />
<polyline points="282.60,226.90 288.70,228.40 293.30,231.50 297.80,234.50 302.40,237.60 308.50,242.10 314.60,246.00 320.70,249.80 326.90,252.80 333.00,255.10 339.10,257.40 345.20,259.40 352.00,261.00 358.40,262.90 364.70,263.90 371.10,265.20 377.40,266.50 383.80,267.70 390.20,269.00 396.50,269.90 402.90,270.50 409.30,271.20 415.60,272.10 420.70,273.10 425.20,274.40 427.10,274.60" fill="none" stroke="#e4262c" stroke-width="2.4" stroke-linejoin="round"/>
<line x1="284.23" y1="225.40" x2="284.23" y2="229.20" stroke="#e4262c" stroke-width="0.7" />
<line x1="285.00" y1="225.59" x2="285.00" y2="229.39" stroke="#e4262c" stroke-width="0.7" />
<line x1="285.19" y1="225.64" x2="285.19" y2="229.44" stroke="#e4262c" stroke-width="0.7" />
<line x1="285.67" y1="225.76" x2="285.67" y2="229.56" stroke="#e4262c" stroke-width="0.7" />
<line x1="286.90" y1="226.06" x2="286.90" y2="229.86" stroke="#e4262c" stroke-width="0.7" />
<line x1="287.67" y1="226.25" x2="287.67" y2="230.05" stroke="#e4262c" stroke-width="0.7" />
<line x1="288.19" y1="226.37" x2="288.19" y2="230.17" stroke="#e4262c" stroke-width="0.7" />
<line x1="291.34" y1="228.28" x2="291.34" y2="232.08" stroke="#e4262c" stroke-width="0.7" />
<line x1="292.54" y1="229.09" x2="292.54" y2="232.89" stroke="#e4262c" stroke-width="0.7" />
<line x1="293.48" y1="229.72" x2="293.48" y2="233.52" stroke="#e4262c" stroke-width="0.7" />
<line x1="294.19" y1="230.19" x2="294.19" y2="233.99" stroke="#e4262c" stroke-width="0.7" />
<line x1="294.71" y1="230.54" x2="294.71" y2="234.34" stroke="#e4262c" stroke-width="0.7" />
<line x1="297.60" y1="232.47" x2="297.60" y2="236.27" stroke="#e4262c" stroke-width="0.7" />
<line x1="301.61" y1="235.17" x2="301.61" y2="238.97" stroke="#e4262c" stroke-width="0.7" />
<line x1="302.88" y1="236.05" x2="302.88" y2="239.85" stroke="#e4262c" stroke-width="0.7" />
<line x1="307.11" y1="239.17" x2="307.11" y2="242.97" stroke="#e4262c" stroke-width="0.7" />
<line x1="307.95" y1="239.79" x2="307.95" y2="243.59" stroke="#e4262c" stroke-width="0.7" />
<line x1="308.07" y1="239.88" x2="308.07" y2="243.68" stroke="#e4262c" stroke-width="0.7" />
<line x1="310.03" y1="241.18" x2="310.03" y2="244.98" stroke="#e4262c" stroke-width="0.7" />
<line x1="311.01" y1="241.80" x2="311.01" y2="245.60" stroke="#e4262c" stroke-width="0.7" />
<line x1="311.28" y1="241.98" x2="311.28" y2="245.78" stroke="#e4262c" stroke-width="0.7" />
<line x1="311.87" y1="242.36" x2="311.87" y2="246.16" stroke="#e4262c" stroke-width="0.7" />
<line x1="312.07" y1="242.49" x2="312.07" y2="246.29" stroke="#e4262c" stroke-width="0.7" />
<line x1="315.60" y1="244.72" x2="315.60" y2="248.52" stroke="#e4262c" stroke-width="0.7" />
<line x1="315.87" y1="244.89" x2="315.87" y2="248.69" stroke="#e4262c" stroke-width="0.7" />
<line x1="317.05" y1="245.63" x2="317.05" y2="249.43" stroke="#e4262c" stroke-width="0.7" />
<line x1="318.65" y1="246.62" x2="318.65" y2="250.42" stroke="#e4262c" stroke-width="0.7" />
<line x1="319.57" y1="247.19" x2="319.57" y2="250.99" stroke="#e4262c" stroke-width="0.7" />
<line x1="319.73" y1="247.30" x2="319.73" y2="251.10" stroke="#e4262c" stroke-width="0.7" />
<line x1="321.50" y1="248.29" x2="321.50" y2="252.09" stroke="#e4262c" stroke-width="0.7" />
<line x1="323.09" y1="249.06" x2="323.09" y2="252.86" stroke="#e4262c" stroke-width="0.7" />
<line x1="325.00" y1="249.98" x2="325.00" y2="253.78" stroke="#e4262c" stroke-width="0.7" />
<line x1="326.10" y1="250.51" x2="326.10" y2="254.31" stroke="#e4262c" stroke-width="0.7" />
<line x1="328.68" y1="251.57" x2="328.68" y2="255.37" stroke="#e4262c" stroke-width="0.7" />
<line x1="329.85" y1="252.01" x2="329.85" y2="255.81" stroke="#e4262c" stroke-width="0.7" />
<line x1="333.44" y1="253.37" x2="333.44" y2="257.17" stroke="#e4262c" stroke-width="0.7" />
<line x1="334.93" y1="253.93" x2="334.93" y2="257.73" stroke="#e4262c" stroke-width="0.7" />
<line x1="335.89" y1="254.29" x2="335.89" y2="258.09" stroke="#e4262c" stroke-width="0.7" />
<line x1="337.85" y1="255.03" x2="337.85" y2="258.83" stroke="#e4262c" stroke-width="0.7" />
<line x1="338.73" y1="255.36" x2="338.73" y2="259.16" stroke="#e4262c" stroke-width="0.7" />
<line x1="342.88" y1="256.74" x2="342.88" y2="260.54" stroke="#e4262c" stroke-width="0.7" />
<line x1="343.50" y1="256.94" x2="343.50" y2="260.74" stroke="#e4262c" stroke-width="0.7" />
<line x1="344.86" y1="257.39" x2="344.86" y2="261.19" stroke="#e4262c" stroke-width="0.7" />
<line x1="346.26" y1="257.75" x2="346.26" y2="261.55" stroke="#e4262c" stroke-width="0.7" />
<line x1="346.46" y1="257.80" x2="346.46" y2="261.60" stroke="#e4262c" stroke-width="0.7" />
<line x1="347.00" y1="257.92" x2="347.00" y2="261.72" stroke="#e4262c" stroke-width="0.7" />
<line x1="352.10" y1="259.13" x2="352.10" y2="262.93" stroke="#e4262c" stroke-width="0.7" />
<line x1="352.28" y1="259.18" x2="352.28" y2="262.98" stroke="#e4262c" stroke-width="0.7" />
<line x1="354.45" y1="259.83" x2="354.45" y2="263.63" stroke="#e4262c" stroke-width="0.7" />
<line x1="361.51" y1="261.49" x2="361.51" y2="265.29" stroke="#e4262c" stroke-width="0.7" />
<line x1="363.43" y1="261.80" x2="363.43" y2="265.60" stroke="#e4262c" stroke-width="0.7" />
<line x1="365.28" y1="262.12" x2="365.28" y2="265.92" stroke="#e4262c" stroke-width="0.7" />
<line x1="365.37" y1="262.14" x2="365.37" y2="265.94" stroke="#e4262c" stroke-width="0.7" />
<line x1="366.55" y1="262.38" x2="366.55" y2="266.18" stroke="#e4262c" stroke-width="0.7" />
<line x1="366.80" y1="262.43" x2="366.80" y2="266.23" stroke="#e4262c" stroke-width="0.7" />
<line x1="367.05" y1="262.48" x2="367.05" y2="266.28" stroke="#e4262c" stroke-width="0.7" />
<line x1="368.79" y1="262.83" x2="368.79" y2="266.63" stroke="#e4262c" stroke-width="0.7" />
<line x1="369.49" y1="262.97" x2="369.49" y2="266.77" stroke="#e4262c" stroke-width="0.7" />
<line x1="369.81" y1="263.04" x2="369.81" y2="266.84" stroke="#e4262c" stroke-width="0.7" />
<line x1="370.58" y1="263.19" x2="370.58" y2="266.99" stroke="#e4262c" stroke-width="0.7" />
<line x1="371.37" y1="263.36" x2="371.37" y2="267.16" stroke="#e4262c" stroke-width="0.7" />
<line x1="371.40" y1="263.36" x2="371.40" y2="267.16" stroke="#e4262c" stroke-width="0.7" />
<line x1="372.91" y1="263.67" x2="372.91" y2="267.47" stroke="#e4262c" stroke-width="0.7" />
<line x1="374.53" y1="264.01" x2="374.53" y2="267.81" stroke="#e4262c" stroke-width="0.7" />
<line x1="374.99" y1="264.10" x2="374.99" y2="267.90" stroke="#e4262c" stroke-width="0.7" />
<line x1="377.53" y1="264.62" x2="377.53" y2="268.42" stroke="#e4262c" stroke-width="0.7" />
<line x1="377.97" y1="264.71" x2="377.97" y2="268.51" stroke="#e4262c" stroke-width="0.7" />
<line x1="378.82" y1="264.87" x2="378.82" y2="268.67" stroke="#e4262c" stroke-width="0.7" />
<line x1="380.59" y1="265.20" x2="380.59" y2="269.00" stroke="#e4262c" stroke-width="0.7" />
<line x1="381.60" y1="265.39" x2="381.60" y2="269.19" stroke="#e4262c" stroke-width="0.7" />
<line x1="382.48" y1="265.55" x2="382.48" y2="269.35" stroke="#e4262c" stroke-width="0.7" />
<line x1="383.51" y1="265.75" x2="383.51" y2="269.55" stroke="#e4262c" stroke-width="0.7" />
<line x1="383.89" y1="265.82" x2="383.89" y2="269.62" stroke="#e4262c" stroke-width="0.7" />
<line x1="384.28" y1="265.90" x2="384.28" y2="269.70" stroke="#e4262c" stroke-width="0.7" />
<line x1="384.41" y1="265.92" x2="384.41" y2="269.72" stroke="#e4262c" stroke-width="0.7" />
<line x1="386.69" y1="266.39" x2="386.69" y2="270.19" stroke="#e4262c" stroke-width="0.7" />
<line x1="387.83" y1="266.62" x2="387.83" y2="270.42" stroke="#e4262c" stroke-width="0.7" />
<line x1="388.16" y1="266.69" x2="388.16" y2="270.49" stroke="#e4262c" stroke-width="0.7" />
<line x1="388.81" y1="266.82" x2="388.81" y2="270.62" stroke="#e4262c" stroke-width="0.7" />
<line x1="389.10" y1="266.88" x2="389.10" y2="270.68" stroke="#e4262c" stroke-width="0.7" />
<line x1="389.11" y1="266.88" x2="389.11" y2="270.68" stroke="#e4262c" stroke-width="0.7" />
<line x1="389.45" y1="266.95" x2="389.45" y2="270.75" stroke="#e4262c" stroke-width="0.7" />
<line x1="391.01" y1="267.22" x2="391.01" y2="271.02" stroke="#e4262c" stroke-width="0.7" />
<line x1="396.83" y1="268.03" x2="396.83" y2="271.83" stroke="#e4262c" stroke-width="0.7" />
<line x1="397.23" y1="268.07" x2="397.23" y2="271.87" stroke="#e4262c" stroke-width="0.7" />
<line x1="399.07" y1="268.24" x2="399.07" y2="272.04" stroke="#e4262c" stroke-width="0.7" />
<line x1="401.63" y1="268.48" x2="401.63" y2="272.28" stroke="#e4262c" stroke-width="0.7" />
<line x1="403.74" y1="268.69" x2="403.74" y2="272.49" stroke="#e4262c" stroke-width="0.7" />
<line x1="405.77" y1="268.91" x2="405.77" y2="272.71" stroke="#e4262c" stroke-width="0.7" />
<line x1="407.37" y1="269.09" x2="407.37" y2="272.89" stroke="#e4262c" stroke-width="0.7" />
<line x1="408.47" y1="269.21" x2="408.47" y2="273.01" stroke="#e4262c" stroke-width="0.7" />
<line x1="409.73" y1="269.36" x2="409.73" y2="273.16" stroke="#e4262c" stroke-width="0.7" />
<line x1="410.08" y1="269.41" x2="410.08" y2="273.21" stroke="#e4262c" stroke-width="0.7" />
<line x1="411.34" y1="269.59" x2="411.34" y2="273.39" stroke="#e4262c" stroke-width="0.7" />
<line x1="411.45" y1="269.61" x2="411.45" y2="273.41" stroke="#e4262c" stroke-width="0.7" />
<line x1="412.68" y1="269.78" x2="412.68" y2="273.58" stroke="#e4262c" stroke-width="0.7" />
<line x1="412.77" y1="269.80" x2="412.77" y2="273.60" stroke="#e4262c" stroke-width="0.7" />
<line x1="413.48" y1="269.90" x2="413.48" y2="273.70" stroke="#e4262c" stroke-width="0.7" />
<line x1="414.13" y1="269.99" x2="414.13" y2="273.79" stroke="#e4262c" stroke-width="0.7" />
<line x1="414.70" y1="270.07" x2="414.70" y2="273.87" stroke="#e4262c" stroke-width="0.7" />
<line x1="414.82" y1="270.09" x2="414.82" y2="273.89" stroke="#e4262c" stroke-width="0.7" />
<line x1="415.16" y1="270.14" x2="415.16" y2="273.94" stroke="#e4262c" stroke-width="0.7" />
<line x1="415.61" y1="270.20" x2="415.61" y2="274.00" stroke="#e4262c" stroke-width="0.7" />
<line x1="418.49" y1="270.77" x2="418.49" y2="274.57" stroke="#e4262c" stroke-width="0.7" />
<line x1="419.89" y1="271.04" x2="419.89" y2="274.84" stroke="#e4262c" stroke-width="0.7" />
<line x1="421.71" y1="271.49" x2="421.71" y2="275.29" stroke="#e4262c" stroke-width="0.7" />
<line x1="421.72" y1="271.49" x2="421.72" y2="275.29" stroke="#e4262c" stroke-width="0.7" />
<line x1="424.28" y1="272.23" x2="424.28" y2="276.03" stroke="#e4262c" stroke-width="0.7" />
<line x1="426.14" y1="272.60" x2="426.14" y2="276.40" stroke="#e4262c" stroke-width="0.7" />
<line x1="427.01" y1="272.69" x2="427.01" y2="276.49" stroke="#e4262c" stroke-width="0.7" />
<text x="0" y="0" font-size="16" font-weight="bold" fill="#000" transform="translate(484.88 207.90) scale(0.855 1)">F</text>
<rect x="514.1" y="218.6" width="154.19999999999993" height="128.9" fill="none" stroke="#8c8c8c" stroke-width="1"/>
<line x1="511.30" y1="342.70" x2="514.10" y2="342.70" stroke="#888" stroke-width="0.8" />
<text x="507.70" y="342.70" font-size="6.6" font-weight="bold" text-anchor="middle" fill="#222" transform="rotate(-90 507.70 342.70)" >0.0</text>
<line x1="511.30" y1="318.68" x2="514.10" y2="318.68" stroke="#888" stroke-width="0.8" />
<text x="507.70" y="318.68" font-size="6.6" font-weight="bold" text-anchor="middle" fill="#222" transform="rotate(-90 507.70 318.68)" >0.2</text>
<line x1="511.30" y1="294.66" x2="514.10" y2="294.66" stroke="#888" stroke-width="0.8" />
<text x="507.70" y="294.66" font-size="6.6" font-weight="bold" text-anchor="middle" fill="#222" transform="rotate(-90 507.70 294.66)" >0.4</text>
<line x1="511.30" y1="270.64" x2="514.10" y2="270.64" stroke="#888" stroke-width="0.8" />
<text x="507.70" y="270.64" font-size="6.6" font-weight="bold" text-anchor="middle" fill="#222" transform="rotate(-90 507.70 270.64)" >0.6</text>
<line x1="511.30" y1="246.62" x2="514.10" y2="246.62" stroke="#888" stroke-width="0.8" />
<text x="507.70" y="246.62" font-size="6.6" font-weight="bold" text-anchor="middle" fill="#222" transform="rotate(-90 507.70 246.62)" >0.8</text>
<line x1="511.30" y1="222.60" x2="514.10" y2="222.60" stroke="#888" stroke-width="0.8" />
<text x="507.70" y="222.60" font-size="6.6" font-weight="bold" text-anchor="middle" fill="#222" transform="rotate(-90 507.70 222.60)" >1.0</text>
<line x1="519.50" y1="347.50" x2="519.50" y2="350.10" stroke="#888" stroke-width="0.8" />
<text x="519.50" y="358.00" font-size="6.9" font-weight="bold" text-anchor="middle" fill="#111" >0</text>
<line x1="545.40" y1="347.50" x2="545.40" y2="350.10" stroke="#888" stroke-width="0.8" />
<text x="545.40" y="358.00" font-size="6.9" font-weight="bold" text-anchor="middle" fill="#111" >50</text>
<line x1="571.30" y1="347.50" x2="571.30" y2="350.10" stroke="#888" stroke-width="0.8" />
<text x="571.30" y="358.00" font-size="6.9" font-weight="bold" text-anchor="middle" fill="#111" >100</text>
<line x1="597.20" y1="347.50" x2="597.20" y2="350.10" stroke="#888" stroke-width="0.8" />
<text x="597.20" y="358.00" font-size="6.9" font-weight="bold" text-anchor="middle" fill="#111" >150</text>
<line x1="623.10" y1="347.50" x2="623.10" y2="350.10" stroke="#888" stroke-width="0.8" />
<text x="623.10" y="358.00" font-size="6.9" font-weight="bold" text-anchor="middle" fill="#111" >200</text>
<line x1="649.00" y1="347.50" x2="649.00" y2="350.10" stroke="#888" stroke-width="0.8" />
<text x="649.00" y="358.00" font-size="6.9" font-weight="bold" text-anchor="middle" fill="#111" >250</text>
<text x="496.80" y="278.80" font-size="7.6" font-weight="bold" text-anchor="middle" fill="#111" textLength="63.3" lengthAdjust="spacingAndGlyphs" transform="rotate(-90 496.80 278.80)" >Overall Survival</text>
<text x="579.90" y="208.90" font-size="7.5" font-weight="bold" text-anchor="middle" fill="#111" >KM-plotter</text>
<text x="517.50" y="325.00" font-size="7" font-weight="bold" text-anchor="start" fill="#111" >Expression</text>
<line x1="520.10" y1="332.30" x2="532.80" y2="332.30" stroke="#777" stroke-width="0.8" />
<line x1="520.10" y1="340.00" x2="532.80" y2="340.00" stroke="#e890a8" stroke-width="0.8" />
<text x="539.20" y="334.90" font-size="6.5" font-weight="bold" text-anchor="start" fill="#111" >low</text>
<text x="539.20" y="342.60" font-size="6.5" font-weight="bold" text-anchor="start" fill="#111" >high</text>
<text x="470.90" y="375.20" font-size="6" font-weight="bold" text-anchor="start" fill="#111" >Number at risk</text>
<text x="593.00" y="368.70" font-size="7" font-weight="bold" text-anchor="middle" fill="#111" >Time (months)</text>
<text x="512.60" y="385.30" font-size="6.0" font-weight="bold" text-anchor="end" fill="#111" >low</text>
<text x="512.60" y="391.00" font-size="6.0" font-weight="bold" text-anchor="end" fill="#cc3366" >high</text>
<text x="523.40" y="385.30" font-size="6.1" font-weight="bold" text-anchor="middle" fill="#111" >1016</text>
<text x="523.40" y="391.00" font-size="6.1" font-weight="bold" text-anchor="middle" fill="#cc3366" >1016</text>
<text x="548.40" y="385.30" font-size="6.1" font-weight="bold" text-anchor="middle" fill="#111" >511</text>
<text x="548.40" y="391.00" font-size="6.1" font-weight="bold" text-anchor="middle" fill="#cc3366" >581</text>
<text x="573.80" y="385.30" font-size="6.1" font-weight="bold" text-anchor="middle" fill="#111" >159</text>
<text x="573.80" y="391.00" font-size="6.1" font-weight="bold" text-anchor="middle" fill="#cc3366" >187</text>
<text x="599.60" y="385.30" font-size="6.1" font-weight="bold" text-anchor="middle" fill="#111" >36</text>
<text x="599.60" y="391.00" font-size="6.1" font-weight="bold" text-anchor="middle" fill="#cc3366" >32</text>
<text x="625.00" y="385.30" font-size="6.1" font-weight="bold" text-anchor="middle" fill="#111" >5</text>
<text x="625.00" y="391.00" font-size="6.1" font-weight="bold" text-anchor="middle" fill="#cc3366" >5</text>
<text x="650.30" y="385.30" font-size="6.1" font-weight="bold" text-anchor="middle" fill="#111" >1</text>
<text x="650.30" y="391.00" font-size="6.1" font-weight="bold" text-anchor="middle" fill="#cc3366" >1</text>
<text x="664.00" y="228.10" font-size="6.9" font-weight="bold" text-anchor="end" fill="#111" >HR = 0.85 (0.73 − 0.99)</text>
<text x="666.60" y="236.30" font-size="6.9" font-weight="bold" text-anchor="end" fill="#111" >logrank P = 0.032</text>
<polyline points="520.00,223.80 524.10,227.90 526.60,234.50 529.00,239.50 532.40,245.30 535.70,250.20 539.80,255.20 543.90,260.10 548.10,263.00 554.70,266.80 561.30,269.20 567.90,271.20 575.00,273.00 578.60,273.70 582.30,274.40 586.00,274.80 589.60,275.00 593.20,275.10 596.90,275.90 600.50,276.60 606.40,276.60" fill="none" stroke="#151515" stroke-width="2.1" stroke-linejoin="round"/>
<line x1="520.93" y1="222.83" x2="520.93" y2="226.63" stroke="#151515" stroke-width="0.7" />
<line x1="521.65" y1="223.55" x2="521.65" y2="227.35" stroke="#151515" stroke-width="0.7" />
<line x1="522.14" y1="224.04" x2="522.14" y2="227.84" stroke="#151515" stroke-width="0.7" />
<line x1="522.72" y1="224.62" x2="522.72" y2="228.42" stroke="#151515" stroke-width="0.7" />
<line x1="523.58" y1="225.48" x2="523.58" y2="229.28" stroke="#151515" stroke-width="0.7" />
<line x1="524.06" y1="225.96" x2="524.06" y2="229.76" stroke="#151515" stroke-width="0.7" />
<line x1="526.45" y1="232.21" x2="526.45" y2="236.01" stroke="#151515" stroke-width="0.7" />
<line x1="527.53" y1="234.55" x2="527.53" y2="238.35" stroke="#151515" stroke-width="0.7" />
<line x1="531.22" y1="241.39" x2="531.22" y2="245.19" stroke="#151515" stroke-width="0.7" />
<line x1="531.74" y1="242.27" x2="531.74" y2="246.07" stroke="#151515" stroke-width="0.7" />
<line x1="531.77" y1="242.32" x2="531.77" y2="246.12" stroke="#151515" stroke-width="0.7" />
<line x1="532.17" y1="243.01" x2="532.17" y2="246.81" stroke="#151515" stroke-width="0.7" />
<line x1="534.61" y1="246.69" x2="534.61" y2="250.49" stroke="#151515" stroke-width="0.7" />
<line x1="535.44" y1="247.91" x2="535.44" y2="251.71" stroke="#151515" stroke-width="0.7" />
<line x1="535.47" y1="247.96" x2="535.47" y2="251.76" stroke="#151515" stroke-width="0.7" />
<line x1="537.22" y1="250.16" x2="537.22" y2="253.96" stroke="#151515" stroke-width="0.7" />
<line x1="537.70" y1="250.74" x2="537.70" y2="254.54" stroke="#151515" stroke-width="0.7" />
<line x1="538.43" y1="251.63" x2="538.43" y2="255.43" stroke="#151515" stroke-width="0.7" />
<line x1="538.50" y1="251.71" x2="538.50" y2="255.51" stroke="#151515" stroke-width="0.7" />
<line x1="540.51" y1="254.15" x2="540.51" y2="257.95" stroke="#151515" stroke-width="0.7" />
<line x1="543.53" y1="257.76" x2="543.53" y2="261.56" stroke="#151515" stroke-width="0.7" />
<line x1="543.77" y1="258.05" x2="543.77" y2="261.85" stroke="#151515" stroke-width="0.7" />
<line x1="543.92" y1="258.21" x2="543.92" y2="262.01" stroke="#151515" stroke-width="0.7" />
<line x1="546.70" y1="260.13" x2="546.70" y2="263.93" stroke="#151515" stroke-width="0.7" />
<line x1="547.25" y1="260.51" x2="547.25" y2="264.31" stroke="#151515" stroke-width="0.7" />
<line x1="547.34" y1="260.58" x2="547.34" y2="264.38" stroke="#151515" stroke-width="0.7" />
<line x1="547.68" y1="260.81" x2="547.68" y2="264.61" stroke="#151515" stroke-width="0.7" />
<line x1="549.87" y1="262.12" x2="549.87" y2="265.92" stroke="#151515" stroke-width="0.7" />
<line x1="550.11" y1="262.26" x2="550.11" y2="266.06" stroke="#151515" stroke-width="0.7" />
<line x1="552.56" y1="263.67" x2="552.56" y2="267.47" stroke="#151515" stroke-width="0.7" />
<line x1="553.21" y1="264.04" x2="553.21" y2="267.84" stroke="#151515" stroke-width="0.7" />
<line x1="554.00" y1="264.50" x2="554.00" y2="268.30" stroke="#151515" stroke-width="0.7" />
<line x1="555.77" y1="265.29" x2="555.77" y2="269.09" stroke="#151515" stroke-width="0.7" />
<line x1="558.58" y1="266.31" x2="558.58" y2="270.11" stroke="#151515" stroke-width="0.7" />
<line x1="558.94" y1="266.44" x2="558.94" y2="270.24" stroke="#151515" stroke-width="0.7" />
<line x1="559.09" y1="266.50" x2="559.09" y2="270.30" stroke="#151515" stroke-width="0.7" />
<line x1="559.19" y1="266.53" x2="559.19" y2="270.33" stroke="#151515" stroke-width="0.7" />
<line x1="559.30" y1="266.57" x2="559.30" y2="270.37" stroke="#151515" stroke-width="0.7" />
<line x1="560.06" y1="266.85" x2="560.06" y2="270.65" stroke="#151515" stroke-width="0.7" />
<line x1="560.80" y1="267.12" x2="560.80" y2="270.92" stroke="#151515" stroke-width="0.7" />
<line x1="561.05" y1="267.21" x2="561.05" y2="271.01" stroke="#151515" stroke-width="0.7" />
<line x1="562.67" y1="267.72" x2="562.67" y2="271.52" stroke="#151515" stroke-width="0.7" />
<line x1="562.89" y1="267.78" x2="562.89" y2="271.58" stroke="#151515" stroke-width="0.7" />
<line x1="564.96" y1="268.41" x2="564.96" y2="272.21" stroke="#151515" stroke-width="0.7" />
<line x1="566.39" y1="268.84" x2="566.39" y2="272.64" stroke="#151515" stroke-width="0.7" />
<line x1="569.15" y1="269.62" x2="569.15" y2="273.42" stroke="#151515" stroke-width="0.7" />
<line x1="569.30" y1="269.65" x2="569.30" y2="273.45" stroke="#151515" stroke-width="0.7" />
<line x1="570.38" y1="269.93" x2="570.38" y2="273.73" stroke="#151515" stroke-width="0.7" />
<line x1="573.09" y1="270.62" x2="573.09" y2="274.42" stroke="#151515" stroke-width="0.7" />
<line x1="574.05" y1="270.86" x2="574.05" y2="274.66" stroke="#151515" stroke-width="0.7" />
<line x1="574.06" y1="270.86" x2="574.06" y2="274.66" stroke="#151515" stroke-width="0.7" />
<line x1="574.36" y1="270.94" x2="574.36" y2="274.74" stroke="#151515" stroke-width="0.7" />
<line x1="574.43" y1="270.96" x2="574.43" y2="274.76" stroke="#151515" stroke-width="0.7" />
<line x1="575.44" y1="271.18" x2="575.44" y2="274.98" stroke="#151515" stroke-width="0.7" />
<line x1="576.27" y1="271.35" x2="576.27" y2="275.15" stroke="#151515" stroke-width="0.7" />
<line x1="576.60" y1="271.41" x2="576.60" y2="275.21" stroke="#151515" stroke-width="0.7" />
<line x1="579.14" y1="271.90" x2="579.14" y2="275.70" stroke="#151515" stroke-width="0.7" />
<line x1="580.25" y1="272.11" x2="580.25" y2="275.91" stroke="#151515" stroke-width="0.7" />
<line x1="581.23" y1="272.30" x2="581.23" y2="276.10" stroke="#151515" stroke-width="0.7" />
<line x1="581.45" y1="272.34" x2="581.45" y2="276.14" stroke="#151515" stroke-width="0.7" />
<line x1="581.70" y1="272.39" x2="581.70" y2="276.19" stroke="#151515" stroke-width="0.7" />
<line x1="582.01" y1="272.44" x2="582.01" y2="276.24" stroke="#151515" stroke-width="0.7" />
<line x1="582.38" y1="272.51" x2="582.38" y2="276.31" stroke="#151515" stroke-width="0.7" />
<line x1="582.41" y1="272.51" x2="582.41" y2="276.31" stroke="#151515" stroke-width="0.7" />
<line x1="585.34" y1="272.83" x2="585.34" y2="276.63" stroke="#151515" stroke-width="0.7" />
<line x1="588.32" y1="273.03" x2="588.32" y2="276.83" stroke="#151515" stroke-width="0.7" />
<line x1="588.39" y1="273.03" x2="588.39" y2="276.83" stroke="#151515" stroke-width="0.7" />
<line x1="588.42" y1="273.03" x2="588.42" y2="276.83" stroke="#151515" stroke-width="0.7" />
<line x1="588.84" y1="273.06" x2="588.84" y2="276.86" stroke="#151515" stroke-width="0.7" />
<line x1="589.76" y1="273.10" x2="589.76" y2="276.90" stroke="#151515" stroke-width="0.7" />
<line x1="590.71" y1="273.13" x2="590.71" y2="276.93" stroke="#151515" stroke-width="0.7" />
<line x1="591.68" y1="273.16" x2="591.68" y2="276.96" stroke="#151515" stroke-width="0.7" />
<line x1="592.33" y1="273.18" x2="592.33" y2="276.98" stroke="#151515" stroke-width="0.7" />
<line x1="592.50" y1="273.18" x2="592.50" y2="276.98" stroke="#151515" stroke-width="0.7" />
<line x1="593.33" y1="273.23" x2="593.33" y2="277.03" stroke="#151515" stroke-width="0.7" />
<line x1="593.94" y1="273.36" x2="593.94" y2="277.16" stroke="#151515" stroke-width="0.7" />
<line x1="595.41" y1="273.68" x2="595.41" y2="277.48" stroke="#151515" stroke-width="0.7" />
<line x1="595.97" y1="273.80" x2="595.97" y2="277.60" stroke="#151515" stroke-width="0.7" />
<line x1="596.06" y1="273.82" x2="596.06" y2="277.62" stroke="#151515" stroke-width="0.7" />
<line x1="597.76" y1="274.17" x2="597.76" y2="277.97" stroke="#151515" stroke-width="0.7" />
<line x1="598.30" y1="274.27" x2="598.30" y2="278.07" stroke="#151515" stroke-width="0.7" />
<line x1="598.62" y1="274.33" x2="598.62" y2="278.13" stroke="#151515" stroke-width="0.7" />
<line x1="598.62" y1="274.34" x2="598.62" y2="278.14" stroke="#151515" stroke-width="0.7" />
<line x1="600.58" y1="274.70" x2="600.58" y2="278.50" stroke="#151515" stroke-width="0.7" />
<line x1="601.58" y1="274.70" x2="601.58" y2="278.50" stroke="#151515" stroke-width="0.7" />
<line x1="602.08" y1="274.70" x2="602.08" y2="278.50" stroke="#151515" stroke-width="0.7" />
<line x1="602.81" y1="274.70" x2="602.81" y2="278.50" stroke="#151515" stroke-width="0.7" />
<line x1="604.44" y1="274.70" x2="604.44" y2="278.50" stroke="#151515" stroke-width="0.7" />
<line x1="604.71" y1="274.70" x2="604.71" y2="278.50" stroke="#151515" stroke-width="0.7" />
<line x1="604.85" y1="274.70" x2="604.85" y2="278.50" stroke="#151515" stroke-width="0.7" />
<line x1="606.40" y1="276.30" x2="663.00" y2="276.30" stroke="#333" stroke-width="0.8" />
<line x1="610.50" y1="274.80" x2="610.50" y2="277.80" stroke="#333" stroke-width="0.8" />
<line x1="613.50" y1="274.80" x2="613.50" y2="277.80" stroke="#333" stroke-width="0.8" />
<line x1="617.50" y1="274.80" x2="617.50" y2="277.80" stroke="#333" stroke-width="0.8" />
<line x1="620.40" y1="274.80" x2="620.40" y2="277.80" stroke="#333" stroke-width="0.8" />
<line x1="622.70" y1="274.80" x2="622.70" y2="277.80" stroke="#333" stroke-width="0.8" />
<line x1="626.20" y1="274.80" x2="626.20" y2="277.80" stroke="#333" stroke-width="0.8" />
<line x1="645.80" y1="274.80" x2="645.80" y2="277.80" stroke="#333" stroke-width="0.8" />
<line x1="662.70" y1="274.80" x2="662.70" y2="277.80" stroke="#333" stroke-width="0.8" />
<polyline points="520.00,223.80 523.30,226.30 525.70,229.60 528.20,233.70 531.50,239.50 534.80,244.40 539.00,249.40 543.90,253.50 549.70,256.80 556.30,260.10 562.90,262.60 569.50,265.10 575.00,267.10 578.60,268.20 582.30,269.70 586.00,271.10 589.60,271.90 593.20,272.20 596.90,273.70 600.50,274.00 604.20,274.00 607.10,274.40" fill="none" stroke="#cc3d66" stroke-width="2.1" stroke-linejoin="round"/>
<line x1="521.98" y1="223.40" x2="521.98" y2="227.20" stroke="#cc3d66" stroke-width="0.7" />
<line x1="522.42" y1="223.73" x2="522.42" y2="227.53" stroke="#cc3d66" stroke-width="0.7" />
<line x1="522.47" y1="223.77" x2="522.47" y2="227.57" stroke="#cc3d66" stroke-width="0.7" />
<line x1="525.58" y1="227.53" x2="525.58" y2="231.33" stroke="#cc3d66" stroke-width="0.7" />
<line x1="525.74" y1="227.77" x2="525.74" y2="231.57" stroke="#cc3d66" stroke-width="0.7" />
<line x1="527.21" y1="230.18" x2="527.21" y2="233.98" stroke="#cc3d66" stroke-width="0.7" />
<line x1="527.49" y1="230.64" x2="527.49" y2="234.44" stroke="#cc3d66" stroke-width="0.7" />
<line x1="529.14" y1="233.44" x2="529.14" y2="237.24" stroke="#cc3d66" stroke-width="0.7" />
<line x1="530.69" y1="236.18" x2="530.69" y2="239.98" stroke="#cc3d66" stroke-width="0.7" />
<line x1="531.06" y1="236.82" x2="531.06" y2="240.62" stroke="#cc3d66" stroke-width="0.7" />
<line x1="531.28" y1="237.21" x2="531.28" y2="241.01" stroke="#cc3d66" stroke-width="0.7" />
<line x1="532.24" y1="238.70" x2="532.24" y2="242.50" stroke="#cc3d66" stroke-width="0.7" />
<line x1="532.95" y1="239.75" x2="532.95" y2="243.55" stroke="#cc3d66" stroke-width="0.7" />
<line x1="533.91" y1="241.18" x2="533.91" y2="244.98" stroke="#cc3d66" stroke-width="0.7" />
<line x1="535.06" y1="242.81" x2="535.06" y2="246.61" stroke="#cc3d66" stroke-width="0.7" />
<line x1="536.68" y1="244.73" x2="536.68" y2="248.53" stroke="#cc3d66" stroke-width="0.7" />
<line x1="536.91" y1="245.01" x2="536.91" y2="248.81" stroke="#cc3d66" stroke-width="0.7" />
<line x1="537.22" y1="245.38" x2="537.22" y2="249.18" stroke="#cc3d66" stroke-width="0.7" />
<line x1="537.50" y1="245.72" x2="537.50" y2="249.52" stroke="#cc3d66" stroke-width="0.7" />
<line x1="537.79" y1="246.06" x2="537.79" y2="249.86" stroke="#cc3d66" stroke-width="0.7" />
<line x1="538.14" y1="246.47" x2="538.14" y2="250.27" stroke="#cc3d66" stroke-width="0.7" />
<line x1="539.29" y1="247.74" x2="539.29" y2="251.54" stroke="#cc3d66" stroke-width="0.7" />
<line x1="539.79" y1="248.16" x2="539.79" y2="251.96" stroke="#cc3d66" stroke-width="0.7" />
<line x1="541.82" y1="249.86" x2="541.82" y2="253.66" stroke="#cc3d66" stroke-width="0.7" />
<line x1="543.45" y1="251.22" x2="543.45" y2="255.02" stroke="#cc3d66" stroke-width="0.7" />
<line x1="545.27" y1="252.38" x2="545.27" y2="256.18" stroke="#cc3d66" stroke-width="0.7" />
<line x1="547.15" y1="253.45" x2="547.15" y2="257.25" stroke="#cc3d66" stroke-width="0.7" />
<line x1="547.63" y1="253.72" x2="547.63" y2="257.52" stroke="#cc3d66" stroke-width="0.7" />
<line x1="548.05" y1="253.96" x2="548.05" y2="257.76" stroke="#cc3d66" stroke-width="0.7" />
<line x1="549.18" y1="254.60" x2="549.18" y2="258.40" stroke="#cc3d66" stroke-width="0.7" />
<line x1="550.95" y1="255.53" x2="550.95" y2="259.33" stroke="#cc3d66" stroke-width="0.7" />
<line x1="552.73" y1="256.41" x2="552.73" y2="260.21" stroke="#cc3d66" stroke-width="0.7" />
<line x1="553.20" y1="256.65" x2="553.20" y2="260.45" stroke="#cc3d66" stroke-width="0.7" />
<line x1="554.89" y1="257.50" x2="554.89" y2="261.30" stroke="#cc3d66" stroke-width="0.7" />
<line x1="556.01" y1="258.05" x2="556.01" y2="261.85" stroke="#cc3d66" stroke-width="0.7" />
<line x1="556.04" y1="258.07" x2="556.04" y2="261.87" stroke="#cc3d66" stroke-width="0.7" />
<line x1="557.77" y1="258.76" x2="557.77" y2="262.56" stroke="#cc3d66" stroke-width="0.7" />
<line x1="558.04" y1="258.86" x2="558.04" y2="262.66" stroke="#cc3d66" stroke-width="0.7" />
<line x1="558.40" y1="259.00" x2="558.40" y2="262.80" stroke="#cc3d66" stroke-width="0.7" />
<line x1="561.21" y1="260.06" x2="561.21" y2="263.86" stroke="#cc3d66" stroke-width="0.7" />
<line x1="561.51" y1="260.17" x2="561.51" y2="263.97" stroke="#cc3d66" stroke-width="0.7" />
<line x1="562.46" y1="260.53" x2="562.46" y2="264.33" stroke="#cc3d66" stroke-width="0.7" />
<line x1="562.77" y1="260.65" x2="562.77" y2="264.45" stroke="#cc3d66" stroke-width="0.7" />
<line x1="562.90" y1="260.70" x2="562.90" y2="264.50" stroke="#cc3d66" stroke-width="0.7" />
<line x1="563.83" y1="261.05" x2="563.83" y2="264.85" stroke="#cc3d66" stroke-width="0.7" />
<line x1="564.46" y1="261.29" x2="564.46" y2="265.09" stroke="#cc3d66" stroke-width="0.7" />
<line x1="564.95" y1="261.47" x2="564.95" y2="265.27" stroke="#cc3d66" stroke-width="0.7" />
<line x1="564.99" y1="261.49" x2="564.99" y2="265.29" stroke="#cc3d66" stroke-width="0.7" />
<line x1="565.53" y1="261.70" x2="565.53" y2="265.50" stroke="#cc3d66" stroke-width="0.7" />
<line x1="565.66" y1="261.75" x2="565.66" y2="265.55" stroke="#cc3d66" stroke-width="0.7" />
<line x1="565.87" y1="261.83" x2="565.87" y2="265.63" stroke="#cc3d66" stroke-width="0.7" />
<line x1="566.11" y1="261.91" x2="566.11" y2="265.71" stroke="#cc3d66" stroke-width="0.7" />
<line x1="566.19" y1="261.95" x2="566.19" y2="265.75" stroke="#cc3d66" stroke-width="0.7" />
<line x1="566.68" y1="262.13" x2="566.68" y2="265.93" stroke="#cc3d66" stroke-width="0.7" />
<line x1="566.92" y1="262.22" x2="566.92" y2="266.02" stroke="#cc3d66" stroke-width="0.7" />
<line x1="567.93" y1="262.61" x2="567.93" y2="266.41" stroke="#cc3d66" stroke-width="0.7" />
<line x1="568.77" y1="262.92" x2="568.77" y2="266.72" stroke="#cc3d66" stroke-width="0.7" />
<line x1="569.03" y1="263.02" x2="569.03" y2="266.82" stroke="#cc3d66" stroke-width="0.7" />
<line x1="569.91" y1="263.35" x2="569.91" y2="267.15" stroke="#cc3d66" stroke-width="0.7" />
<line x1="572.72" y1="264.37" x2="572.72" y2="268.17" stroke="#cc3d66" stroke-width="0.7" />
<line x1="573.82" y1="264.77" x2="573.82" y2="268.57" stroke="#cc3d66" stroke-width="0.7" />
<line x1="573.98" y1="264.83" x2="573.98" y2="268.63" stroke="#cc3d66" stroke-width="0.7" />
<line x1="574.99" y1="265.20" x2="574.99" y2="269.00" stroke="#cc3d66" stroke-width="0.7" />
<line x1="575.65" y1="265.40" x2="575.65" y2="269.20" stroke="#cc3d66" stroke-width="0.7" />
<line x1="579.84" y1="266.80" x2="579.84" y2="270.60" stroke="#cc3d66" stroke-width="0.7" />
<line x1="580.04" y1="266.89" x2="580.04" y2="270.69" stroke="#cc3d66" stroke-width="0.7" />
<line x1="580.18" y1="266.94" x2="580.18" y2="270.74" stroke="#cc3d66" stroke-width="0.7" />
<line x1="583.02" y1="268.07" x2="583.02" y2="271.87" stroke="#cc3d66" stroke-width="0.7" />
<line x1="583.48" y1="268.25" x2="583.48" y2="272.05" stroke="#cc3d66" stroke-width="0.7" />
<line x1="583.66" y1="268.31" x2="583.66" y2="272.11" stroke="#cc3d66" stroke-width="0.7" />
<line x1="586.91" y1="269.40" x2="586.91" y2="273.20" stroke="#cc3d66" stroke-width="0.7" />
<line x1="587.88" y1="269.62" x2="587.88" y2="273.42" stroke="#cc3d66" stroke-width="0.7" />
<line x1="588.63" y1="269.78" x2="588.63" y2="273.58" stroke="#cc3d66" stroke-width="0.7" />
<line x1="589.67" y1="270.01" x2="589.67" y2="273.81" stroke="#cc3d66" stroke-width="0.7" />
<line x1="589.77" y1="270.01" x2="589.77" y2="273.81" stroke="#cc3d66" stroke-width="0.7" />
<line x1="590.48" y1="270.07" x2="590.48" y2="273.87" stroke="#cc3d66" stroke-width="0.7" />
<line x1="591.05" y1="270.12" x2="591.05" y2="273.92" stroke="#cc3d66" stroke-width="0.7" />
<line x1="593.16" y1="270.30" x2="593.16" y2="274.10" stroke="#cc3d66" stroke-width="0.7" />
<line x1="593.48" y1="270.41" x2="593.48" y2="274.21" stroke="#cc3d66" stroke-width="0.7" />
<line x1="593.62" y1="270.47" x2="593.62" y2="274.27" stroke="#cc3d66" stroke-width="0.7" />
<line x1="594.10" y1="270.67" x2="594.10" y2="274.47" stroke="#cc3d66" stroke-width="0.7" />
<line x1="598.44" y1="271.93" x2="598.44" y2="275.73" stroke="#cc3d66" stroke-width="0.7" />
<line x1="598.44" y1="271.93" x2="598.44" y2="275.73" stroke="#cc3d66" stroke-width="0.7" />
<line x1="600.43" y1="272.09" x2="600.43" y2="275.89" stroke="#cc3d66" stroke-width="0.7" />
<line x1="600.59" y1="272.10" x2="600.59" y2="275.90" stroke="#cc3d66" stroke-width="0.7" />
<line x1="602.37" y1="272.10" x2="602.37" y2="275.90" stroke="#cc3d66" stroke-width="0.7" />
<line x1="602.67" y1="272.10" x2="602.67" y2="275.90" stroke="#cc3d66" stroke-width="0.7" />
<line x1="603.34" y1="272.10" x2="603.34" y2="275.90" stroke="#cc3d66" stroke-width="0.7" />
<line x1="604.35" y1="272.12" x2="604.35" y2="275.92" stroke="#cc3d66" stroke-width="0.7" />
<line x1="604.44" y1="272.13" x2="604.44" y2="275.93" stroke="#cc3d66" stroke-width="0.7" />
<line x1="607.10" y1="274.40" x2="607.10" y2="278.50" stroke="#d86a8a" stroke-width="0.8" />
<line x1="607.10" y1="278.50" x2="653.70" y2="278.50" stroke="#d86a8a" stroke-width="0.8" />
<line x1="609.90" y1="277.00" x2="609.90" y2="280.00" stroke="#d86a8a" stroke-width="0.8" />
<line x1="611.60" y1="277.00" x2="611.60" y2="280.00" stroke="#d86a8a" stroke-width="0.8" />
<line x1="613.40" y1="277.00" x2="613.40" y2="280.00" stroke="#d86a8a" stroke-width="0.8" />
<line x1="616.90" y1="277.00" x2="616.90" y2="280.00" stroke="#d86a8a" stroke-width="0.8" />
<line x1="619.20" y1="277.00" x2="619.20" y2="280.00" stroke="#d86a8a" stroke-width="0.8" />
<line x1="624.50" y1="277.00" x2="624.50" y2="280.00" stroke="#d86a8a" stroke-width="0.8" />
<line x1="630.30" y1="277.00" x2="630.30" y2="280.00" stroke="#d86a8a" stroke-width="0.8" />
<line x1="634.40" y1="277.00" x2="634.40" y2="280.00" stroke="#d86a8a" stroke-width="0.8" />
<line x1="639.60" y1="277.00" x2="639.60" y2="280.00" stroke="#d86a8a" stroke-width="0.8" />
<line x1="653.70" y1="277.00" x2="653.70" y2="280.00" stroke="#d86a8a" stroke-width="0.8" />
</svg>
</body></html>
